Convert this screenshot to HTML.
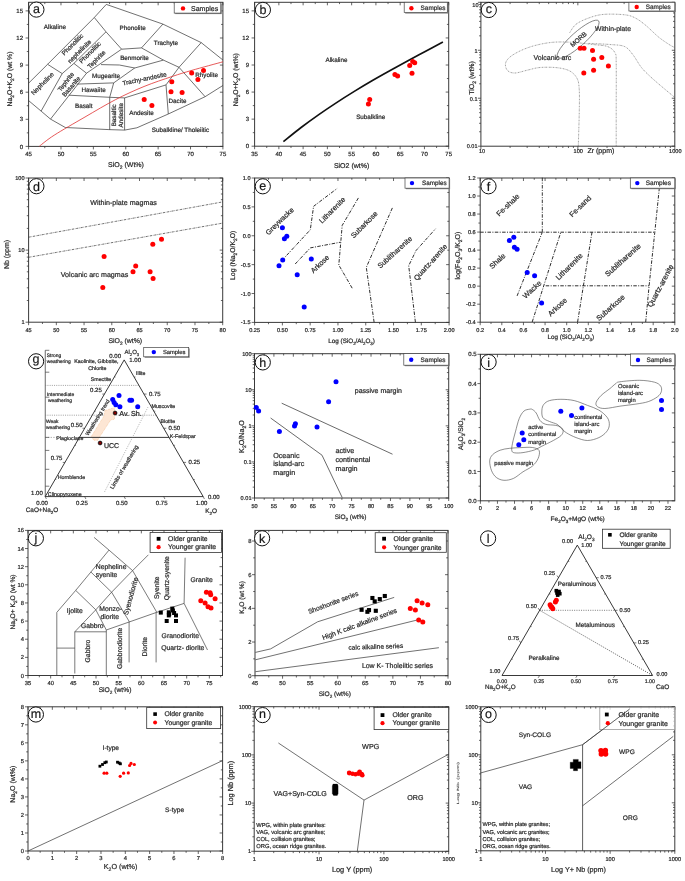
<!DOCTYPE html>
<html><head><meta charset="utf-8"><style>
html,body{margin:0;padding:0;background:#fff;}
svg{display:block;will-change:transform;}
text{font-family:"Liberation Sans", sans-serif;stroke:#333;stroke-width:0.22px;text-rendering:geometricPrecision;}
</style></head><body>
<svg width="685" height="881" viewBox="0 0 685 881">
<rect width="685" height="881" fill="#fff"/>
<rect x="28.6" y="2.3" width="194.3" height="144.1" fill="none" stroke="#3a3a3a" stroke-width="1.0"/>
<line x1="28.6" y1="146.4" x2="28.6" y2="149.4" stroke="#333" stroke-width="0.75" stroke-linecap="butt"/>
<line x1="28.6" y1="2.3" x2="28.6" y2="5.3" stroke="#333" stroke-width="0.75" stroke-linecap="butt"/>
<line x1="60.98" y1="146.4" x2="60.98" y2="149.4" stroke="#333" stroke-width="0.75" stroke-linecap="butt"/>
<line x1="60.98" y1="2.3" x2="60.98" y2="5.3" stroke="#333" stroke-width="0.75" stroke-linecap="butt"/>
<line x1="93.37" y1="146.4" x2="93.37" y2="149.4" stroke="#333" stroke-width="0.75" stroke-linecap="butt"/>
<line x1="93.37" y1="2.3" x2="93.37" y2="5.3" stroke="#333" stroke-width="0.75" stroke-linecap="butt"/>
<line x1="125.75" y1="146.4" x2="125.75" y2="149.4" stroke="#333" stroke-width="0.75" stroke-linecap="butt"/>
<line x1="125.75" y1="2.3" x2="125.75" y2="5.3" stroke="#333" stroke-width="0.75" stroke-linecap="butt"/>
<line x1="158.13" y1="146.4" x2="158.13" y2="149.4" stroke="#333" stroke-width="0.75" stroke-linecap="butt"/>
<line x1="158.13" y1="2.3" x2="158.13" y2="5.3" stroke="#333" stroke-width="0.75" stroke-linecap="butt"/>
<line x1="190.52" y1="146.4" x2="190.52" y2="149.4" stroke="#333" stroke-width="0.75" stroke-linecap="butt"/>
<line x1="190.52" y1="2.3" x2="190.52" y2="5.3" stroke="#333" stroke-width="0.75" stroke-linecap="butt"/>
<line x1="222.9" y1="146.4" x2="222.9" y2="149.4" stroke="#333" stroke-width="0.75" stroke-linecap="butt"/>
<line x1="222.9" y1="2.3" x2="222.9" y2="5.3" stroke="#333" stroke-width="0.75" stroke-linecap="butt"/>
<line x1="44.79" y1="146.4" x2="44.79" y2="148.2" stroke="#333" stroke-width="0.75" stroke-linecap="butt"/>
<line x1="44.79" y1="2.3" x2="44.79" y2="4.1" stroke="#333" stroke-width="0.75" stroke-linecap="butt"/>
<line x1="77.18" y1="146.4" x2="77.18" y2="148.2" stroke="#333" stroke-width="0.75" stroke-linecap="butt"/>
<line x1="77.18" y1="2.3" x2="77.18" y2="4.1" stroke="#333" stroke-width="0.75" stroke-linecap="butt"/>
<line x1="109.56" y1="146.4" x2="109.56" y2="148.2" stroke="#333" stroke-width="0.75" stroke-linecap="butt"/>
<line x1="109.56" y1="2.3" x2="109.56" y2="4.1" stroke="#333" stroke-width="0.75" stroke-linecap="butt"/>
<line x1="141.94" y1="146.4" x2="141.94" y2="148.2" stroke="#333" stroke-width="0.75" stroke-linecap="butt"/>
<line x1="141.94" y1="2.3" x2="141.94" y2="4.1" stroke="#333" stroke-width="0.75" stroke-linecap="butt"/>
<line x1="174.33" y1="146.4" x2="174.33" y2="148.2" stroke="#333" stroke-width="0.75" stroke-linecap="butt"/>
<line x1="174.33" y1="2.3" x2="174.33" y2="4.1" stroke="#333" stroke-width="0.75" stroke-linecap="butt"/>
<line x1="206.71" y1="146.4" x2="206.71" y2="148.2" stroke="#333" stroke-width="0.75" stroke-linecap="butt"/>
<line x1="206.71" y1="2.3" x2="206.71" y2="4.1" stroke="#333" stroke-width="0.75" stroke-linecap="butt"/>
<line x1="25.6" y1="146.4" x2="28.6" y2="146.4" stroke="#333" stroke-width="0.75" stroke-linecap="butt"/>
<line x1="219.9" y1="146.4" x2="222.9" y2="146.4" stroke="#333" stroke-width="0.75" stroke-linecap="butt"/>
<line x1="25.6" y1="119.3" x2="28.6" y2="119.3" stroke="#333" stroke-width="0.75" stroke-linecap="butt"/>
<line x1="219.9" y1="119.3" x2="222.9" y2="119.3" stroke="#333" stroke-width="0.75" stroke-linecap="butt"/>
<line x1="25.6" y1="92.19" x2="28.6" y2="92.19" stroke="#333" stroke-width="0.75" stroke-linecap="butt"/>
<line x1="219.9" y1="92.19" x2="222.9" y2="92.19" stroke="#333" stroke-width="0.75" stroke-linecap="butt"/>
<line x1="25.6" y1="65.09" x2="28.6" y2="65.09" stroke="#333" stroke-width="0.75" stroke-linecap="butt"/>
<line x1="219.9" y1="65.09" x2="222.9" y2="65.09" stroke="#333" stroke-width="0.75" stroke-linecap="butt"/>
<line x1="25.6" y1="37.99" x2="28.6" y2="37.99" stroke="#333" stroke-width="0.75" stroke-linecap="butt"/>
<line x1="219.9" y1="37.99" x2="222.9" y2="37.99" stroke="#333" stroke-width="0.75" stroke-linecap="butt"/>
<line x1="25.6" y1="10.88" x2="28.6" y2="10.88" stroke="#333" stroke-width="0.75" stroke-linecap="butt"/>
<line x1="219.9" y1="10.88" x2="222.9" y2="10.88" stroke="#333" stroke-width="0.75" stroke-linecap="butt"/>
<line x1="26.8" y1="132.85" x2="28.6" y2="132.85" stroke="#333" stroke-width="0.75" stroke-linecap="butt"/>
<line x1="221.1" y1="132.85" x2="222.9" y2="132.85" stroke="#333" stroke-width="0.75" stroke-linecap="butt"/>
<line x1="26.8" y1="105.74" x2="28.6" y2="105.74" stroke="#333" stroke-width="0.75" stroke-linecap="butt"/>
<line x1="221.1" y1="105.74" x2="222.9" y2="105.74" stroke="#333" stroke-width="0.75" stroke-linecap="butt"/>
<line x1="26.8" y1="78.64" x2="28.6" y2="78.64" stroke="#333" stroke-width="0.75" stroke-linecap="butt"/>
<line x1="221.1" y1="78.64" x2="222.9" y2="78.64" stroke="#333" stroke-width="0.75" stroke-linecap="butt"/>
<line x1="26.8" y1="51.54" x2="28.6" y2="51.54" stroke="#333" stroke-width="0.75" stroke-linecap="butt"/>
<line x1="221.1" y1="51.54" x2="222.9" y2="51.54" stroke="#333" stroke-width="0.75" stroke-linecap="butt"/>
<line x1="26.8" y1="24.43" x2="28.6" y2="24.43" stroke="#333" stroke-width="0.75" stroke-linecap="butt"/>
<line x1="221.1" y1="24.43" x2="222.9" y2="24.43" stroke="#333" stroke-width="0.75" stroke-linecap="butt"/>
<text x="28.6" y="156.35" font-size="6.0" text-anchor="middle" fill="#222">45</text>
<text x="60.98" y="156.35" font-size="6.0" text-anchor="middle" fill="#222">50</text>
<text x="93.37" y="156.35" font-size="6.0" text-anchor="middle" fill="#222">55</text>
<text x="125.75" y="156.35" font-size="6.0" text-anchor="middle" fill="#222">60</text>
<text x="158.13" y="156.35" font-size="6.0" text-anchor="middle" fill="#222">65</text>
<text x="190.52" y="156.35" font-size="6.0" text-anchor="middle" fill="#222">70</text>
<text x="222.9" y="156.35" font-size="6.0" text-anchor="middle" fill="#222">75</text>
<text x="23" y="148.55" font-size="6.0" text-anchor="end" fill="#222">0</text>
<text x="23" y="121.44" font-size="6.0" text-anchor="end" fill="#222">3</text>
<text x="23" y="94.34" font-size="6.0" text-anchor="end" fill="#222">6</text>
<text x="23" y="67.24" font-size="6.0" text-anchor="end" fill="#222">9</text>
<text x="23" y="40.13" font-size="6.0" text-anchor="end" fill="#222">12</text>
<text x="23" y="13.03" font-size="6.0" text-anchor="end" fill="#222">15</text>
<text x="126" y="166.81" font-size="7.0" text-anchor="middle" fill="#222">SiO<tspan font-size="70%" baseline-shift="-40%">2</tspan> (Wt%)</text>
<text x="9.7" y="81.28" font-size="6.9" text-anchor="middle" fill="#222" transform="rotate(-90 9.7 79)">Na<tspan font-size="70%" baseline-shift="-40%">2</tspan>O+K<tspan font-size="70%" baseline-shift="-40%">2</tspan>O (wt %)</text>
<polyline points="28.6,83.2 47.6,64.3 94.3,17.5 106.3,4.4 162.9,24.1 201.2,42.6 222.9,60" fill="none" stroke="#333" stroke-width="0.7" stroke-linejoin="miter"/>
<polyline points="28.6,100.6 41.1,111.1 50.5,119.1 65.3,127.5 108.9,129.6 124.6,130.1 136.9,127.8 168.3,114 205.1,96.7 222.9,85.5" fill="none" stroke="#333" stroke-width="0.7" stroke-linejoin="miter"/>
<polyline points="94.3,17.5 106,31.8 121.6,49.2" fill="none" stroke="#333" stroke-width="0.7" stroke-linejoin="miter"/>
<polyline points="47.6,64.3 62.2,73.6 73.9,63.4 106,31.8" fill="none" stroke="#333" stroke-width="0.7" stroke-linejoin="miter"/>
<polyline points="62.2,73.6 41.1,111.1" fill="none" stroke="#333" stroke-width="0.7" stroke-linejoin="miter"/>
<polyline points="73.9,63.4 86.5,73.2" fill="none" stroke="#333" stroke-width="0.7" stroke-linejoin="miter"/>
<polyline points="121.6,49.2 86.5,73.2 50.5,119.1" fill="none" stroke="#333" stroke-width="0.7" stroke-linejoin="miter"/>
<polyline points="121.6,49.2 141.5,47.9 162.9,24.1" fill="none" stroke="#333" stroke-width="0.7" stroke-linejoin="miter"/>
<polyline points="141.5,47.9 163.4,60.1 179,67.3 201.2,42.6" fill="none" stroke="#333" stroke-width="0.7" stroke-linejoin="miter"/>
<polyline points="101,64.6 119.4,65 134.7,68 163.4,60.1" fill="none" stroke="#333" stroke-width="0.7" stroke-linejoin="miter"/>
<polyline points="134.7,68 113.7,82.9 109.7,97.3 109.7,129.7" fill="none" stroke="#333" stroke-width="0.7" stroke-linejoin="miter"/>
<polyline points="76.8,84.1 113.7,82.9" fill="none" stroke="#333" stroke-width="0.7" stroke-linejoin="miter"/>
<polyline points="68.8,95.2 109.7,97.3 124.6,97.9 166,84.9 179,67.3 205.1,96.7" fill="none" stroke="#333" stroke-width="0.7" stroke-linejoin="miter"/>
<polyline points="124.6,97.9 124.6,130.1" fill="none" stroke="#333" stroke-width="0.7" stroke-linejoin="miter"/>
<polyline points="166,84.9 168.3,114" fill="none" stroke="#333" stroke-width="0.7" stroke-linejoin="miter"/>
<path d="M39.4,146.2 C41.87,144.37 46.6,140.07 54.2,135.2 C61.8,130.33 74.77,122.93 85,117 C95.23,111.07 105.77,104.68 115.6,99.6 C125.43,94.52 134.58,90.35 144,86.5 C153.42,82.65 164.1,79.2 172.1,76.5 C180.1,73.8 183.53,72.75 192,70.3 C200.47,67.85 217.75,63.22 222.9,61.8" fill="none" stroke="#e03030" stroke-width="0.8"/>
<circle cx="144.2" cy="99.5" r="2.5" fill="#f00" stroke="none" stroke-width="0"/>
<circle cx="151.9" cy="105.6" r="2.5" fill="#f00" stroke="none" stroke-width="0"/>
<circle cx="171.8" cy="81.8" r="2.5" fill="#f00" stroke="none" stroke-width="0"/>
<circle cx="171" cy="91.8" r="2.5" fill="#f00" stroke="none" stroke-width="0"/>
<circle cx="182.1" cy="92.6" r="2.5" fill="#f00" stroke="none" stroke-width="0"/>
<circle cx="191.7" cy="73.1" r="2.5" fill="#f00" stroke="none" stroke-width="0"/>
<circle cx="203.5" cy="70.6" r="2.5" fill="#f00" stroke="none" stroke-width="0"/>
<circle cx="197.9" cy="79.5" r="2.5" fill="#f00" stroke="none" stroke-width="0"/>
<text x="141.5" y="114.58" font-size="6.3" text-anchor="middle" fill="#222">Andesite</text>
<text x="177.5" y="102.58" font-size="6.3" text-anchor="middle" fill="#222">Dacite</text>
<text x="206.6" y="77.48" font-size="6.3" text-anchor="middle" fill="#222">Rhyolite</text>
<text x="180.5" y="131.88" font-size="6.3" text-anchor="middle" fill="#222">Subalkline/ Tholeiitic</text>
<text x="144.5" y="80.88" font-size="6.3" text-anchor="middle" fill="#222" transform="rotate(-12 144.5 78.8)">Trachy-andesite</text>
<text x="134.5" y="59.58" font-size="6.3" text-anchor="middle" fill="#222">Benmorite</text>
<text x="105.9" y="77.68" font-size="6.3" text-anchor="middle" fill="#222">Mugearite</text>
<text x="93.6" y="92.08" font-size="6.3" text-anchor="middle" fill="#222">Hawaiite</text>
<text x="83.7" y="108.28" font-size="6.3" text-anchor="middle" fill="#222">Basalt</text>
<text x="113.8" y="117.38" font-size="6.3" text-anchor="middle" fill="#222" transform="rotate(-90 113.8 115.3)">Basaltic</text>
<text x="120.8" y="117.38" font-size="6.3" text-anchor="middle" fill="#222" transform="rotate(-90 120.8 115.3)">Andesite</text>
<text x="132.6" y="29.98" font-size="6.3" text-anchor="middle" fill="#222">Phonolite</text>
<text x="166" y="44.98" font-size="6.3" text-anchor="middle" fill="#222">Trachyte</text>
<text x="54.9" y="28.68" font-size="6.3" text-anchor="middle" fill="#222">Alkaline</text>
<text x="72.5" y="46.58" font-size="6.3" text-anchor="middle" fill="#222" transform="rotate(-45 72.5 44.5)">Phonolitic</text>
<text x="79.5" y="53.58" font-size="6.3" text-anchor="middle" fill="#222" transform="rotate(-45 79.5 51.5)">nephelinite</text>
<text x="90" y="54.58" font-size="6.3" text-anchor="middle" fill="#222" transform="rotate(-45 90 52.5)">Phonolitic</text>
<text x="96.5" y="61.58" font-size="6.3" text-anchor="middle" fill="#222" transform="rotate(-45 96.5 59.5)">Tephrite</text>
<text x="42.5" y="85.74" font-size="6.5" text-anchor="middle" fill="#222" transform="rotate(-45 42.5 83.6)">Nepheline</text>
<text x="65.9" y="83.98" font-size="6.3" text-anchor="middle" fill="#222" transform="rotate(-52 65.9 81.9)">Tephrite</text>
<text x="71.2" y="88.58" font-size="6.3" text-anchor="middle" fill="#222" transform="rotate(-50 71.2 86.5)">Basanite</text>
<rect x="175.2" y="3.5" width="46.6" height="10.6" fill="#888" stroke="none" stroke-width="0"/>
<rect x="174.2" y="2.5" width="46.6" height="10.6" fill="#fff" stroke="#444" stroke-width="0.7"/>
<circle cx="183" cy="8.4" r="2.2" fill="#f00" stroke="none" stroke-width="0"/>
<text x="191" y="10.71" font-size="7.0" text-anchor="start" fill="#222">Samples</text>
<circle cx="36.4" cy="9.6" r="7.6" fill="#fff" stroke="#111" stroke-width="1.0"/>
<text x="36.4" y="12.85" font-size="12.5" text-anchor="middle" fill="#111">a</text>
<rect x="254.6" y="2.3" width="194.1" height="143.9" fill="none" stroke="#3a3a3a" stroke-width="1.0"/>
<line x1="254.6" y1="146.2" x2="254.6" y2="149.2" stroke="#333" stroke-width="0.75" stroke-linecap="butt"/>
<line x1="254.6" y1="2.3" x2="254.6" y2="5.3" stroke="#333" stroke-width="0.75" stroke-linecap="butt"/>
<line x1="278.86" y1="146.2" x2="278.86" y2="149.2" stroke="#333" stroke-width="0.75" stroke-linecap="butt"/>
<line x1="278.86" y1="2.3" x2="278.86" y2="5.3" stroke="#333" stroke-width="0.75" stroke-linecap="butt"/>
<line x1="303.12" y1="146.2" x2="303.12" y2="149.2" stroke="#333" stroke-width="0.75" stroke-linecap="butt"/>
<line x1="303.12" y1="2.3" x2="303.12" y2="5.3" stroke="#333" stroke-width="0.75" stroke-linecap="butt"/>
<line x1="327.39" y1="146.2" x2="327.39" y2="149.2" stroke="#333" stroke-width="0.75" stroke-linecap="butt"/>
<line x1="327.39" y1="2.3" x2="327.39" y2="5.3" stroke="#333" stroke-width="0.75" stroke-linecap="butt"/>
<line x1="351.65" y1="146.2" x2="351.65" y2="149.2" stroke="#333" stroke-width="0.75" stroke-linecap="butt"/>
<line x1="351.65" y1="2.3" x2="351.65" y2="5.3" stroke="#333" stroke-width="0.75" stroke-linecap="butt"/>
<line x1="375.91" y1="146.2" x2="375.91" y2="149.2" stroke="#333" stroke-width="0.75" stroke-linecap="butt"/>
<line x1="375.91" y1="2.3" x2="375.91" y2="5.3" stroke="#333" stroke-width="0.75" stroke-linecap="butt"/>
<line x1="400.17" y1="146.2" x2="400.17" y2="149.2" stroke="#333" stroke-width="0.75" stroke-linecap="butt"/>
<line x1="400.17" y1="2.3" x2="400.17" y2="5.3" stroke="#333" stroke-width="0.75" stroke-linecap="butt"/>
<line x1="424.44" y1="146.2" x2="424.44" y2="149.2" stroke="#333" stroke-width="0.75" stroke-linecap="butt"/>
<line x1="424.44" y1="2.3" x2="424.44" y2="5.3" stroke="#333" stroke-width="0.75" stroke-linecap="butt"/>
<line x1="448.7" y1="146.2" x2="448.7" y2="149.2" stroke="#333" stroke-width="0.75" stroke-linecap="butt"/>
<line x1="448.7" y1="2.3" x2="448.7" y2="5.3" stroke="#333" stroke-width="0.75" stroke-linecap="butt"/>
<line x1="266.73" y1="146.2" x2="266.73" y2="148" stroke="#333" stroke-width="0.75" stroke-linecap="butt"/>
<line x1="266.73" y1="2.3" x2="266.73" y2="4.1" stroke="#333" stroke-width="0.75" stroke-linecap="butt"/>
<line x1="290.99" y1="146.2" x2="290.99" y2="148" stroke="#333" stroke-width="0.75" stroke-linecap="butt"/>
<line x1="290.99" y1="2.3" x2="290.99" y2="4.1" stroke="#333" stroke-width="0.75" stroke-linecap="butt"/>
<line x1="315.26" y1="146.2" x2="315.26" y2="148" stroke="#333" stroke-width="0.75" stroke-linecap="butt"/>
<line x1="315.26" y1="2.3" x2="315.26" y2="4.1" stroke="#333" stroke-width="0.75" stroke-linecap="butt"/>
<line x1="339.52" y1="146.2" x2="339.52" y2="148" stroke="#333" stroke-width="0.75" stroke-linecap="butt"/>
<line x1="339.52" y1="2.3" x2="339.52" y2="4.1" stroke="#333" stroke-width="0.75" stroke-linecap="butt"/>
<line x1="363.78" y1="146.2" x2="363.78" y2="148" stroke="#333" stroke-width="0.75" stroke-linecap="butt"/>
<line x1="363.78" y1="2.3" x2="363.78" y2="4.1" stroke="#333" stroke-width="0.75" stroke-linecap="butt"/>
<line x1="388.04" y1="146.2" x2="388.04" y2="148" stroke="#333" stroke-width="0.75" stroke-linecap="butt"/>
<line x1="388.04" y1="2.3" x2="388.04" y2="4.1" stroke="#333" stroke-width="0.75" stroke-linecap="butt"/>
<line x1="412.31" y1="146.2" x2="412.31" y2="148" stroke="#333" stroke-width="0.75" stroke-linecap="butt"/>
<line x1="412.31" y1="2.3" x2="412.31" y2="4.1" stroke="#333" stroke-width="0.75" stroke-linecap="butt"/>
<line x1="436.57" y1="146.2" x2="436.57" y2="148" stroke="#333" stroke-width="0.75" stroke-linecap="butt"/>
<line x1="436.57" y1="2.3" x2="436.57" y2="4.1" stroke="#333" stroke-width="0.75" stroke-linecap="butt"/>
<line x1="251.6" y1="146.2" x2="254.6" y2="146.2" stroke="#333" stroke-width="0.75" stroke-linecap="butt"/>
<line x1="445.7" y1="146.2" x2="448.7" y2="146.2" stroke="#333" stroke-width="0.75" stroke-linecap="butt"/>
<line x1="251.6" y1="119.13" x2="254.6" y2="119.13" stroke="#333" stroke-width="0.75" stroke-linecap="butt"/>
<line x1="445.7" y1="119.13" x2="448.7" y2="119.13" stroke="#333" stroke-width="0.75" stroke-linecap="butt"/>
<line x1="251.6" y1="92.07" x2="254.6" y2="92.07" stroke="#333" stroke-width="0.75" stroke-linecap="butt"/>
<line x1="445.7" y1="92.07" x2="448.7" y2="92.07" stroke="#333" stroke-width="0.75" stroke-linecap="butt"/>
<line x1="251.6" y1="65" x2="254.6" y2="65" stroke="#333" stroke-width="0.75" stroke-linecap="butt"/>
<line x1="445.7" y1="65" x2="448.7" y2="65" stroke="#333" stroke-width="0.75" stroke-linecap="butt"/>
<line x1="251.6" y1="37.94" x2="254.6" y2="37.94" stroke="#333" stroke-width="0.75" stroke-linecap="butt"/>
<line x1="445.7" y1="37.94" x2="448.7" y2="37.94" stroke="#333" stroke-width="0.75" stroke-linecap="butt"/>
<line x1="251.6" y1="10.87" x2="254.6" y2="10.87" stroke="#333" stroke-width="0.75" stroke-linecap="butt"/>
<line x1="445.7" y1="10.87" x2="448.7" y2="10.87" stroke="#333" stroke-width="0.75" stroke-linecap="butt"/>
<line x1="252.8" y1="132.67" x2="254.6" y2="132.67" stroke="#333" stroke-width="0.75" stroke-linecap="butt"/>
<line x1="446.9" y1="132.67" x2="448.7" y2="132.67" stroke="#333" stroke-width="0.75" stroke-linecap="butt"/>
<line x1="252.8" y1="105.6" x2="254.6" y2="105.6" stroke="#333" stroke-width="0.75" stroke-linecap="butt"/>
<line x1="446.9" y1="105.6" x2="448.7" y2="105.6" stroke="#333" stroke-width="0.75" stroke-linecap="butt"/>
<line x1="252.8" y1="78.54" x2="254.6" y2="78.54" stroke="#333" stroke-width="0.75" stroke-linecap="butt"/>
<line x1="446.9" y1="78.54" x2="448.7" y2="78.54" stroke="#333" stroke-width="0.75" stroke-linecap="butt"/>
<line x1="252.8" y1="51.47" x2="254.6" y2="51.47" stroke="#333" stroke-width="0.75" stroke-linecap="butt"/>
<line x1="446.9" y1="51.47" x2="448.7" y2="51.47" stroke="#333" stroke-width="0.75" stroke-linecap="butt"/>
<line x1="252.8" y1="24.4" x2="254.6" y2="24.4" stroke="#333" stroke-width="0.75" stroke-linecap="butt"/>
<line x1="446.9" y1="24.4" x2="448.7" y2="24.4" stroke="#333" stroke-width="0.75" stroke-linecap="butt"/>
<text x="254.6" y="156.35" font-size="6.0" text-anchor="middle" fill="#222">35</text>
<text x="278.86" y="156.35" font-size="6.0" text-anchor="middle" fill="#222">40</text>
<text x="303.12" y="156.35" font-size="6.0" text-anchor="middle" fill="#222">45</text>
<text x="327.39" y="156.35" font-size="6.0" text-anchor="middle" fill="#222">50</text>
<text x="351.65" y="156.35" font-size="6.0" text-anchor="middle" fill="#222">55</text>
<text x="375.91" y="156.35" font-size="6.0" text-anchor="middle" fill="#222">60</text>
<text x="400.17" y="156.35" font-size="6.0" text-anchor="middle" fill="#222">65</text>
<text x="424.44" y="156.35" font-size="6.0" text-anchor="middle" fill="#222">70</text>
<text x="448.7" y="156.35" font-size="6.0" text-anchor="middle" fill="#222">75</text>
<text x="249" y="148.35" font-size="6.0" text-anchor="end" fill="#222">0</text>
<text x="249" y="121.28" font-size="6.0" text-anchor="end" fill="#222">3</text>
<text x="249" y="94.22" font-size="6.0" text-anchor="end" fill="#222">6</text>
<text x="249" y="67.15" font-size="6.0" text-anchor="end" fill="#222">9</text>
<text x="249" y="40.08" font-size="6.0" text-anchor="end" fill="#222">12</text>
<text x="249" y="13.02" font-size="6.0" text-anchor="end" fill="#222">15</text>
<text x="351.6" y="167.51" font-size="7.0" text-anchor="middle" fill="#222">SiO2 (wt%)</text>
<text x="235.7" y="81.88" font-size="6.9" text-anchor="middle" fill="#222" transform="rotate(-90 235.7 79.6)">Na<tspan font-size="70%" baseline-shift="-40%">2</tspan>O+K<tspan font-size="70%" baseline-shift="-40%">2</tspan>O (wt%)</text>
<path d="M283.4,141.6 C286.35,139.25 295.2,132 301.1,127.5 C307,123 312.88,118.75 318.8,114.6 C324.72,110.45 330.68,106.47 336.6,102.6 C342.52,98.73 348.4,95.03 354.3,91.4 C360.2,87.77 366.1,84.23 372,80.8 C377.9,77.37 383.78,74.1 389.7,70.8 C395.62,67.5 401.58,64.22 407.5,61 C413.42,57.78 419.3,54.68 425.2,51.5 C431.1,48.32 439.95,43.5 442.9,41.9" fill="none" stroke="#111" stroke-width="1.7"/>
<circle cx="368.4" cy="104.1" r="2.5" fill="#f00" stroke="none" stroke-width="0"/>
<circle cx="369.7" cy="99.4" r="2.5" fill="#f00" stroke="none" stroke-width="0"/>
<circle cx="394.9" cy="74.5" r="2.5" fill="#f00" stroke="none" stroke-width="0"/>
<circle cx="397.6" cy="75.9" r="2.5" fill="#f00" stroke="none" stroke-width="0"/>
<circle cx="409.7" cy="65.5" r="2.5" fill="#f00" stroke="none" stroke-width="0"/>
<circle cx="412.7" cy="61.5" r="2.5" fill="#f00" stroke="none" stroke-width="0"/>
<circle cx="414.7" cy="62.8" r="2.5" fill="#f00" stroke="none" stroke-width="0"/>
<circle cx="412" cy="73.2" r="2.5" fill="#f00" stroke="none" stroke-width="0"/>
<text x="336.5" y="62.48" font-size="6.3" text-anchor="middle" fill="#222">Alkaline</text>
<text x="370.7" y="118.98" font-size="6.3" text-anchor="middle" fill="#222">Subalkline</text>
<rect x="405.2" y="3.3" width="43.1" height="10.3" fill="#888" stroke="none" stroke-width="0"/>
<rect x="404.2" y="2.3" width="43.1" height="10.3" fill="#fff" stroke="#444" stroke-width="0.7"/>
<circle cx="411.4" cy="8.3" r="2.2" fill="#f00" stroke="none" stroke-width="0"/>
<text x="420.6" y="10.41" font-size="6.4" text-anchor="start" fill="#222">Samples</text>
<circle cx="262.9" cy="9.9" r="7.6" fill="#fff" stroke="#111" stroke-width="1.0"/>
<text x="262.9" y="14.4" font-size="12.5" text-anchor="middle" fill="#111">b</text>
<rect x="480.9" y="2.3" width="193.9" height="143.9" fill="none" stroke="#3a3a3a" stroke-width="1.0"/>
<line x1="480.9" y1="146.2" x2="480.9" y2="149.2" stroke="#333" stroke-width="0.75" stroke-linecap="butt"/>
<line x1="480.9" y1="2.3" x2="480.9" y2="5.3" stroke="#333" stroke-width="0.75" stroke-linecap="butt"/>
<line x1="577.85" y1="146.2" x2="577.85" y2="149.2" stroke="#333" stroke-width="0.75" stroke-linecap="butt"/>
<line x1="577.85" y1="2.3" x2="577.85" y2="5.3" stroke="#333" stroke-width="0.75" stroke-linecap="butt"/>
<line x1="674.8" y1="146.2" x2="674.8" y2="149.2" stroke="#333" stroke-width="0.75" stroke-linecap="butt"/>
<line x1="674.8" y1="2.3" x2="674.8" y2="5.3" stroke="#333" stroke-width="0.75" stroke-linecap="butt"/>
<line x1="510.08" y1="146.2" x2="510.08" y2="148" stroke="#333" stroke-width="0.75" stroke-linecap="butt"/>
<line x1="510.08" y1="2.3" x2="510.08" y2="4.1" stroke="#333" stroke-width="0.75" stroke-linecap="butt"/>
<line x1="527.16" y1="146.2" x2="527.16" y2="148" stroke="#333" stroke-width="0.75" stroke-linecap="butt"/>
<line x1="527.16" y1="2.3" x2="527.16" y2="4.1" stroke="#333" stroke-width="0.75" stroke-linecap="butt"/>
<line x1="539.27" y1="146.2" x2="539.27" y2="148" stroke="#333" stroke-width="0.75" stroke-linecap="butt"/>
<line x1="539.27" y1="2.3" x2="539.27" y2="4.1" stroke="#333" stroke-width="0.75" stroke-linecap="butt"/>
<line x1="548.67" y1="146.2" x2="548.67" y2="148" stroke="#333" stroke-width="0.75" stroke-linecap="butt"/>
<line x1="548.67" y1="2.3" x2="548.67" y2="4.1" stroke="#333" stroke-width="0.75" stroke-linecap="butt"/>
<line x1="556.34" y1="146.2" x2="556.34" y2="148" stroke="#333" stroke-width="0.75" stroke-linecap="butt"/>
<line x1="556.34" y1="2.3" x2="556.34" y2="4.1" stroke="#333" stroke-width="0.75" stroke-linecap="butt"/>
<line x1="562.83" y1="146.2" x2="562.83" y2="148" stroke="#333" stroke-width="0.75" stroke-linecap="butt"/>
<line x1="562.83" y1="2.3" x2="562.83" y2="4.1" stroke="#333" stroke-width="0.75" stroke-linecap="butt"/>
<line x1="568.45" y1="146.2" x2="568.45" y2="148" stroke="#333" stroke-width="0.75" stroke-linecap="butt"/>
<line x1="568.45" y1="2.3" x2="568.45" y2="4.1" stroke="#333" stroke-width="0.75" stroke-linecap="butt"/>
<line x1="573.41" y1="146.2" x2="573.41" y2="148" stroke="#333" stroke-width="0.75" stroke-linecap="butt"/>
<line x1="573.41" y1="2.3" x2="573.41" y2="4.1" stroke="#333" stroke-width="0.75" stroke-linecap="butt"/>
<line x1="607.03" y1="146.2" x2="607.03" y2="148" stroke="#333" stroke-width="0.75" stroke-linecap="butt"/>
<line x1="607.03" y1="2.3" x2="607.03" y2="4.1" stroke="#333" stroke-width="0.75" stroke-linecap="butt"/>
<line x1="624.11" y1="146.2" x2="624.11" y2="148" stroke="#333" stroke-width="0.75" stroke-linecap="butt"/>
<line x1="624.11" y1="2.3" x2="624.11" y2="4.1" stroke="#333" stroke-width="0.75" stroke-linecap="butt"/>
<line x1="636.22" y1="146.2" x2="636.22" y2="148" stroke="#333" stroke-width="0.75" stroke-linecap="butt"/>
<line x1="636.22" y1="2.3" x2="636.22" y2="4.1" stroke="#333" stroke-width="0.75" stroke-linecap="butt"/>
<line x1="645.62" y1="146.2" x2="645.62" y2="148" stroke="#333" stroke-width="0.75" stroke-linecap="butt"/>
<line x1="645.62" y1="2.3" x2="645.62" y2="4.1" stroke="#333" stroke-width="0.75" stroke-linecap="butt"/>
<line x1="653.29" y1="146.2" x2="653.29" y2="148" stroke="#333" stroke-width="0.75" stroke-linecap="butt"/>
<line x1="653.29" y1="2.3" x2="653.29" y2="4.1" stroke="#333" stroke-width="0.75" stroke-linecap="butt"/>
<line x1="659.78" y1="146.2" x2="659.78" y2="148" stroke="#333" stroke-width="0.75" stroke-linecap="butt"/>
<line x1="659.78" y1="2.3" x2="659.78" y2="4.1" stroke="#333" stroke-width="0.75" stroke-linecap="butt"/>
<line x1="665.4" y1="146.2" x2="665.4" y2="148" stroke="#333" stroke-width="0.75" stroke-linecap="butt"/>
<line x1="665.4" y1="2.3" x2="665.4" y2="4.1" stroke="#333" stroke-width="0.75" stroke-linecap="butt"/>
<line x1="670.36" y1="146.2" x2="670.36" y2="148" stroke="#333" stroke-width="0.75" stroke-linecap="butt"/>
<line x1="670.36" y1="2.3" x2="670.36" y2="4.1" stroke="#333" stroke-width="0.75" stroke-linecap="butt"/>
<line x1="477.9" y1="146.2" x2="480.9" y2="146.2" stroke="#333" stroke-width="0.75" stroke-linecap="butt"/>
<line x1="671.8" y1="146.2" x2="674.8" y2="146.2" stroke="#333" stroke-width="0.75" stroke-linecap="butt"/>
<line x1="477.9" y1="98.23" x2="480.9" y2="98.23" stroke="#333" stroke-width="0.75" stroke-linecap="butt"/>
<line x1="671.8" y1="98.23" x2="674.8" y2="98.23" stroke="#333" stroke-width="0.75" stroke-linecap="butt"/>
<line x1="477.9" y1="50.27" x2="480.9" y2="50.27" stroke="#333" stroke-width="0.75" stroke-linecap="butt"/>
<line x1="671.8" y1="50.27" x2="674.8" y2="50.27" stroke="#333" stroke-width="0.75" stroke-linecap="butt"/>
<line x1="477.9" y1="2.3" x2="480.9" y2="2.3" stroke="#333" stroke-width="0.75" stroke-linecap="butt"/>
<line x1="671.8" y1="2.3" x2="674.8" y2="2.3" stroke="#333" stroke-width="0.75" stroke-linecap="butt"/>
<line x1="479.1" y1="131.76" x2="480.9" y2="131.76" stroke="#333" stroke-width="0.75" stroke-linecap="butt"/>
<line x1="673" y1="131.76" x2="674.8" y2="131.76" stroke="#333" stroke-width="0.75" stroke-linecap="butt"/>
<line x1="479.1" y1="123.31" x2="480.9" y2="123.31" stroke="#333" stroke-width="0.75" stroke-linecap="butt"/>
<line x1="673" y1="123.31" x2="674.8" y2="123.31" stroke="#333" stroke-width="0.75" stroke-linecap="butt"/>
<line x1="479.1" y1="117.32" x2="480.9" y2="117.32" stroke="#333" stroke-width="0.75" stroke-linecap="butt"/>
<line x1="673" y1="117.32" x2="674.8" y2="117.32" stroke="#333" stroke-width="0.75" stroke-linecap="butt"/>
<line x1="479.1" y1="112.67" x2="480.9" y2="112.67" stroke="#333" stroke-width="0.75" stroke-linecap="butt"/>
<line x1="673" y1="112.67" x2="674.8" y2="112.67" stroke="#333" stroke-width="0.75" stroke-linecap="butt"/>
<line x1="479.1" y1="108.87" x2="480.9" y2="108.87" stroke="#333" stroke-width="0.75" stroke-linecap="butt"/>
<line x1="673" y1="108.87" x2="674.8" y2="108.87" stroke="#333" stroke-width="0.75" stroke-linecap="butt"/>
<line x1="479.1" y1="105.66" x2="480.9" y2="105.66" stroke="#333" stroke-width="0.75" stroke-linecap="butt"/>
<line x1="673" y1="105.66" x2="674.8" y2="105.66" stroke="#333" stroke-width="0.75" stroke-linecap="butt"/>
<line x1="479.1" y1="102.88" x2="480.9" y2="102.88" stroke="#333" stroke-width="0.75" stroke-linecap="butt"/>
<line x1="673" y1="102.88" x2="674.8" y2="102.88" stroke="#333" stroke-width="0.75" stroke-linecap="butt"/>
<line x1="479.1" y1="100.43" x2="480.9" y2="100.43" stroke="#333" stroke-width="0.75" stroke-linecap="butt"/>
<line x1="673" y1="100.43" x2="674.8" y2="100.43" stroke="#333" stroke-width="0.75" stroke-linecap="butt"/>
<line x1="479.1" y1="83.79" x2="480.9" y2="83.79" stroke="#333" stroke-width="0.75" stroke-linecap="butt"/>
<line x1="673" y1="83.79" x2="674.8" y2="83.79" stroke="#333" stroke-width="0.75" stroke-linecap="butt"/>
<line x1="479.1" y1="75.35" x2="480.9" y2="75.35" stroke="#333" stroke-width="0.75" stroke-linecap="butt"/>
<line x1="673" y1="75.35" x2="674.8" y2="75.35" stroke="#333" stroke-width="0.75" stroke-linecap="butt"/>
<line x1="479.1" y1="69.35" x2="480.9" y2="69.35" stroke="#333" stroke-width="0.75" stroke-linecap="butt"/>
<line x1="673" y1="69.35" x2="674.8" y2="69.35" stroke="#333" stroke-width="0.75" stroke-linecap="butt"/>
<line x1="479.1" y1="64.71" x2="480.9" y2="64.71" stroke="#333" stroke-width="0.75" stroke-linecap="butt"/>
<line x1="673" y1="64.71" x2="674.8" y2="64.71" stroke="#333" stroke-width="0.75" stroke-linecap="butt"/>
<line x1="479.1" y1="60.91" x2="480.9" y2="60.91" stroke="#333" stroke-width="0.75" stroke-linecap="butt"/>
<line x1="673" y1="60.91" x2="674.8" y2="60.91" stroke="#333" stroke-width="0.75" stroke-linecap="butt"/>
<line x1="479.1" y1="57.7" x2="480.9" y2="57.7" stroke="#333" stroke-width="0.75" stroke-linecap="butt"/>
<line x1="673" y1="57.7" x2="674.8" y2="57.7" stroke="#333" stroke-width="0.75" stroke-linecap="butt"/>
<line x1="479.1" y1="54.92" x2="480.9" y2="54.92" stroke="#333" stroke-width="0.75" stroke-linecap="butt"/>
<line x1="673" y1="54.92" x2="674.8" y2="54.92" stroke="#333" stroke-width="0.75" stroke-linecap="butt"/>
<line x1="479.1" y1="52.46" x2="480.9" y2="52.46" stroke="#333" stroke-width="0.75" stroke-linecap="butt"/>
<line x1="673" y1="52.46" x2="674.8" y2="52.46" stroke="#333" stroke-width="0.75" stroke-linecap="butt"/>
<line x1="479.1" y1="35.83" x2="480.9" y2="35.83" stroke="#333" stroke-width="0.75" stroke-linecap="butt"/>
<line x1="673" y1="35.83" x2="674.8" y2="35.83" stroke="#333" stroke-width="0.75" stroke-linecap="butt"/>
<line x1="479.1" y1="27.38" x2="480.9" y2="27.38" stroke="#333" stroke-width="0.75" stroke-linecap="butt"/>
<line x1="673" y1="27.38" x2="674.8" y2="27.38" stroke="#333" stroke-width="0.75" stroke-linecap="butt"/>
<line x1="479.1" y1="21.39" x2="480.9" y2="21.39" stroke="#333" stroke-width="0.75" stroke-linecap="butt"/>
<line x1="673" y1="21.39" x2="674.8" y2="21.39" stroke="#333" stroke-width="0.75" stroke-linecap="butt"/>
<line x1="479.1" y1="16.74" x2="480.9" y2="16.74" stroke="#333" stroke-width="0.75" stroke-linecap="butt"/>
<line x1="673" y1="16.74" x2="674.8" y2="16.74" stroke="#333" stroke-width="0.75" stroke-linecap="butt"/>
<line x1="479.1" y1="12.94" x2="480.9" y2="12.94" stroke="#333" stroke-width="0.75" stroke-linecap="butt"/>
<line x1="673" y1="12.94" x2="674.8" y2="12.94" stroke="#333" stroke-width="0.75" stroke-linecap="butt"/>
<line x1="479.1" y1="9.73" x2="480.9" y2="9.73" stroke="#333" stroke-width="0.75" stroke-linecap="butt"/>
<line x1="673" y1="9.73" x2="674.8" y2="9.73" stroke="#333" stroke-width="0.75" stroke-linecap="butt"/>
<line x1="479.1" y1="6.95" x2="480.9" y2="6.95" stroke="#333" stroke-width="0.75" stroke-linecap="butt"/>
<line x1="673" y1="6.95" x2="674.8" y2="6.95" stroke="#333" stroke-width="0.75" stroke-linecap="butt"/>
<line x1="479.1" y1="4.49" x2="480.9" y2="4.49" stroke="#333" stroke-width="0.75" stroke-linecap="butt"/>
<line x1="673" y1="4.49" x2="674.8" y2="4.49" stroke="#333" stroke-width="0.75" stroke-linecap="butt"/>
<text x="482" y="152.57" font-size="5.5" text-anchor="middle" fill="#222">10</text>
<text x="578.2" y="152.6" font-size="5.6" text-anchor="middle" fill="#222">100</text>
<text x="675.3" y="152.6" font-size="5.6" text-anchor="middle" fill="#222">1000</text>
<text x="600.9" y="153.03" font-size="7.05" text-anchor="middle" fill="#222">Zr (ppm)</text>
<text x="478.5" y="6.7" font-size="5.6" text-anchor="end" fill="#222">10</text>
<text x="477.5" y="52.97" font-size="5.5" text-anchor="end" fill="#222">1</text>
<text x="477.5" y="100.97" font-size="5.5" text-anchor="end" fill="#222">0.1</text>
<text x="477.5" y="148.47" font-size="5.5" text-anchor="end" fill="#222">0.01</text>
<text x="471.9" y="80.21" font-size="7.0" text-anchor="middle" fill="#222" transform="rotate(-90 471.9 77.9)">TiO<tspan font-size="70%" baseline-shift="-40%">2</tspan> (wt%)</text>
<path d="M616.2,146.2 C616.2,140.17 616.2,123.78 616.2,110 C616.2,96.22 616.38,73 616.2,63.5 C616.02,54 616.52,55.82 615.1,53 C613.68,50.18 611.4,48.02 607.7,46.6 C604,45.18 598.88,45.22 592.9,44.5 C586.92,43.78 578.5,42.67 571.8,42.3 C565.1,41.93 558.83,41.77 552.7,42.3 C546.57,42.83 540.28,44.13 535,45.5 C529.72,46.87 525.17,48.58 521,50.5 C516.83,52.42 512.58,54.83 510,57 C507.42,59.17 505.92,61.25 505.5,63.5 C505.08,65.75 505.92,68.92 507.5,70.5 C509.08,72.08 511.58,73.08 515,73 C518.42,72.92 523.83,70.92 528,70 C532.17,69.08 535.17,67.88 540,67.5 C544.83,67.12 552.07,67.13 557,67.7 C561.93,68.27 566.27,69.13 569.6,70.9 C572.93,72.67 575.4,75.3 577,78.3 C578.6,81.3 578.82,83.62 579.2,88.9 C579.58,94.18 579.45,100.45 579.3,110 C579.15,119.55 578.47,140.17 578.3,146.2" fill="none" stroke="#666" stroke-width="0.6" stroke-dasharray="1.6,0.7,0.5,0.7"/>
<path d="M569.6,32.8 C570.67,31.38 572.82,26.77 576,24.3 C579.18,21.83 584.12,19.65 588.7,18 C593.28,16.35 597.5,14.93 603.5,14.4 C609.5,13.87 619.4,14.2 624.7,14.8 C630,15.4 631.78,16.23 635.3,18 C638.82,19.77 641.93,22.23 645.8,25.4 C649.67,28.57 654.62,33.82 658.5,37 C662.38,40.18 666.38,42.73 669.1,44.5 C671.82,46.27 673.85,47.08 674.8,47.6" fill="none" stroke="#666" stroke-width="0.6" stroke-dasharray="1.6,0.7,0.5,0.7"/>
<path d="M588.7,43.4 C592.23,43.58 603.9,43.97 609.9,44.5 C615.9,45.03 620.83,44.85 624.7,46.6 C628.57,48.35 630.28,51.48 633.1,55 C635.92,58.52 638.42,63.82 641.6,67.7 C644.78,71.58 647.97,74.42 652.2,78.3 C656.43,82.18 663.23,87.82 667,91 C670.77,94.18 673.5,96.33 674.8,97.4" fill="none" stroke="#666" stroke-width="0.6" stroke-dasharray="1.6,0.7,0.5,0.7"/>
<ellipse cx="578.1" cy="39.2" rx="27.5" ry="7" transform="rotate(-41.8 578.1 39.2)" fill="none" stroke="#444" stroke-width="0.6"/>
<circle cx="580.2" cy="48.3" r="2.5" fill="#f00" stroke="none" stroke-width="0"/>
<circle cx="584" cy="48.3" r="2.5" fill="#f00" stroke="none" stroke-width="0"/>
<circle cx="592.5" cy="50.4" r="2.5" fill="#f00" stroke="none" stroke-width="0"/>
<circle cx="601.8" cy="57.6" r="2.5" fill="#f00" stroke="none" stroke-width="0"/>
<circle cx="593.6" cy="59.3" r="2.5" fill="#f00" stroke="none" stroke-width="0"/>
<circle cx="608.4" cy="66" r="2.5" fill="#f00" stroke="none" stroke-width="0"/>
<circle cx="593.6" cy="70.3" r="2.5" fill="#f00" stroke="none" stroke-width="0"/>
<circle cx="583.8" cy="73" r="2.5" fill="#f00" stroke="none" stroke-width="0"/>
<text x="613" y="30.84" font-size="6.8" text-anchor="middle" fill="#222">Within-plate</text>
<text x="552.4" y="59.91" font-size="7.0" text-anchor="middle" fill="#222">Volcanic arc</text>
<text x="578.5" y="41.65" font-size="6.5" text-anchor="middle" fill="#222" transform="rotate(-42 578.5 39.5)">MORB</text>
<rect x="629.9" y="3.3" width="45.9" height="8.7" fill="#888" stroke="none" stroke-width="0"/>
<rect x="628.9" y="2.3" width="45.9" height="8.7" fill="#fff" stroke="#444" stroke-width="0.7"/>
<circle cx="636.7" cy="7" r="2.2" fill="#f00" stroke="none" stroke-width="0"/>
<text x="645.8" y="9.11" font-size="6.4" text-anchor="start" fill="#222">Samples</text>
<circle cx="488.8" cy="10" r="7.6" fill="#fff" stroke="#111" stroke-width="1.0"/>
<text x="488.8" y="13.25" font-size="12.5" text-anchor="middle" fill="#111">c</text>
<rect x="28.6" y="178" width="194.1" height="144.2" fill="none" stroke="#3a3a3a" stroke-width="1.0"/>
<line x1="28.6" y1="322.2" x2="28.6" y2="325.2" stroke="#333" stroke-width="0.75" stroke-linecap="butt"/>
<line x1="28.6" y1="178" x2="28.6" y2="181" stroke="#333" stroke-width="0.75" stroke-linecap="butt"/>
<line x1="56.33" y1="322.2" x2="56.33" y2="325.2" stroke="#333" stroke-width="0.75" stroke-linecap="butt"/>
<line x1="56.33" y1="178" x2="56.33" y2="181" stroke="#333" stroke-width="0.75" stroke-linecap="butt"/>
<line x1="84.06" y1="322.2" x2="84.06" y2="325.2" stroke="#333" stroke-width="0.75" stroke-linecap="butt"/>
<line x1="84.06" y1="178" x2="84.06" y2="181" stroke="#333" stroke-width="0.75" stroke-linecap="butt"/>
<line x1="111.79" y1="322.2" x2="111.79" y2="325.2" stroke="#333" stroke-width="0.75" stroke-linecap="butt"/>
<line x1="111.79" y1="178" x2="111.79" y2="181" stroke="#333" stroke-width="0.75" stroke-linecap="butt"/>
<line x1="139.51" y1="322.2" x2="139.51" y2="325.2" stroke="#333" stroke-width="0.75" stroke-linecap="butt"/>
<line x1="139.51" y1="178" x2="139.51" y2="181" stroke="#333" stroke-width="0.75" stroke-linecap="butt"/>
<line x1="167.24" y1="322.2" x2="167.24" y2="325.2" stroke="#333" stroke-width="0.75" stroke-linecap="butt"/>
<line x1="167.24" y1="178" x2="167.24" y2="181" stroke="#333" stroke-width="0.75" stroke-linecap="butt"/>
<line x1="194.97" y1="322.2" x2="194.97" y2="325.2" stroke="#333" stroke-width="0.75" stroke-linecap="butt"/>
<line x1="194.97" y1="178" x2="194.97" y2="181" stroke="#333" stroke-width="0.75" stroke-linecap="butt"/>
<line x1="222.7" y1="322.2" x2="222.7" y2="325.2" stroke="#333" stroke-width="0.75" stroke-linecap="butt"/>
<line x1="222.7" y1="178" x2="222.7" y2="181" stroke="#333" stroke-width="0.75" stroke-linecap="butt"/>
<line x1="42.46" y1="322.2" x2="42.46" y2="324" stroke="#333" stroke-width="0.75" stroke-linecap="butt"/>
<line x1="42.46" y1="178" x2="42.46" y2="179.8" stroke="#333" stroke-width="0.75" stroke-linecap="butt"/>
<line x1="70.19" y1="322.2" x2="70.19" y2="324" stroke="#333" stroke-width="0.75" stroke-linecap="butt"/>
<line x1="70.19" y1="178" x2="70.19" y2="179.8" stroke="#333" stroke-width="0.75" stroke-linecap="butt"/>
<line x1="97.92" y1="322.2" x2="97.92" y2="324" stroke="#333" stroke-width="0.75" stroke-linecap="butt"/>
<line x1="97.92" y1="178" x2="97.92" y2="179.8" stroke="#333" stroke-width="0.75" stroke-linecap="butt"/>
<line x1="125.65" y1="322.2" x2="125.65" y2="324" stroke="#333" stroke-width="0.75" stroke-linecap="butt"/>
<line x1="125.65" y1="178" x2="125.65" y2="179.8" stroke="#333" stroke-width="0.75" stroke-linecap="butt"/>
<line x1="153.38" y1="322.2" x2="153.38" y2="324" stroke="#333" stroke-width="0.75" stroke-linecap="butt"/>
<line x1="153.38" y1="178" x2="153.38" y2="179.8" stroke="#333" stroke-width="0.75" stroke-linecap="butt"/>
<line x1="181.11" y1="322.2" x2="181.11" y2="324" stroke="#333" stroke-width="0.75" stroke-linecap="butt"/>
<line x1="181.11" y1="178" x2="181.11" y2="179.8" stroke="#333" stroke-width="0.75" stroke-linecap="butt"/>
<line x1="208.84" y1="322.2" x2="208.84" y2="324" stroke="#333" stroke-width="0.75" stroke-linecap="butt"/>
<line x1="208.84" y1="178" x2="208.84" y2="179.8" stroke="#333" stroke-width="0.75" stroke-linecap="butt"/>
<line x1="25.6" y1="322.2" x2="28.6" y2="322.2" stroke="#333" stroke-width="0.75" stroke-linecap="butt"/>
<line x1="219.7" y1="322.2" x2="222.7" y2="322.2" stroke="#333" stroke-width="0.75" stroke-linecap="butt"/>
<line x1="25.6" y1="250.1" x2="28.6" y2="250.1" stroke="#333" stroke-width="0.75" stroke-linecap="butt"/>
<line x1="219.7" y1="250.1" x2="222.7" y2="250.1" stroke="#333" stroke-width="0.75" stroke-linecap="butt"/>
<line x1="25.6" y1="178" x2="28.6" y2="178" stroke="#333" stroke-width="0.75" stroke-linecap="butt"/>
<line x1="219.7" y1="178" x2="222.7" y2="178" stroke="#333" stroke-width="0.75" stroke-linecap="butt"/>
<line x1="26.8" y1="300.5" x2="28.6" y2="300.5" stroke="#333" stroke-width="0.75" stroke-linecap="butt"/>
<line x1="220.9" y1="300.5" x2="222.7" y2="300.5" stroke="#333" stroke-width="0.75" stroke-linecap="butt"/>
<line x1="26.8" y1="287.8" x2="28.6" y2="287.8" stroke="#333" stroke-width="0.75" stroke-linecap="butt"/>
<line x1="220.9" y1="287.8" x2="222.7" y2="287.8" stroke="#333" stroke-width="0.75" stroke-linecap="butt"/>
<line x1="26.8" y1="278.79" x2="28.6" y2="278.79" stroke="#333" stroke-width="0.75" stroke-linecap="butt"/>
<line x1="220.9" y1="278.79" x2="222.7" y2="278.79" stroke="#333" stroke-width="0.75" stroke-linecap="butt"/>
<line x1="26.8" y1="271.8" x2="28.6" y2="271.8" stroke="#333" stroke-width="0.75" stroke-linecap="butt"/>
<line x1="220.9" y1="271.8" x2="222.7" y2="271.8" stroke="#333" stroke-width="0.75" stroke-linecap="butt"/>
<line x1="26.8" y1="266.1" x2="28.6" y2="266.1" stroke="#333" stroke-width="0.75" stroke-linecap="butt"/>
<line x1="220.9" y1="266.1" x2="222.7" y2="266.1" stroke="#333" stroke-width="0.75" stroke-linecap="butt"/>
<line x1="26.8" y1="261.27" x2="28.6" y2="261.27" stroke="#333" stroke-width="0.75" stroke-linecap="butt"/>
<line x1="220.9" y1="261.27" x2="222.7" y2="261.27" stroke="#333" stroke-width="0.75" stroke-linecap="butt"/>
<line x1="26.8" y1="257.09" x2="28.6" y2="257.09" stroke="#333" stroke-width="0.75" stroke-linecap="butt"/>
<line x1="220.9" y1="257.09" x2="222.7" y2="257.09" stroke="#333" stroke-width="0.75" stroke-linecap="butt"/>
<line x1="26.8" y1="253.4" x2="28.6" y2="253.4" stroke="#333" stroke-width="0.75" stroke-linecap="butt"/>
<line x1="220.9" y1="253.4" x2="222.7" y2="253.4" stroke="#333" stroke-width="0.75" stroke-linecap="butt"/>
<line x1="26.8" y1="228.4" x2="28.6" y2="228.4" stroke="#333" stroke-width="0.75" stroke-linecap="butt"/>
<line x1="220.9" y1="228.4" x2="222.7" y2="228.4" stroke="#333" stroke-width="0.75" stroke-linecap="butt"/>
<line x1="26.8" y1="215.7" x2="28.6" y2="215.7" stroke="#333" stroke-width="0.75" stroke-linecap="butt"/>
<line x1="220.9" y1="215.7" x2="222.7" y2="215.7" stroke="#333" stroke-width="0.75" stroke-linecap="butt"/>
<line x1="26.8" y1="206.69" x2="28.6" y2="206.69" stroke="#333" stroke-width="0.75" stroke-linecap="butt"/>
<line x1="220.9" y1="206.69" x2="222.7" y2="206.69" stroke="#333" stroke-width="0.75" stroke-linecap="butt"/>
<line x1="26.8" y1="199.7" x2="28.6" y2="199.7" stroke="#333" stroke-width="0.75" stroke-linecap="butt"/>
<line x1="220.9" y1="199.7" x2="222.7" y2="199.7" stroke="#333" stroke-width="0.75" stroke-linecap="butt"/>
<line x1="26.8" y1="194" x2="28.6" y2="194" stroke="#333" stroke-width="0.75" stroke-linecap="butt"/>
<line x1="220.9" y1="194" x2="222.7" y2="194" stroke="#333" stroke-width="0.75" stroke-linecap="butt"/>
<line x1="26.8" y1="189.17" x2="28.6" y2="189.17" stroke="#333" stroke-width="0.75" stroke-linecap="butt"/>
<line x1="220.9" y1="189.17" x2="222.7" y2="189.17" stroke="#333" stroke-width="0.75" stroke-linecap="butt"/>
<line x1="26.8" y1="184.99" x2="28.6" y2="184.99" stroke="#333" stroke-width="0.75" stroke-linecap="butt"/>
<line x1="220.9" y1="184.99" x2="222.7" y2="184.99" stroke="#333" stroke-width="0.75" stroke-linecap="butt"/>
<line x1="26.8" y1="181.3" x2="28.6" y2="181.3" stroke="#333" stroke-width="0.75" stroke-linecap="butt"/>
<line x1="220.9" y1="181.3" x2="222.7" y2="181.3" stroke="#333" stroke-width="0.75" stroke-linecap="butt"/>
<text x="28.6" y="331.5" font-size="5.6" text-anchor="middle" fill="#222">45</text>
<text x="56.33" y="331.5" font-size="5.6" text-anchor="middle" fill="#222">50</text>
<text x="84.06" y="331.5" font-size="5.6" text-anchor="middle" fill="#222">55</text>
<text x="111.79" y="331.5" font-size="5.6" text-anchor="middle" fill="#222">60</text>
<text x="139.51" y="331.5" font-size="5.6" text-anchor="middle" fill="#222">65</text>
<text x="167.24" y="331.5" font-size="5.6" text-anchor="middle" fill="#222">70</text>
<text x="194.97" y="331.5" font-size="5.6" text-anchor="middle" fill="#222">75</text>
<text x="222.7" y="331.5" font-size="5.6" text-anchor="middle" fill="#222">80</text>
<text x="24.5" y="179.7" font-size="5.6" text-anchor="end" fill="#222">100</text>
<text x="24.5" y="252" font-size="5.6" text-anchor="end" fill="#222">10</text>
<text x="24.5" y="324.2" font-size="5.6" text-anchor="end" fill="#222">1</text>
<text x="6.5" y="256.81" font-size="7.0" text-anchor="middle" fill="#222" transform="rotate(-90 6.5 254.5)">Nb (ppm)</text>
<line x1="28.6" y1="237.2" x2="222.7" y2="201.9" stroke="#333" stroke-width="0.7" stroke-dasharray="2.2,0.8,0.6,0.8" stroke-linecap="butt"/>
<line x1="28.6" y1="257.3" x2="222.7" y2="223.1" stroke="#333" stroke-width="0.7" stroke-dasharray="2.2,0.8,0.6,0.8" stroke-linecap="butt"/>
<circle cx="104.1" cy="256.6" r="2.5" fill="#f00" stroke="none" stroke-width="0"/>
<circle cx="102.8" cy="287.5" r="2.5" fill="#f00" stroke="none" stroke-width="0"/>
<circle cx="133" cy="271.7" r="2.5" fill="#f00" stroke="none" stroke-width="0"/>
<circle cx="135.7" cy="266" r="2.5" fill="#f00" stroke="none" stroke-width="0"/>
<circle cx="150.1" cy="271.7" r="2.5" fill="#f00" stroke="none" stroke-width="0"/>
<circle cx="153.1" cy="278.5" r="2.5" fill="#f00" stroke="none" stroke-width="0"/>
<circle cx="152.8" cy="244.2" r="2.5" fill="#f00" stroke="none" stroke-width="0"/>
<circle cx="161.5" cy="239.2" r="2.5" fill="#f00" stroke="none" stroke-width="0"/>
<text x="123.6" y="204.94" font-size="7.1" text-anchor="middle" fill="#222">Within-plate magmas</text>
<text x="94.5" y="277.14" font-size="7.1" text-anchor="middle" fill="#222">Volcanic arc magmas</text>
<circle cx="36.4" cy="186.2" r="7.6" fill="#fff" stroke="#111" stroke-width="1.0"/>
<text x="36.4" y="190.7" font-size="12.5" text-anchor="middle" fill="#111">d</text>
<rect x="254.6" y="178" width="194.5" height="144.4" fill="none" stroke="#3a3a3a" stroke-width="1.0"/>
<line x1="254.6" y1="322.4" x2="254.6" y2="325.4" stroke="#333" stroke-width="0.75" stroke-linecap="butt"/>
<line x1="254.6" y1="178" x2="254.6" y2="181" stroke="#333" stroke-width="0.75" stroke-linecap="butt"/>
<line x1="282.39" y1="322.4" x2="282.39" y2="325.4" stroke="#333" stroke-width="0.75" stroke-linecap="butt"/>
<line x1="282.39" y1="178" x2="282.39" y2="181" stroke="#333" stroke-width="0.75" stroke-linecap="butt"/>
<line x1="310.17" y1="322.4" x2="310.17" y2="325.4" stroke="#333" stroke-width="0.75" stroke-linecap="butt"/>
<line x1="310.17" y1="178" x2="310.17" y2="181" stroke="#333" stroke-width="0.75" stroke-linecap="butt"/>
<line x1="337.96" y1="322.4" x2="337.96" y2="325.4" stroke="#333" stroke-width="0.75" stroke-linecap="butt"/>
<line x1="337.96" y1="178" x2="337.96" y2="181" stroke="#333" stroke-width="0.75" stroke-linecap="butt"/>
<line x1="365.74" y1="322.4" x2="365.74" y2="325.4" stroke="#333" stroke-width="0.75" stroke-linecap="butt"/>
<line x1="365.74" y1="178" x2="365.74" y2="181" stroke="#333" stroke-width="0.75" stroke-linecap="butt"/>
<line x1="393.53" y1="322.4" x2="393.53" y2="325.4" stroke="#333" stroke-width="0.75" stroke-linecap="butt"/>
<line x1="393.53" y1="178" x2="393.53" y2="181" stroke="#333" stroke-width="0.75" stroke-linecap="butt"/>
<line x1="421.31" y1="322.4" x2="421.31" y2="325.4" stroke="#333" stroke-width="0.75" stroke-linecap="butt"/>
<line x1="421.31" y1="178" x2="421.31" y2="181" stroke="#333" stroke-width="0.75" stroke-linecap="butt"/>
<line x1="449.1" y1="322.4" x2="449.1" y2="325.4" stroke="#333" stroke-width="0.75" stroke-linecap="butt"/>
<line x1="449.1" y1="178" x2="449.1" y2="181" stroke="#333" stroke-width="0.75" stroke-linecap="butt"/>
<line x1="268.49" y1="322.4" x2="268.49" y2="324.2" stroke="#333" stroke-width="0.75" stroke-linecap="butt"/>
<line x1="268.49" y1="178" x2="268.49" y2="179.8" stroke="#333" stroke-width="0.75" stroke-linecap="butt"/>
<line x1="296.28" y1="322.4" x2="296.28" y2="324.2" stroke="#333" stroke-width="0.75" stroke-linecap="butt"/>
<line x1="296.28" y1="178" x2="296.28" y2="179.8" stroke="#333" stroke-width="0.75" stroke-linecap="butt"/>
<line x1="324.06" y1="322.4" x2="324.06" y2="324.2" stroke="#333" stroke-width="0.75" stroke-linecap="butt"/>
<line x1="324.06" y1="178" x2="324.06" y2="179.8" stroke="#333" stroke-width="0.75" stroke-linecap="butt"/>
<line x1="351.85" y1="322.4" x2="351.85" y2="324.2" stroke="#333" stroke-width="0.75" stroke-linecap="butt"/>
<line x1="351.85" y1="178" x2="351.85" y2="179.8" stroke="#333" stroke-width="0.75" stroke-linecap="butt"/>
<line x1="379.64" y1="322.4" x2="379.64" y2="324.2" stroke="#333" stroke-width="0.75" stroke-linecap="butt"/>
<line x1="379.64" y1="178" x2="379.64" y2="179.8" stroke="#333" stroke-width="0.75" stroke-linecap="butt"/>
<line x1="407.42" y1="322.4" x2="407.42" y2="324.2" stroke="#333" stroke-width="0.75" stroke-linecap="butt"/>
<line x1="407.42" y1="178" x2="407.42" y2="179.8" stroke="#333" stroke-width="0.75" stroke-linecap="butt"/>
<line x1="435.21" y1="322.4" x2="435.21" y2="324.2" stroke="#333" stroke-width="0.75" stroke-linecap="butt"/>
<line x1="435.21" y1="178" x2="435.21" y2="179.8" stroke="#333" stroke-width="0.75" stroke-linecap="butt"/>
<line x1="251.6" y1="322.4" x2="254.6" y2="322.4" stroke="#333" stroke-width="0.75" stroke-linecap="butt"/>
<line x1="446.1" y1="322.4" x2="449.1" y2="322.4" stroke="#333" stroke-width="0.75" stroke-linecap="butt"/>
<line x1="251.6" y1="293.52" x2="254.6" y2="293.52" stroke="#333" stroke-width="0.75" stroke-linecap="butt"/>
<line x1="446.1" y1="293.52" x2="449.1" y2="293.52" stroke="#333" stroke-width="0.75" stroke-linecap="butt"/>
<line x1="251.6" y1="264.64" x2="254.6" y2="264.64" stroke="#333" stroke-width="0.75" stroke-linecap="butt"/>
<line x1="446.1" y1="264.64" x2="449.1" y2="264.64" stroke="#333" stroke-width="0.75" stroke-linecap="butt"/>
<line x1="251.6" y1="235.76" x2="254.6" y2="235.76" stroke="#333" stroke-width="0.75" stroke-linecap="butt"/>
<line x1="446.1" y1="235.76" x2="449.1" y2="235.76" stroke="#333" stroke-width="0.75" stroke-linecap="butt"/>
<line x1="251.6" y1="206.88" x2="254.6" y2="206.88" stroke="#333" stroke-width="0.75" stroke-linecap="butt"/>
<line x1="446.1" y1="206.88" x2="449.1" y2="206.88" stroke="#333" stroke-width="0.75" stroke-linecap="butt"/>
<line x1="251.6" y1="178" x2="254.6" y2="178" stroke="#333" stroke-width="0.75" stroke-linecap="butt"/>
<line x1="446.1" y1="178" x2="449.1" y2="178" stroke="#333" stroke-width="0.75" stroke-linecap="butt"/>
<line x1="252.8" y1="307.96" x2="254.6" y2="307.96" stroke="#333" stroke-width="0.75" stroke-linecap="butt"/>
<line x1="447.3" y1="307.96" x2="449.1" y2="307.96" stroke="#333" stroke-width="0.75" stroke-linecap="butt"/>
<line x1="252.8" y1="279.08" x2="254.6" y2="279.08" stroke="#333" stroke-width="0.75" stroke-linecap="butt"/>
<line x1="447.3" y1="279.08" x2="449.1" y2="279.08" stroke="#333" stroke-width="0.75" stroke-linecap="butt"/>
<line x1="252.8" y1="250.2" x2="254.6" y2="250.2" stroke="#333" stroke-width="0.75" stroke-linecap="butt"/>
<line x1="447.3" y1="250.2" x2="449.1" y2="250.2" stroke="#333" stroke-width="0.75" stroke-linecap="butt"/>
<line x1="252.8" y1="221.32" x2="254.6" y2="221.32" stroke="#333" stroke-width="0.75" stroke-linecap="butt"/>
<line x1="447.3" y1="221.32" x2="449.1" y2="221.32" stroke="#333" stroke-width="0.75" stroke-linecap="butt"/>
<line x1="252.8" y1="192.44" x2="254.6" y2="192.44" stroke="#333" stroke-width="0.75" stroke-linecap="butt"/>
<line x1="447.3" y1="192.44" x2="449.1" y2="192.44" stroke="#333" stroke-width="0.75" stroke-linecap="butt"/>
<text x="254.6" y="331.5" font-size="5.6" text-anchor="middle" fill="#222">0.25</text>
<text x="282.39" y="331.5" font-size="5.6" text-anchor="middle" fill="#222">0.50</text>
<text x="310.17" y="331.5" font-size="5.6" text-anchor="middle" fill="#222">0.75</text>
<text x="337.96" y="331.5" font-size="5.6" text-anchor="middle" fill="#222">1.00</text>
<text x="365.74" y="331.5" font-size="5.6" text-anchor="middle" fill="#222">1.25</text>
<text x="393.53" y="331.5" font-size="5.6" text-anchor="middle" fill="#222">1.50</text>
<text x="421.31" y="331.5" font-size="5.6" text-anchor="middle" fill="#222">1.75</text>
<text x="449.1" y="331.5" font-size="5.6" text-anchor="middle" fill="#222">2.00</text>
<text x="250.5" y="324.4" font-size="5.6" text-anchor="end" fill="#222">-1.5</text>
<text x="250.5" y="295.52" font-size="5.6" text-anchor="end" fill="#222">-1.0</text>
<text x="250.5" y="266.64" font-size="5.6" text-anchor="end" fill="#222">-0.5</text>
<text x="250.5" y="237.76" font-size="5.6" text-anchor="end" fill="#222">0.0</text>
<text x="250.5" y="208.88" font-size="5.6" text-anchor="end" fill="#222">0.5</text>
<text x="250.5" y="180" font-size="5.6" text-anchor="end" fill="#222">1.0</text>
<text x="232.3" y="257.58" font-size="6.9" text-anchor="middle" fill="#222" transform="rotate(-90 232.3 255.3)">Log (Na<tspan font-size="70%" baseline-shift="-40%">2</tspan>O/K<tspan font-size="70%" baseline-shift="-40%">2</tspan>O)</text>
<text x="351.6" y="343.38" font-size="6.3" text-anchor="middle" fill="#222">Log (SiO<tspan font-size="70%" baseline-shift="-40%">2</tspan>/Al<tspan font-size="70%" baseline-shift="-40%">2</tspan>O<tspan font-size="70%" baseline-shift="-40%">3</tspan>)</text>
<polyline points="281.7,260.7 310.3,229.8 313.6,206.3 337.1,188.5" fill="none" stroke="#222" stroke-width="0.95" stroke-dasharray="3.5,1.4,1,1.4" stroke-linejoin="miter"/>
<polyline points="295.2,264 310.3,247.9 340.5,242.2" fill="none" stroke="#222" stroke-width="0.95" stroke-dasharray="3.5,1.4,1,1.4" stroke-linejoin="miter"/>
<polyline points="352.2,288.2 338.8,265 342.2,225.4 359,196.9" fill="none" stroke="#222" stroke-width="0.95" stroke-dasharray="3.5,1.4,1,1.4" stroke-linejoin="miter"/>
<polyline points="374.1,322.2 366.3,267.4 392.5,207.6" fill="none" stroke="#222" stroke-width="0.95" stroke-dasharray="3.5,1.4,1,1.4" stroke-linejoin="miter"/>
<polyline points="415.4,322.2 408.7,265.7 416,250.6 435.5,228.8" fill="none" stroke="#222" stroke-width="0.95" stroke-dasharray="3.5,1.4,1,1.4" stroke-linejoin="miter"/>
<circle cx="282.4" cy="227.8" r="2.5" fill="#00f" stroke="none" stroke-width="0"/>
<circle cx="286.8" cy="236.2" r="2.5" fill="#00f" stroke="none" stroke-width="0"/>
<circle cx="284.4" cy="238.8" r="2.5" fill="#00f" stroke="none" stroke-width="0"/>
<circle cx="282.7" cy="260" r="2.5" fill="#00f" stroke="none" stroke-width="0"/>
<circle cx="279" cy="265.7" r="2.5" fill="#00f" stroke="none" stroke-width="0"/>
<circle cx="311.3" cy="259" r="2.5" fill="#00f" stroke="none" stroke-width="0"/>
<circle cx="297.2" cy="274.8" r="2.5" fill="#00f" stroke="none" stroke-width="0"/>
<circle cx="304.2" cy="307" r="2.5" fill="#00f" stroke="none" stroke-width="0"/>
<text x="279.7" y="223.58" font-size="7.2" text-anchor="middle" fill="#222" transform="rotate(-44 279.7 221.2)">Greywacke</text>
<text x="332.3" y="212.58" font-size="7.2" text-anchor="middle" fill="#222" transform="rotate(-45 332.3 210.2)">Litharenite</text>
<text x="364.2" y="227.08" font-size="7.2" text-anchor="middle" fill="#222" transform="rotate(-45 364.2 224.7)">Subarkose</text>
<text x="394.9" y="254.68" font-size="7.2" text-anchor="middle" fill="#222" transform="rotate(-42 394.9 252.3)">Sublitharenite</text>
<text x="430.5" y="264.68" font-size="7.2" text-anchor="middle" fill="#222" transform="rotate(-48 430.5 262.3)">Quartz-arenite</text>
<text x="320" y="266.48" font-size="7.2" text-anchor="middle" fill="#222" transform="rotate(-43.5 320 264.1)">Arkose</text>
<rect x="406" y="179" width="44.1" height="10.2" fill="#888" stroke="none" stroke-width="0"/>
<rect x="405" y="178" width="44.1" height="10.2" fill="#fff" stroke="#444" stroke-width="0.7"/>
<circle cx="412" cy="183.1" r="2.2" fill="#00f" stroke="none" stroke-width="0"/>
<text x="422.1" y="185.18" font-size="6.3" text-anchor="start" fill="#222">Samples</text>
<circle cx="262.8" cy="186.3" r="7.6" fill="#fff" stroke="#111" stroke-width="1.0"/>
<text x="262.8" y="189.55" font-size="12.5" text-anchor="middle" fill="#111">e</text>
<rect x="480.2" y="178" width="194.6" height="144.2" fill="none" stroke="#3a3a3a" stroke-width="1.0"/>
<line x1="480.2" y1="322.2" x2="480.2" y2="325.2" stroke="#333" stroke-width="0.75" stroke-linecap="butt"/>
<line x1="480.2" y1="178" x2="480.2" y2="181" stroke="#333" stroke-width="0.75" stroke-linecap="butt"/>
<line x1="501.82" y1="322.2" x2="501.82" y2="325.2" stroke="#333" stroke-width="0.75" stroke-linecap="butt"/>
<line x1="501.82" y1="178" x2="501.82" y2="181" stroke="#333" stroke-width="0.75" stroke-linecap="butt"/>
<line x1="523.44" y1="322.2" x2="523.44" y2="325.2" stroke="#333" stroke-width="0.75" stroke-linecap="butt"/>
<line x1="523.44" y1="178" x2="523.44" y2="181" stroke="#333" stroke-width="0.75" stroke-linecap="butt"/>
<line x1="545.07" y1="322.2" x2="545.07" y2="325.2" stroke="#333" stroke-width="0.75" stroke-linecap="butt"/>
<line x1="545.07" y1="178" x2="545.07" y2="181" stroke="#333" stroke-width="0.75" stroke-linecap="butt"/>
<line x1="566.69" y1="322.2" x2="566.69" y2="325.2" stroke="#333" stroke-width="0.75" stroke-linecap="butt"/>
<line x1="566.69" y1="178" x2="566.69" y2="181" stroke="#333" stroke-width="0.75" stroke-linecap="butt"/>
<line x1="588.31" y1="322.2" x2="588.31" y2="325.2" stroke="#333" stroke-width="0.75" stroke-linecap="butt"/>
<line x1="588.31" y1="178" x2="588.31" y2="181" stroke="#333" stroke-width="0.75" stroke-linecap="butt"/>
<line x1="609.93" y1="322.2" x2="609.93" y2="325.2" stroke="#333" stroke-width="0.75" stroke-linecap="butt"/>
<line x1="609.93" y1="178" x2="609.93" y2="181" stroke="#333" stroke-width="0.75" stroke-linecap="butt"/>
<line x1="631.56" y1="322.2" x2="631.56" y2="325.2" stroke="#333" stroke-width="0.75" stroke-linecap="butt"/>
<line x1="631.56" y1="178" x2="631.56" y2="181" stroke="#333" stroke-width="0.75" stroke-linecap="butt"/>
<line x1="653.18" y1="322.2" x2="653.18" y2="325.2" stroke="#333" stroke-width="0.75" stroke-linecap="butt"/>
<line x1="653.18" y1="178" x2="653.18" y2="181" stroke="#333" stroke-width="0.75" stroke-linecap="butt"/>
<line x1="674.8" y1="322.2" x2="674.8" y2="325.2" stroke="#333" stroke-width="0.75" stroke-linecap="butt"/>
<line x1="674.8" y1="178" x2="674.8" y2="181" stroke="#333" stroke-width="0.75" stroke-linecap="butt"/>
<line x1="491.01" y1="322.2" x2="491.01" y2="324" stroke="#333" stroke-width="0.75" stroke-linecap="butt"/>
<line x1="491.01" y1="178" x2="491.01" y2="179.8" stroke="#333" stroke-width="0.75" stroke-linecap="butt"/>
<line x1="512.63" y1="322.2" x2="512.63" y2="324" stroke="#333" stroke-width="0.75" stroke-linecap="butt"/>
<line x1="512.63" y1="178" x2="512.63" y2="179.8" stroke="#333" stroke-width="0.75" stroke-linecap="butt"/>
<line x1="534.26" y1="322.2" x2="534.26" y2="324" stroke="#333" stroke-width="0.75" stroke-linecap="butt"/>
<line x1="534.26" y1="178" x2="534.26" y2="179.8" stroke="#333" stroke-width="0.75" stroke-linecap="butt"/>
<line x1="555.88" y1="322.2" x2="555.88" y2="324" stroke="#333" stroke-width="0.75" stroke-linecap="butt"/>
<line x1="555.88" y1="178" x2="555.88" y2="179.8" stroke="#333" stroke-width="0.75" stroke-linecap="butt"/>
<line x1="577.5" y1="322.2" x2="577.5" y2="324" stroke="#333" stroke-width="0.75" stroke-linecap="butt"/>
<line x1="577.5" y1="178" x2="577.5" y2="179.8" stroke="#333" stroke-width="0.75" stroke-linecap="butt"/>
<line x1="599.12" y1="322.2" x2="599.12" y2="324" stroke="#333" stroke-width="0.75" stroke-linecap="butt"/>
<line x1="599.12" y1="178" x2="599.12" y2="179.8" stroke="#333" stroke-width="0.75" stroke-linecap="butt"/>
<line x1="620.74" y1="322.2" x2="620.74" y2="324" stroke="#333" stroke-width="0.75" stroke-linecap="butt"/>
<line x1="620.74" y1="178" x2="620.74" y2="179.8" stroke="#333" stroke-width="0.75" stroke-linecap="butt"/>
<line x1="642.37" y1="322.2" x2="642.37" y2="324" stroke="#333" stroke-width="0.75" stroke-linecap="butt"/>
<line x1="642.37" y1="178" x2="642.37" y2="179.8" stroke="#333" stroke-width="0.75" stroke-linecap="butt"/>
<line x1="663.99" y1="322.2" x2="663.99" y2="324" stroke="#333" stroke-width="0.75" stroke-linecap="butt"/>
<line x1="663.99" y1="178" x2="663.99" y2="179.8" stroke="#333" stroke-width="0.75" stroke-linecap="butt"/>
<line x1="477.2" y1="322.2" x2="480.2" y2="322.2" stroke="#333" stroke-width="0.75" stroke-linecap="butt"/>
<line x1="671.8" y1="322.2" x2="674.8" y2="322.2" stroke="#333" stroke-width="0.75" stroke-linecap="butt"/>
<line x1="477.2" y1="304.18" x2="480.2" y2="304.18" stroke="#333" stroke-width="0.75" stroke-linecap="butt"/>
<line x1="671.8" y1="304.18" x2="674.8" y2="304.18" stroke="#333" stroke-width="0.75" stroke-linecap="butt"/>
<line x1="477.2" y1="286.15" x2="480.2" y2="286.15" stroke="#333" stroke-width="0.75" stroke-linecap="butt"/>
<line x1="671.8" y1="286.15" x2="674.8" y2="286.15" stroke="#333" stroke-width="0.75" stroke-linecap="butt"/>
<line x1="477.2" y1="268.12" x2="480.2" y2="268.12" stroke="#333" stroke-width="0.75" stroke-linecap="butt"/>
<line x1="671.8" y1="268.12" x2="674.8" y2="268.12" stroke="#333" stroke-width="0.75" stroke-linecap="butt"/>
<line x1="477.2" y1="250.1" x2="480.2" y2="250.1" stroke="#333" stroke-width="0.75" stroke-linecap="butt"/>
<line x1="671.8" y1="250.1" x2="674.8" y2="250.1" stroke="#333" stroke-width="0.75" stroke-linecap="butt"/>
<line x1="477.2" y1="232.07" x2="480.2" y2="232.07" stroke="#333" stroke-width="0.75" stroke-linecap="butt"/>
<line x1="671.8" y1="232.07" x2="674.8" y2="232.07" stroke="#333" stroke-width="0.75" stroke-linecap="butt"/>
<line x1="477.2" y1="214.05" x2="480.2" y2="214.05" stroke="#333" stroke-width="0.75" stroke-linecap="butt"/>
<line x1="671.8" y1="214.05" x2="674.8" y2="214.05" stroke="#333" stroke-width="0.75" stroke-linecap="butt"/>
<line x1="477.2" y1="196.03" x2="480.2" y2="196.03" stroke="#333" stroke-width="0.75" stroke-linecap="butt"/>
<line x1="671.8" y1="196.03" x2="674.8" y2="196.03" stroke="#333" stroke-width="0.75" stroke-linecap="butt"/>
<line x1="477.2" y1="178" x2="480.2" y2="178" stroke="#333" stroke-width="0.75" stroke-linecap="butt"/>
<line x1="671.8" y1="178" x2="674.8" y2="178" stroke="#333" stroke-width="0.75" stroke-linecap="butt"/>
<line x1="478.4" y1="313.19" x2="480.2" y2="313.19" stroke="#333" stroke-width="0.75" stroke-linecap="butt"/>
<line x1="673" y1="313.19" x2="674.8" y2="313.19" stroke="#333" stroke-width="0.75" stroke-linecap="butt"/>
<line x1="478.4" y1="295.16" x2="480.2" y2="295.16" stroke="#333" stroke-width="0.75" stroke-linecap="butt"/>
<line x1="673" y1="295.16" x2="674.8" y2="295.16" stroke="#333" stroke-width="0.75" stroke-linecap="butt"/>
<line x1="478.4" y1="277.14" x2="480.2" y2="277.14" stroke="#333" stroke-width="0.75" stroke-linecap="butt"/>
<line x1="673" y1="277.14" x2="674.8" y2="277.14" stroke="#333" stroke-width="0.75" stroke-linecap="butt"/>
<line x1="478.4" y1="259.11" x2="480.2" y2="259.11" stroke="#333" stroke-width="0.75" stroke-linecap="butt"/>
<line x1="673" y1="259.11" x2="674.8" y2="259.11" stroke="#333" stroke-width="0.75" stroke-linecap="butt"/>
<line x1="478.4" y1="241.09" x2="480.2" y2="241.09" stroke="#333" stroke-width="0.75" stroke-linecap="butt"/>
<line x1="673" y1="241.09" x2="674.8" y2="241.09" stroke="#333" stroke-width="0.75" stroke-linecap="butt"/>
<line x1="478.4" y1="223.06" x2="480.2" y2="223.06" stroke="#333" stroke-width="0.75" stroke-linecap="butt"/>
<line x1="673" y1="223.06" x2="674.8" y2="223.06" stroke="#333" stroke-width="0.75" stroke-linecap="butt"/>
<line x1="478.4" y1="205.04" x2="480.2" y2="205.04" stroke="#333" stroke-width="0.75" stroke-linecap="butt"/>
<line x1="673" y1="205.04" x2="674.8" y2="205.04" stroke="#333" stroke-width="0.75" stroke-linecap="butt"/>
<line x1="478.4" y1="187.01" x2="480.2" y2="187.01" stroke="#333" stroke-width="0.75" stroke-linecap="butt"/>
<line x1="673" y1="187.01" x2="674.8" y2="187.01" stroke="#333" stroke-width="0.75" stroke-linecap="butt"/>
<text x="480.2" y="331.5" font-size="5.6" text-anchor="middle" fill="#222">0.2</text>
<text x="501.82" y="331.5" font-size="5.6" text-anchor="middle" fill="#222">0.4</text>
<text x="523.44" y="331.5" font-size="5.6" text-anchor="middle" fill="#222">0.6</text>
<text x="545.07" y="331.5" font-size="5.6" text-anchor="middle" fill="#222">0.8</text>
<text x="566.69" y="331.5" font-size="5.6" text-anchor="middle" fill="#222">1.0</text>
<text x="588.31" y="331.5" font-size="5.6" text-anchor="middle" fill="#222">1.2</text>
<text x="609.93" y="331.5" font-size="5.6" text-anchor="middle" fill="#222">1.4</text>
<text x="631.56" y="331.5" font-size="5.6" text-anchor="middle" fill="#222">1.6</text>
<text x="653.18" y="331.5" font-size="5.6" text-anchor="middle" fill="#222">1.8</text>
<text x="674.8" y="331.5" font-size="5.6" text-anchor="middle" fill="#222">2.0</text>
<text x="475.7" y="324.2" font-size="5.6" text-anchor="end" fill="#222">-0.4</text>
<text x="475.7" y="306.18" font-size="5.6" text-anchor="end" fill="#222">-0.2</text>
<text x="475.7" y="288.15" font-size="5.6" text-anchor="end" fill="#222">0.0</text>
<text x="475.7" y="270.13" font-size="5.6" text-anchor="end" fill="#222">0.2</text>
<text x="475.7" y="252.1" font-size="5.6" text-anchor="end" fill="#222">0.4</text>
<text x="475.7" y="234.08" font-size="5.6" text-anchor="end" fill="#222">0.6</text>
<text x="475.7" y="216.05" font-size="5.6" text-anchor="end" fill="#222">0.8</text>
<text x="475.7" y="198.03" font-size="5.6" text-anchor="end" fill="#222">1.0</text>
<text x="475.7" y="180" font-size="5.6" text-anchor="end" fill="#222">1.2</text>
<text x="457.7" y="257.91" font-size="7.0" text-anchor="middle" fill="#222" transform="rotate(-90 457.7 255.6)">log(Fe<tspan font-size="70%" baseline-shift="-40%">2</tspan>O<tspan font-size="70%" baseline-shift="-40%">3</tspan>/K<tspan font-size="70%" baseline-shift="-40%">2</tspan>O)</text>
<text x="570.8" y="339.48" font-size="6.3" text-anchor="middle" fill="#222">Log (SiO<tspan font-size="70%" baseline-shift="-40%">2</tspan>/Al<tspan font-size="70%" baseline-shift="-40%">2</tspan>O<tspan font-size="70%" baseline-shift="-40%">3</tspan>)</text>
<polyline points="480.2,232.2 654.8,232.2" fill="none" stroke="#222" stroke-width="0.95" stroke-dasharray="3.5,1.4,1,1.4" stroke-linejoin="miter"/>
<polyline points="542.3,177.7 542.3,232.2" fill="none" stroke="#222" stroke-width="0.9" stroke-dasharray="3.5,1.4,1,1.4" stroke-linejoin="miter"/>
<polyline points="517.1,295.9 542.3,232.2" fill="none" stroke="#222" stroke-width="0.95" stroke-dasharray="3.5,1.4,1,1.4" stroke-linejoin="miter"/>
<polyline points="532.2,322 560.8,232.2" fill="none" stroke="#222" stroke-width="0.95" stroke-dasharray="3.5,1.4,1,1.4" stroke-linejoin="miter"/>
<polyline points="577.6,322 592,232.2" fill="none" stroke="#222" stroke-width="0.95" stroke-dasharray="3.5,1.4,1,1.4" stroke-linejoin="miter"/>
<polyline points="645.7,322 649.1,285.8 654.8,232.2 659.8,183.4" fill="none" stroke="#222" stroke-width="0.95" stroke-dasharray="3.5,1.4,1,1.4" stroke-linejoin="miter"/>
<polyline points="545.7,285.8 649.1,285.8" fill="none" stroke="#222" stroke-width="0.95" stroke-dasharray="3.5,1.4,1,1.4" stroke-linejoin="miter"/>
<circle cx="509.4" cy="240.5" r="2.5" fill="#00f" stroke="none" stroke-width="0"/>
<circle cx="513.8" cy="237.2" r="2.5" fill="#00f" stroke="none" stroke-width="0"/>
<circle cx="514.4" cy="247.2" r="2.5" fill="#00f" stroke="none" stroke-width="0"/>
<circle cx="517.1" cy="249.2" r="2.5" fill="#00f" stroke="none" stroke-width="0"/>
<circle cx="527.2" cy="272.4" r="2.5" fill="#00f" stroke="none" stroke-width="0"/>
<circle cx="534.6" cy="275.8" r="2.5" fill="#00f" stroke="none" stroke-width="0"/>
<circle cx="541.6" cy="303" r="2.5" fill="#00f" stroke="none" stroke-width="0"/>
<text x="508" y="207.44" font-size="7.4" text-anchor="middle" fill="#222" transform="rotate(-44 508 205)">Fe-shale</text>
<text x="580.3" y="208.74" font-size="7.4" text-anchor="middle" fill="#222" transform="rotate(-44 580.3 206.3)">Fe-sand</text>
<text x="497.5" y="263.44" font-size="7.4" text-anchor="middle" fill="#222" transform="rotate(-43 497.5 261)">Shale</text>
<text x="569.2" y="269.14" font-size="7.4" text-anchor="middle" fill="#222" transform="rotate(-45 569.2 266.7)">Litharenite</text>
<text x="622.9" y="262.44" font-size="7.4" text-anchor="middle" fill="#222" transform="rotate(-42 622.9 260)">Sublitharenite</text>
<text x="660.5" y="288.24" font-size="7.4" text-anchor="middle" fill="#222" transform="rotate(-62 660.5 285.8)">Quartz-arenite</text>
<text x="532.1" y="291.94" font-size="7.4" text-anchor="middle" fill="#222" transform="rotate(-43 532.1 289.5)">Wacke</text>
<text x="557.5" y="309.44" font-size="7.4" text-anchor="middle" fill="#222" transform="rotate(-43 557.5 307)">Arkose</text>
<text x="610.5" y="310.14" font-size="7.4" text-anchor="middle" fill="#222" transform="rotate(-42 610.5 307.7)">Subarkose</text>
<rect x="631.3" y="179" width="44.5" height="10.2" fill="#888" stroke="none" stroke-width="0"/>
<rect x="630.3" y="178" width="44.5" height="10.2" fill="#fff" stroke="#444" stroke-width="0.7"/>
<circle cx="637.3" cy="183.1" r="2.2" fill="#00f" stroke="none" stroke-width="0"/>
<text x="645.7" y="185.25" font-size="6.5" text-anchor="start" fill="#222">Samples</text>
<circle cx="488.5" cy="186.3" r="7.6" fill="#fff" stroke="#111" stroke-width="1.0"/>
<text x="488.5" y="190.8" font-size="12.5" text-anchor="middle" fill="#111">f</text>
<line x1="45.25" y1="350.3" x2="45.25" y2="496.6" stroke="#444" stroke-width="0.8" stroke-linecap="butt"/>
<line x1="45.25" y1="350.3" x2="49.3" y2="350.3" stroke="#444" stroke-width="0.7" stroke-linecap="butt"/>
<line x1="45.25" y1="372.2" x2="49.3" y2="372.2" stroke="#444" stroke-width="0.7" stroke-linecap="butt"/>
<line x1="45.25" y1="397.2" x2="49.3" y2="397.2" stroke="#444" stroke-width="0.7" stroke-linecap="butt"/>
<line x1="45.25" y1="437.4" x2="49.3" y2="437.4" stroke="#444" stroke-width="0.7" stroke-linecap="butt"/>
<line x1="45.25" y1="450.4" x2="49.3" y2="450.4" stroke="#444" stroke-width="0.7" stroke-linecap="butt"/>
<line x1="45.25" y1="469.3" x2="49.3" y2="469.3" stroke="#444" stroke-width="0.7" stroke-linecap="butt"/>
<line x1="45.25" y1="486.2" x2="49.3" y2="486.2" stroke="#444" stroke-width="0.7" stroke-linecap="butt"/>
<line x1="45.25" y1="385.4" x2="139.5" y2="385.4" stroke="#777" stroke-width="0.7" stroke-dasharray="1,1.2" stroke-linecap="butt"/>
<line x1="45.25" y1="415.2" x2="156.5" y2="415.2" stroke="#777" stroke-width="0.7" stroke-dasharray="1,1.2" stroke-linecap="butt"/>
<line x1="45.25" y1="437.4" x2="60" y2="437.4" stroke="#666" stroke-width="0.6" stroke-dasharray="1.2,1.5" stroke-linecap="butt"/>
<polygon points="91.3,436.5 93.8,440.3 97.8,440.3 99.3,437.4 110.7,419.9 114.5,419.3 114.5,407.6 104.9,410.5 104.3,415.5" fill="#fde6d4" stroke="#f2b27a" stroke-width="0.6" stroke-dasharray="0.7,0.9" stroke-linejoin="round"/>
<polygon points="124.2,359.9 45.2,496.6 203.2,496.6" fill="none" stroke="#222" stroke-width="0.9" stroke-linejoin="miter"/>
<line x1="78.5" y1="437.4" x2="169.4" y2="437.4" stroke="#222" stroke-width="0.9" stroke-linecap="butt"/>
<line x1="104.5" y1="492" x2="148" y2="407" stroke="#666" stroke-width="0.6" stroke-dasharray="0.8,1.3" stroke-linecap="butt"/>
<line x1="104.45" y1="394.07" x2="102.25" y2="394.07" stroke="#222" stroke-width="0.6" stroke-linecap="butt"/>
<line x1="143.95" y1="394.07" x2="146.55" y2="394.07" stroke="#222" stroke-width="0.6" stroke-linecap="butt"/>
<line x1="84.7" y1="428.25" x2="82.5" y2="428.25" stroke="#222" stroke-width="0.6" stroke-linecap="butt"/>
<line x1="163.7" y1="428.25" x2="166.3" y2="428.25" stroke="#222" stroke-width="0.6" stroke-linecap="butt"/>
<line x1="64.95" y1="462.42" x2="62.75" y2="462.42" stroke="#222" stroke-width="0.6" stroke-linecap="butt"/>
<line x1="183.45" y1="462.42" x2="186.05" y2="462.42" stroke="#222" stroke-width="0.6" stroke-linecap="butt"/>
<line x1="114.33" y1="376.99" x2="115.53" y2="376.99" stroke="#222" stroke-width="0.5" stroke-linecap="butt"/>
<line x1="134.07" y1="376.99" x2="135.57" y2="376.99" stroke="#222" stroke-width="0.5" stroke-linecap="butt"/>
<line x1="94.58" y1="411.16" x2="95.78" y2="411.16" stroke="#222" stroke-width="0.5" stroke-linecap="butt"/>
<line x1="153.82" y1="411.16" x2="155.32" y2="411.16" stroke="#222" stroke-width="0.5" stroke-linecap="butt"/>
<line x1="74.83" y1="445.34" x2="76.03" y2="445.34" stroke="#222" stroke-width="0.5" stroke-linecap="butt"/>
<line x1="173.57" y1="445.34" x2="175.07" y2="445.34" stroke="#222" stroke-width="0.5" stroke-linecap="butt"/>
<line x1="55.08" y1="479.51" x2="56.28" y2="479.51" stroke="#222" stroke-width="0.5" stroke-linecap="butt"/>
<line x1="193.32" y1="479.51" x2="194.82" y2="479.51" stroke="#222" stroke-width="0.5" stroke-linecap="butt"/>
<line x1="45.2" y1="496.6" x2="46.4" y2="499" stroke="#222" stroke-width="0.6" stroke-linecap="butt"/>
<line x1="84.7" y1="496.6" x2="85.9" y2="499" stroke="#222" stroke-width="0.6" stroke-linecap="butt"/>
<line x1="124.2" y1="496.6" x2="125.4" y2="499" stroke="#222" stroke-width="0.6" stroke-linecap="butt"/>
<line x1="163.7" y1="496.6" x2="164.9" y2="499" stroke="#222" stroke-width="0.6" stroke-linecap="butt"/>
<line x1="203.2" y1="496.6" x2="204.4" y2="499" stroke="#222" stroke-width="0.6" stroke-linecap="butt"/>
<circle cx="119" cy="395.4" r="2.5" fill="#00f" stroke="none" stroke-width="0"/>
<circle cx="112.7" cy="399.5" r="2.5" fill="#00f" stroke="none" stroke-width="0"/>
<circle cx="114.1" cy="402.4" r="2.5" fill="#00f" stroke="none" stroke-width="0"/>
<circle cx="115.8" cy="404.7" r="2.5" fill="#00f" stroke="none" stroke-width="0"/>
<circle cx="119.9" cy="406.8" r="2.5" fill="#00f" stroke="none" stroke-width="0"/>
<circle cx="129.9" cy="400.2" r="2.5" fill="#00f" stroke="none" stroke-width="0"/>
<circle cx="131.6" cy="400.3" r="2.5" fill="#00f" stroke="none" stroke-width="0"/>
<circle cx="137.7" cy="406.8" r="2.5" fill="#00f" stroke="none" stroke-width="0"/>
<circle cx="100.1" cy="443" r="2" fill="#300" stroke="#000" stroke-width="0.5"/>
<circle cx="100.1" cy="443" r="0.9" fill="#a00" stroke="none" stroke-width="0"/>
<circle cx="115.1" cy="413" r="2" fill="#300" stroke="#000" stroke-width="0.5"/>
<circle cx="115.1" cy="413" r="0.9" fill="#a00" stroke="none" stroke-width="0"/>
<text x="104" y="447.51" font-size="7" text-anchor="start" fill="#111">UCC</text>
<text x="119.3" y="415.58" font-size="7.2" text-anchor="start" fill="#111">Av. Sh.</text>
<text x="46.8" y="357.02" font-size="4.9" text-anchor="start" fill="#222">Strong</text>
<text x="46.8" y="363.22" font-size="4.9" text-anchor="start" fill="#222">weathering</text>
<text x="74.3" y="363.35" font-size="5.3" text-anchor="start" fill="#222">Kaolinite, Gibbsite,</text>
<text x="97.4" y="369.65" font-size="5.3" text-anchor="middle" fill="#222">Chlorite</text>
<text x="101" y="381.45" font-size="5.3" text-anchor="middle" fill="#222">Smectite</text>
<text x="47" y="396.22" font-size="4.9" text-anchor="start" fill="#222">Intermediate</text>
<text x="48" y="401.92" font-size="4.9" text-anchor="start" fill="#222">weathering</text>
<text x="46" y="422.82" font-size="4.9" text-anchor="start" fill="#222">Weak</text>
<text x="46" y="429.02" font-size="4.9" text-anchor="start" fill="#222">weathering</text>
<text x="69.9" y="439.55" font-size="5.3" text-anchor="middle" fill="#222">Plagioclase</text>
<text x="71.4" y="478.75" font-size="5.3" text-anchor="middle" fill="#222">Hornblende</text>
<text x="64.8" y="495.75" font-size="5.3" text-anchor="middle" fill="#222">Clinopyroxene</text>
<text x="140.7" y="375.25" font-size="5.3" text-anchor="middle" fill="#222">Illite</text>
<text x="163.4" y="407.55" font-size="5.3" text-anchor="middle" fill="#222">Muscovite</text>
<text x="167.8" y="423.25" font-size="5.3" text-anchor="middle" fill="#222">Biotite</text>
<text x="182.7" y="438.15" font-size="5.3" text-anchor="middle" fill="#222">K-Feldspar</text>
<text x="121" y="357.85" font-size="6.0" text-anchor="end" fill="#222">0.00</text>
<text x="124.5" y="353.58" font-size="6.0" text-anchor="start" fill="#222">Al<tspan font-size="70%" baseline-shift="-40%">2</tspan>O<tspan font-size="70%" baseline-shift="-40%">3</tspan></text>
<text x="129.3" y="361.65" font-size="6.0" text-anchor="start" fill="#222">1.00</text>
<text x="101.8" y="392.35" font-size="6.0" text-anchor="end" fill="#222">0.25</text>
<text x="82.5" y="426.75" font-size="6.0" text-anchor="end" fill="#222">0.50</text>
<text x="62.4" y="460.05" font-size="6.0" text-anchor="end" fill="#222">0.75</text>
<text x="42.8" y="494.95" font-size="6.0" text-anchor="end" fill="#222">1.00</text>
<text x="149" y="395.85" font-size="6.0" text-anchor="start" fill="#222">0.75</text>
<text x="168.5" y="430.35" font-size="6.0" text-anchor="start" fill="#222">0.50</text>
<text x="188.5" y="464.45" font-size="6.0" text-anchor="start" fill="#222">0.25</text>
<text x="208" y="498.55" font-size="6.0" text-anchor="start" fill="#222">0.00</text>
<text x="42" y="505.45" font-size="6.0" text-anchor="middle" fill="#222">0.00</text>
<text x="81.9" y="505.45" font-size="6.0" text-anchor="middle" fill="#222">0.25</text>
<text x="121.8" y="505.45" font-size="6.0" text-anchor="middle" fill="#222">0.50</text>
<text x="161.7" y="505.45" font-size="6.0" text-anchor="middle" fill="#222">0.75</text>
<text x="201.6" y="505.45" font-size="6.0" text-anchor="middle" fill="#222">1.00</text>
<text x="42" y="512.11" font-size="6.4" text-anchor="middle" fill="#222">CaO+Na<tspan font-size="70%" baseline-shift="-40%">2</tspan>O</text>
<text x="211" y="512.61" font-size="6.4" text-anchor="middle" fill="#222">K<tspan font-size="70%" baseline-shift="-40%">2</tspan>O</text>
<text x="125.3" y="343.08" font-size="6.9" text-anchor="middle" fill="#222">SiO<tspan font-size="70%" baseline-shift="-40%">2</tspan> (wt%)</text>
<text x="97.6" y="419.28" font-size="5.4" text-anchor="middle" fill="#222" transform="rotate(-58.3 97.6 417.5)">Weathering trend</text>
<text x="124.2" y="468.95" font-size="5.6" text-anchor="middle" fill="#222" transform="rotate(-59.4 124.2 467.1)">Limits of weathering</text>
<rect x="144.7" y="348.4" width="45" height="9.4" fill="#888" stroke="none" stroke-width="0"/>
<rect x="143.7" y="347.4" width="45" height="9.4" fill="#fff" stroke="#444" stroke-width="0.7"/>
<circle cx="153.8" cy="352.1" r="2.2" fill="#00f" stroke="none" stroke-width="0"/>
<text x="162.9" y="354.01" font-size="5.8" text-anchor="start" fill="#222">Samples</text>
<circle cx="36.1" cy="361.3" r="7.6" fill="#fff" stroke="#111" stroke-width="1.0"/>
<text x="36.1" y="363.3" font-size="12.5" text-anchor="middle" fill="#111">g</text>
<rect x="254.5" y="353.7" width="194.2" height="144.3" fill="none" stroke="#3a3a3a" stroke-width="1.0"/>
<line x1="254.5" y1="498" x2="254.5" y2="501" stroke="#333" stroke-width="0.75" stroke-linecap="butt"/>
<line x1="254.5" y1="353.7" x2="254.5" y2="356.7" stroke="#333" stroke-width="0.75" stroke-linecap="butt"/>
<line x1="273.92" y1="498" x2="273.92" y2="501" stroke="#333" stroke-width="0.75" stroke-linecap="butt"/>
<line x1="273.92" y1="353.7" x2="273.92" y2="356.7" stroke="#333" stroke-width="0.75" stroke-linecap="butt"/>
<line x1="293.34" y1="498" x2="293.34" y2="501" stroke="#333" stroke-width="0.75" stroke-linecap="butt"/>
<line x1="293.34" y1="353.7" x2="293.34" y2="356.7" stroke="#333" stroke-width="0.75" stroke-linecap="butt"/>
<line x1="312.76" y1="498" x2="312.76" y2="501" stroke="#333" stroke-width="0.75" stroke-linecap="butt"/>
<line x1="312.76" y1="353.7" x2="312.76" y2="356.7" stroke="#333" stroke-width="0.75" stroke-linecap="butt"/>
<line x1="332.18" y1="498" x2="332.18" y2="501" stroke="#333" stroke-width="0.75" stroke-linecap="butt"/>
<line x1="332.18" y1="353.7" x2="332.18" y2="356.7" stroke="#333" stroke-width="0.75" stroke-linecap="butt"/>
<line x1="351.6" y1="498" x2="351.6" y2="501" stroke="#333" stroke-width="0.75" stroke-linecap="butt"/>
<line x1="351.6" y1="353.7" x2="351.6" y2="356.7" stroke="#333" stroke-width="0.75" stroke-linecap="butt"/>
<line x1="371.02" y1="498" x2="371.02" y2="501" stroke="#333" stroke-width="0.75" stroke-linecap="butt"/>
<line x1="371.02" y1="353.7" x2="371.02" y2="356.7" stroke="#333" stroke-width="0.75" stroke-linecap="butt"/>
<line x1="390.44" y1="498" x2="390.44" y2="501" stroke="#333" stroke-width="0.75" stroke-linecap="butt"/>
<line x1="390.44" y1="353.7" x2="390.44" y2="356.7" stroke="#333" stroke-width="0.75" stroke-linecap="butt"/>
<line x1="409.86" y1="498" x2="409.86" y2="501" stroke="#333" stroke-width="0.75" stroke-linecap="butt"/>
<line x1="409.86" y1="353.7" x2="409.86" y2="356.7" stroke="#333" stroke-width="0.75" stroke-linecap="butt"/>
<line x1="429.28" y1="498" x2="429.28" y2="501" stroke="#333" stroke-width="0.75" stroke-linecap="butt"/>
<line x1="429.28" y1="353.7" x2="429.28" y2="356.7" stroke="#333" stroke-width="0.75" stroke-linecap="butt"/>
<line x1="448.7" y1="498" x2="448.7" y2="501" stroke="#333" stroke-width="0.75" stroke-linecap="butt"/>
<line x1="448.7" y1="353.7" x2="448.7" y2="356.7" stroke="#333" stroke-width="0.75" stroke-linecap="butt"/>
<line x1="264.21" y1="498" x2="264.21" y2="499.8" stroke="#333" stroke-width="0.75" stroke-linecap="butt"/>
<line x1="264.21" y1="353.7" x2="264.21" y2="355.5" stroke="#333" stroke-width="0.75" stroke-linecap="butt"/>
<line x1="283.63" y1="498" x2="283.63" y2="499.8" stroke="#333" stroke-width="0.75" stroke-linecap="butt"/>
<line x1="283.63" y1="353.7" x2="283.63" y2="355.5" stroke="#333" stroke-width="0.75" stroke-linecap="butt"/>
<line x1="303.05" y1="498" x2="303.05" y2="499.8" stroke="#333" stroke-width="0.75" stroke-linecap="butt"/>
<line x1="303.05" y1="353.7" x2="303.05" y2="355.5" stroke="#333" stroke-width="0.75" stroke-linecap="butt"/>
<line x1="322.47" y1="498" x2="322.47" y2="499.8" stroke="#333" stroke-width="0.75" stroke-linecap="butt"/>
<line x1="322.47" y1="353.7" x2="322.47" y2="355.5" stroke="#333" stroke-width="0.75" stroke-linecap="butt"/>
<line x1="341.89" y1="498" x2="341.89" y2="499.8" stroke="#333" stroke-width="0.75" stroke-linecap="butt"/>
<line x1="341.89" y1="353.7" x2="341.89" y2="355.5" stroke="#333" stroke-width="0.75" stroke-linecap="butt"/>
<line x1="361.31" y1="498" x2="361.31" y2="499.8" stroke="#333" stroke-width="0.75" stroke-linecap="butt"/>
<line x1="361.31" y1="353.7" x2="361.31" y2="355.5" stroke="#333" stroke-width="0.75" stroke-linecap="butt"/>
<line x1="380.73" y1="498" x2="380.73" y2="499.8" stroke="#333" stroke-width="0.75" stroke-linecap="butt"/>
<line x1="380.73" y1="353.7" x2="380.73" y2="355.5" stroke="#333" stroke-width="0.75" stroke-linecap="butt"/>
<line x1="400.15" y1="498" x2="400.15" y2="499.8" stroke="#333" stroke-width="0.75" stroke-linecap="butt"/>
<line x1="400.15" y1="353.7" x2="400.15" y2="355.5" stroke="#333" stroke-width="0.75" stroke-linecap="butt"/>
<line x1="419.57" y1="498" x2="419.57" y2="499.8" stroke="#333" stroke-width="0.75" stroke-linecap="butt"/>
<line x1="419.57" y1="353.7" x2="419.57" y2="355.5" stroke="#333" stroke-width="0.75" stroke-linecap="butt"/>
<line x1="438.99" y1="498" x2="438.99" y2="499.8" stroke="#333" stroke-width="0.75" stroke-linecap="butt"/>
<line x1="438.99" y1="353.7" x2="438.99" y2="355.5" stroke="#333" stroke-width="0.75" stroke-linecap="butt"/>
<line x1="251.5" y1="498" x2="254.5" y2="498" stroke="#333" stroke-width="0.75" stroke-linecap="butt"/>
<line x1="445.7" y1="498" x2="448.7" y2="498" stroke="#333" stroke-width="0.75" stroke-linecap="butt"/>
<line x1="251.5" y1="461.93" x2="254.5" y2="461.93" stroke="#333" stroke-width="0.75" stroke-linecap="butt"/>
<line x1="445.7" y1="461.93" x2="448.7" y2="461.93" stroke="#333" stroke-width="0.75" stroke-linecap="butt"/>
<line x1="251.5" y1="425.85" x2="254.5" y2="425.85" stroke="#333" stroke-width="0.75" stroke-linecap="butt"/>
<line x1="445.7" y1="425.85" x2="448.7" y2="425.85" stroke="#333" stroke-width="0.75" stroke-linecap="butt"/>
<line x1="251.5" y1="389.77" x2="254.5" y2="389.77" stroke="#333" stroke-width="0.75" stroke-linecap="butt"/>
<line x1="445.7" y1="389.77" x2="448.7" y2="389.77" stroke="#333" stroke-width="0.75" stroke-linecap="butt"/>
<line x1="251.5" y1="353.7" x2="254.5" y2="353.7" stroke="#333" stroke-width="0.75" stroke-linecap="butt"/>
<line x1="445.7" y1="353.7" x2="448.7" y2="353.7" stroke="#333" stroke-width="0.75" stroke-linecap="butt"/>
<line x1="252.7" y1="487.14" x2="254.5" y2="487.14" stroke="#333" stroke-width="0.75" stroke-linecap="butt"/>
<line x1="446.9" y1="487.14" x2="448.7" y2="487.14" stroke="#333" stroke-width="0.75" stroke-linecap="butt"/>
<line x1="252.7" y1="480.79" x2="254.5" y2="480.79" stroke="#333" stroke-width="0.75" stroke-linecap="butt"/>
<line x1="446.9" y1="480.79" x2="448.7" y2="480.79" stroke="#333" stroke-width="0.75" stroke-linecap="butt"/>
<line x1="252.7" y1="476.28" x2="254.5" y2="476.28" stroke="#333" stroke-width="0.75" stroke-linecap="butt"/>
<line x1="446.9" y1="476.28" x2="448.7" y2="476.28" stroke="#333" stroke-width="0.75" stroke-linecap="butt"/>
<line x1="252.7" y1="472.78" x2="254.5" y2="472.78" stroke="#333" stroke-width="0.75" stroke-linecap="butt"/>
<line x1="446.9" y1="472.78" x2="448.7" y2="472.78" stroke="#333" stroke-width="0.75" stroke-linecap="butt"/>
<line x1="252.7" y1="469.93" x2="254.5" y2="469.93" stroke="#333" stroke-width="0.75" stroke-linecap="butt"/>
<line x1="446.9" y1="469.93" x2="448.7" y2="469.93" stroke="#333" stroke-width="0.75" stroke-linecap="butt"/>
<line x1="252.7" y1="467.51" x2="254.5" y2="467.51" stroke="#333" stroke-width="0.75" stroke-linecap="butt"/>
<line x1="446.9" y1="467.51" x2="448.7" y2="467.51" stroke="#333" stroke-width="0.75" stroke-linecap="butt"/>
<line x1="252.7" y1="465.42" x2="254.5" y2="465.42" stroke="#333" stroke-width="0.75" stroke-linecap="butt"/>
<line x1="446.9" y1="465.42" x2="448.7" y2="465.42" stroke="#333" stroke-width="0.75" stroke-linecap="butt"/>
<line x1="252.7" y1="463.58" x2="254.5" y2="463.58" stroke="#333" stroke-width="0.75" stroke-linecap="butt"/>
<line x1="446.9" y1="463.58" x2="448.7" y2="463.58" stroke="#333" stroke-width="0.75" stroke-linecap="butt"/>
<line x1="252.7" y1="451.07" x2="254.5" y2="451.07" stroke="#333" stroke-width="0.75" stroke-linecap="butt"/>
<line x1="446.9" y1="451.07" x2="448.7" y2="451.07" stroke="#333" stroke-width="0.75" stroke-linecap="butt"/>
<line x1="252.7" y1="444.71" x2="254.5" y2="444.71" stroke="#333" stroke-width="0.75" stroke-linecap="butt"/>
<line x1="446.9" y1="444.71" x2="448.7" y2="444.71" stroke="#333" stroke-width="0.75" stroke-linecap="butt"/>
<line x1="252.7" y1="440.21" x2="254.5" y2="440.21" stroke="#333" stroke-width="0.75" stroke-linecap="butt"/>
<line x1="446.9" y1="440.21" x2="448.7" y2="440.21" stroke="#333" stroke-width="0.75" stroke-linecap="butt"/>
<line x1="252.7" y1="436.71" x2="254.5" y2="436.71" stroke="#333" stroke-width="0.75" stroke-linecap="butt"/>
<line x1="446.9" y1="436.71" x2="448.7" y2="436.71" stroke="#333" stroke-width="0.75" stroke-linecap="butt"/>
<line x1="252.7" y1="433.85" x2="254.5" y2="433.85" stroke="#333" stroke-width="0.75" stroke-linecap="butt"/>
<line x1="446.9" y1="433.85" x2="448.7" y2="433.85" stroke="#333" stroke-width="0.75" stroke-linecap="butt"/>
<line x1="252.7" y1="431.44" x2="254.5" y2="431.44" stroke="#333" stroke-width="0.75" stroke-linecap="butt"/>
<line x1="446.9" y1="431.44" x2="448.7" y2="431.44" stroke="#333" stroke-width="0.75" stroke-linecap="butt"/>
<line x1="252.7" y1="429.35" x2="254.5" y2="429.35" stroke="#333" stroke-width="0.75" stroke-linecap="butt"/>
<line x1="446.9" y1="429.35" x2="448.7" y2="429.35" stroke="#333" stroke-width="0.75" stroke-linecap="butt"/>
<line x1="252.7" y1="427.5" x2="254.5" y2="427.5" stroke="#333" stroke-width="0.75" stroke-linecap="butt"/>
<line x1="446.9" y1="427.5" x2="448.7" y2="427.5" stroke="#333" stroke-width="0.75" stroke-linecap="butt"/>
<line x1="252.7" y1="414.99" x2="254.5" y2="414.99" stroke="#333" stroke-width="0.75" stroke-linecap="butt"/>
<line x1="446.9" y1="414.99" x2="448.7" y2="414.99" stroke="#333" stroke-width="0.75" stroke-linecap="butt"/>
<line x1="252.7" y1="408.64" x2="254.5" y2="408.64" stroke="#333" stroke-width="0.75" stroke-linecap="butt"/>
<line x1="446.9" y1="408.64" x2="448.7" y2="408.64" stroke="#333" stroke-width="0.75" stroke-linecap="butt"/>
<line x1="252.7" y1="404.13" x2="254.5" y2="404.13" stroke="#333" stroke-width="0.75" stroke-linecap="butt"/>
<line x1="446.9" y1="404.13" x2="448.7" y2="404.13" stroke="#333" stroke-width="0.75" stroke-linecap="butt"/>
<line x1="252.7" y1="400.63" x2="254.5" y2="400.63" stroke="#333" stroke-width="0.75" stroke-linecap="butt"/>
<line x1="446.9" y1="400.63" x2="448.7" y2="400.63" stroke="#333" stroke-width="0.75" stroke-linecap="butt"/>
<line x1="252.7" y1="397.78" x2="254.5" y2="397.78" stroke="#333" stroke-width="0.75" stroke-linecap="butt"/>
<line x1="446.9" y1="397.78" x2="448.7" y2="397.78" stroke="#333" stroke-width="0.75" stroke-linecap="butt"/>
<line x1="252.7" y1="395.36" x2="254.5" y2="395.36" stroke="#333" stroke-width="0.75" stroke-linecap="butt"/>
<line x1="446.9" y1="395.36" x2="448.7" y2="395.36" stroke="#333" stroke-width="0.75" stroke-linecap="butt"/>
<line x1="252.7" y1="393.27" x2="254.5" y2="393.27" stroke="#333" stroke-width="0.75" stroke-linecap="butt"/>
<line x1="446.9" y1="393.27" x2="448.7" y2="393.27" stroke="#333" stroke-width="0.75" stroke-linecap="butt"/>
<line x1="252.7" y1="391.43" x2="254.5" y2="391.43" stroke="#333" stroke-width="0.75" stroke-linecap="butt"/>
<line x1="446.9" y1="391.43" x2="448.7" y2="391.43" stroke="#333" stroke-width="0.75" stroke-linecap="butt"/>
<line x1="252.7" y1="378.92" x2="254.5" y2="378.92" stroke="#333" stroke-width="0.75" stroke-linecap="butt"/>
<line x1="446.9" y1="378.92" x2="448.7" y2="378.92" stroke="#333" stroke-width="0.75" stroke-linecap="butt"/>
<line x1="252.7" y1="372.56" x2="254.5" y2="372.56" stroke="#333" stroke-width="0.75" stroke-linecap="butt"/>
<line x1="446.9" y1="372.56" x2="448.7" y2="372.56" stroke="#333" stroke-width="0.75" stroke-linecap="butt"/>
<line x1="252.7" y1="368.06" x2="254.5" y2="368.06" stroke="#333" stroke-width="0.75" stroke-linecap="butt"/>
<line x1="446.9" y1="368.06" x2="448.7" y2="368.06" stroke="#333" stroke-width="0.75" stroke-linecap="butt"/>
<line x1="252.7" y1="364.56" x2="254.5" y2="364.56" stroke="#333" stroke-width="0.75" stroke-linecap="butt"/>
<line x1="446.9" y1="364.56" x2="448.7" y2="364.56" stroke="#333" stroke-width="0.75" stroke-linecap="butt"/>
<line x1="252.7" y1="361.7" x2="254.5" y2="361.7" stroke="#333" stroke-width="0.75" stroke-linecap="butt"/>
<line x1="446.9" y1="361.7" x2="448.7" y2="361.7" stroke="#333" stroke-width="0.75" stroke-linecap="butt"/>
<line x1="252.7" y1="359.29" x2="254.5" y2="359.29" stroke="#333" stroke-width="0.75" stroke-linecap="butt"/>
<line x1="446.9" y1="359.29" x2="448.7" y2="359.29" stroke="#333" stroke-width="0.75" stroke-linecap="butt"/>
<line x1="252.7" y1="357.2" x2="254.5" y2="357.2" stroke="#333" stroke-width="0.75" stroke-linecap="butt"/>
<line x1="446.9" y1="357.2" x2="448.7" y2="357.2" stroke="#333" stroke-width="0.75" stroke-linecap="butt"/>
<line x1="252.7" y1="355.35" x2="254.5" y2="355.35" stroke="#333" stroke-width="0.75" stroke-linecap="butt"/>
<line x1="446.9" y1="355.35" x2="448.7" y2="355.35" stroke="#333" stroke-width="0.75" stroke-linecap="butt"/>
<text x="254.5" y="507.6" font-size="5.6" text-anchor="middle" fill="#222">50</text>
<text x="273.92" y="507.6" font-size="5.6" text-anchor="middle" fill="#222">55</text>
<text x="293.34" y="507.6" font-size="5.6" text-anchor="middle" fill="#222">60</text>
<text x="312.76" y="507.6" font-size="5.6" text-anchor="middle" fill="#222">65</text>
<text x="332.18" y="507.6" font-size="5.6" text-anchor="middle" fill="#222">70</text>
<text x="351.6" y="507.6" font-size="5.6" text-anchor="middle" fill="#222">75</text>
<text x="371.02" y="507.6" font-size="5.6" text-anchor="middle" fill="#222">80</text>
<text x="390.44" y="507.6" font-size="5.6" text-anchor="middle" fill="#222">85</text>
<text x="409.86" y="507.6" font-size="5.6" text-anchor="middle" fill="#222">90</text>
<text x="429.28" y="507.6" font-size="5.6" text-anchor="middle" fill="#222">95</text>
<text x="448.7" y="507.6" font-size="5.6" text-anchor="middle" fill="#222">100</text>
<text x="251.5" y="355.7" font-size="5.6" text-anchor="end" fill="#222">100</text>
<text x="251.5" y="391.78" font-size="5.6" text-anchor="end" fill="#222">10</text>
<text x="251.5" y="427.85" font-size="5.6" text-anchor="end" fill="#222">1</text>
<text x="251.5" y="463.93" font-size="5.6" text-anchor="end" fill="#222">0.1</text>
<text x="251.5" y="500" font-size="5.6" text-anchor="end" fill="#222">0.01</text>
<text x="241.9" y="438.88" font-size="7.2" text-anchor="middle" fill="#222" transform="rotate(-90 241.9 436.5)">K<tspan font-size="70%" baseline-shift="-40%">2</tspan>O/Na<tspan font-size="70%" baseline-shift="-40%">2</tspan>O</text>
<text x="350.6" y="518.94" font-size="6.5" text-anchor="middle" fill="#222">SiO<tspan font-size="70%" baseline-shift="-40%">2</tspan> (wt%)</text>
<line x1="281.7" y1="403.2" x2="392.5" y2="454.2" stroke="#444" stroke-width="0.8" stroke-linecap="butt"/>
<polyline points="270.6,418 322,455.2 342.2,497.5" fill="none" stroke="#444" stroke-width="0.8" stroke-linejoin="miter"/>
<circle cx="256.3" cy="407.4" r="2.5" fill="#00f" stroke="none" stroke-width="0"/>
<circle cx="258.6" cy="410.9" r="2.5" fill="#00f" stroke="none" stroke-width="0"/>
<circle cx="279.4" cy="431.4" r="2.5" fill="#00f" stroke="none" stroke-width="0"/>
<circle cx="294.5" cy="426" r="2.5" fill="#00f" stroke="none" stroke-width="0"/>
<circle cx="295.4" cy="423.8" r="2.5" fill="#00f" stroke="none" stroke-width="0"/>
<circle cx="317" cy="427" r="2.5" fill="#00f" stroke="none" stroke-width="0"/>
<circle cx="328.6" cy="401.8" r="2.5" fill="#00f" stroke="none" stroke-width="0"/>
<circle cx="336" cy="381.7" r="2.5" fill="#00f" stroke="none" stroke-width="0"/>
<text x="378.3" y="392.71" font-size="7.0" text-anchor="middle" fill="#222">passive margin</text>
<text x="273.2" y="457.58" font-size="7.2" text-anchor="start" fill="#222">Oceanic</text>
<text x="273.2" y="466.28" font-size="7.2" text-anchor="start" fill="#222">island-arc</text>
<text x="273.2" y="475.18" font-size="7.2" text-anchor="start" fill="#222">margin</text>
<text x="335.5" y="453.18" font-size="7.2" text-anchor="start" fill="#222">active</text>
<text x="335.5" y="462.28" font-size="7.2" text-anchor="start" fill="#222">continental</text>
<text x="335.5" y="470.98" font-size="7.2" text-anchor="start" fill="#222">margin</text>
<rect x="404.8" y="354.6" width="44.9" height="11.6" fill="#888" stroke="none" stroke-width="0"/>
<rect x="403.8" y="353.6" width="44.9" height="11.6" fill="#fff" stroke="#444" stroke-width="0.7"/>
<circle cx="411.2" cy="359.8" r="2.2" fill="#00f" stroke="none" stroke-width="0"/>
<text x="420.6" y="361.91" font-size="6.4" text-anchor="start" fill="#222">Samples</text>
<circle cx="262.8" cy="362.4" r="7.6" fill="#fff" stroke="#111" stroke-width="1.0"/>
<text x="262.8" y="366.9" font-size="12.5" text-anchor="middle" fill="#111">h</text>
<rect x="480.4" y="354.3" width="194.4" height="146.5" fill="none" stroke="#3a3a3a" stroke-width="1.0"/>
<line x1="480.4" y1="500.8" x2="480.4" y2="503.8" stroke="#333" stroke-width="0.75" stroke-linecap="butt"/>
<line x1="480.4" y1="354.3" x2="480.4" y2="357.3" stroke="#333" stroke-width="0.75" stroke-linecap="butt"/>
<line x1="497.45" y1="500.8" x2="497.45" y2="503.8" stroke="#333" stroke-width="0.75" stroke-linecap="butt"/>
<line x1="497.45" y1="354.3" x2="497.45" y2="357.3" stroke="#333" stroke-width="0.75" stroke-linecap="butt"/>
<line x1="514.51" y1="500.8" x2="514.51" y2="503.8" stroke="#333" stroke-width="0.75" stroke-linecap="butt"/>
<line x1="514.51" y1="354.3" x2="514.51" y2="357.3" stroke="#333" stroke-width="0.75" stroke-linecap="butt"/>
<line x1="531.56" y1="500.8" x2="531.56" y2="503.8" stroke="#333" stroke-width="0.75" stroke-linecap="butt"/>
<line x1="531.56" y1="354.3" x2="531.56" y2="357.3" stroke="#333" stroke-width="0.75" stroke-linecap="butt"/>
<line x1="548.61" y1="500.8" x2="548.61" y2="503.8" stroke="#333" stroke-width="0.75" stroke-linecap="butt"/>
<line x1="548.61" y1="354.3" x2="548.61" y2="357.3" stroke="#333" stroke-width="0.75" stroke-linecap="butt"/>
<line x1="565.66" y1="500.8" x2="565.66" y2="503.8" stroke="#333" stroke-width="0.75" stroke-linecap="butt"/>
<line x1="565.66" y1="354.3" x2="565.66" y2="357.3" stroke="#333" stroke-width="0.75" stroke-linecap="butt"/>
<line x1="582.72" y1="500.8" x2="582.72" y2="503.8" stroke="#333" stroke-width="0.75" stroke-linecap="butt"/>
<line x1="582.72" y1="354.3" x2="582.72" y2="357.3" stroke="#333" stroke-width="0.75" stroke-linecap="butt"/>
<line x1="599.77" y1="500.8" x2="599.77" y2="503.8" stroke="#333" stroke-width="0.75" stroke-linecap="butt"/>
<line x1="599.77" y1="354.3" x2="599.77" y2="357.3" stroke="#333" stroke-width="0.75" stroke-linecap="butt"/>
<line x1="616.82" y1="500.8" x2="616.82" y2="503.8" stroke="#333" stroke-width="0.75" stroke-linecap="butt"/>
<line x1="616.82" y1="354.3" x2="616.82" y2="357.3" stroke="#333" stroke-width="0.75" stroke-linecap="butt"/>
<line x1="633.87" y1="500.8" x2="633.87" y2="503.8" stroke="#333" stroke-width="0.75" stroke-linecap="butt"/>
<line x1="633.87" y1="354.3" x2="633.87" y2="357.3" stroke="#333" stroke-width="0.75" stroke-linecap="butt"/>
<line x1="650.93" y1="500.8" x2="650.93" y2="503.8" stroke="#333" stroke-width="0.75" stroke-linecap="butt"/>
<line x1="650.93" y1="354.3" x2="650.93" y2="357.3" stroke="#333" stroke-width="0.75" stroke-linecap="butt"/>
<line x1="667.98" y1="500.8" x2="667.98" y2="503.8" stroke="#333" stroke-width="0.75" stroke-linecap="butt"/>
<line x1="667.98" y1="354.3" x2="667.98" y2="357.3" stroke="#333" stroke-width="0.75" stroke-linecap="butt"/>
<line x1="488.93" y1="500.8" x2="488.93" y2="502.6" stroke="#333" stroke-width="0.75" stroke-linecap="butt"/>
<line x1="488.93" y1="354.3" x2="488.93" y2="356.1" stroke="#333" stroke-width="0.75" stroke-linecap="butt"/>
<line x1="505.98" y1="500.8" x2="505.98" y2="502.6" stroke="#333" stroke-width="0.75" stroke-linecap="butt"/>
<line x1="505.98" y1="354.3" x2="505.98" y2="356.1" stroke="#333" stroke-width="0.75" stroke-linecap="butt"/>
<line x1="523.03" y1="500.8" x2="523.03" y2="502.6" stroke="#333" stroke-width="0.75" stroke-linecap="butt"/>
<line x1="523.03" y1="354.3" x2="523.03" y2="356.1" stroke="#333" stroke-width="0.75" stroke-linecap="butt"/>
<line x1="540.08" y1="500.8" x2="540.08" y2="502.6" stroke="#333" stroke-width="0.75" stroke-linecap="butt"/>
<line x1="540.08" y1="354.3" x2="540.08" y2="356.1" stroke="#333" stroke-width="0.75" stroke-linecap="butt"/>
<line x1="557.14" y1="500.8" x2="557.14" y2="502.6" stroke="#333" stroke-width="0.75" stroke-linecap="butt"/>
<line x1="557.14" y1="354.3" x2="557.14" y2="356.1" stroke="#333" stroke-width="0.75" stroke-linecap="butt"/>
<line x1="574.19" y1="500.8" x2="574.19" y2="502.6" stroke="#333" stroke-width="0.75" stroke-linecap="butt"/>
<line x1="574.19" y1="354.3" x2="574.19" y2="356.1" stroke="#333" stroke-width="0.75" stroke-linecap="butt"/>
<line x1="591.24" y1="500.8" x2="591.24" y2="502.6" stroke="#333" stroke-width="0.75" stroke-linecap="butt"/>
<line x1="591.24" y1="354.3" x2="591.24" y2="356.1" stroke="#333" stroke-width="0.75" stroke-linecap="butt"/>
<line x1="608.29" y1="500.8" x2="608.29" y2="502.6" stroke="#333" stroke-width="0.75" stroke-linecap="butt"/>
<line x1="608.29" y1="354.3" x2="608.29" y2="356.1" stroke="#333" stroke-width="0.75" stroke-linecap="butt"/>
<line x1="625.35" y1="500.8" x2="625.35" y2="502.6" stroke="#333" stroke-width="0.75" stroke-linecap="butt"/>
<line x1="625.35" y1="354.3" x2="625.35" y2="356.1" stroke="#333" stroke-width="0.75" stroke-linecap="butt"/>
<line x1="642.4" y1="500.8" x2="642.4" y2="502.6" stroke="#333" stroke-width="0.75" stroke-linecap="butt"/>
<line x1="642.4" y1="354.3" x2="642.4" y2="356.1" stroke="#333" stroke-width="0.75" stroke-linecap="butt"/>
<line x1="659.45" y1="500.8" x2="659.45" y2="502.6" stroke="#333" stroke-width="0.75" stroke-linecap="butt"/>
<line x1="659.45" y1="354.3" x2="659.45" y2="356.1" stroke="#333" stroke-width="0.75" stroke-linecap="butt"/>
<line x1="477.4" y1="500.8" x2="480.4" y2="500.8" stroke="#333" stroke-width="0.75" stroke-linecap="butt"/>
<line x1="671.8" y1="500.8" x2="674.8" y2="500.8" stroke="#333" stroke-width="0.75" stroke-linecap="butt"/>
<line x1="477.4" y1="471.5" x2="480.4" y2="471.5" stroke="#333" stroke-width="0.75" stroke-linecap="butt"/>
<line x1="671.8" y1="471.5" x2="674.8" y2="471.5" stroke="#333" stroke-width="0.75" stroke-linecap="butt"/>
<line x1="477.4" y1="442.2" x2="480.4" y2="442.2" stroke="#333" stroke-width="0.75" stroke-linecap="butt"/>
<line x1="671.8" y1="442.2" x2="674.8" y2="442.2" stroke="#333" stroke-width="0.75" stroke-linecap="butt"/>
<line x1="477.4" y1="412.9" x2="480.4" y2="412.9" stroke="#333" stroke-width="0.75" stroke-linecap="butt"/>
<line x1="671.8" y1="412.9" x2="674.8" y2="412.9" stroke="#333" stroke-width="0.75" stroke-linecap="butt"/>
<line x1="477.4" y1="383.6" x2="480.4" y2="383.6" stroke="#333" stroke-width="0.75" stroke-linecap="butt"/>
<line x1="671.8" y1="383.6" x2="674.8" y2="383.6" stroke="#333" stroke-width="0.75" stroke-linecap="butt"/>
<line x1="477.4" y1="354.3" x2="480.4" y2="354.3" stroke="#333" stroke-width="0.75" stroke-linecap="butt"/>
<line x1="671.8" y1="354.3" x2="674.8" y2="354.3" stroke="#333" stroke-width="0.75" stroke-linecap="butt"/>
<line x1="478.6" y1="486.15" x2="480.4" y2="486.15" stroke="#333" stroke-width="0.75" stroke-linecap="butt"/>
<line x1="673" y1="486.15" x2="674.8" y2="486.15" stroke="#333" stroke-width="0.75" stroke-linecap="butt"/>
<line x1="478.6" y1="456.85" x2="480.4" y2="456.85" stroke="#333" stroke-width="0.75" stroke-linecap="butt"/>
<line x1="673" y1="456.85" x2="674.8" y2="456.85" stroke="#333" stroke-width="0.75" stroke-linecap="butt"/>
<line x1="478.6" y1="427.55" x2="480.4" y2="427.55" stroke="#333" stroke-width="0.75" stroke-linecap="butt"/>
<line x1="673" y1="427.55" x2="674.8" y2="427.55" stroke="#333" stroke-width="0.75" stroke-linecap="butt"/>
<line x1="478.6" y1="398.25" x2="480.4" y2="398.25" stroke="#333" stroke-width="0.75" stroke-linecap="butt"/>
<line x1="673" y1="398.25" x2="674.8" y2="398.25" stroke="#333" stroke-width="0.75" stroke-linecap="butt"/>
<line x1="478.6" y1="368.95" x2="480.4" y2="368.95" stroke="#333" stroke-width="0.75" stroke-linecap="butt"/>
<line x1="673" y1="368.95" x2="674.8" y2="368.95" stroke="#333" stroke-width="0.75" stroke-linecap="butt"/>
<text x="480.4" y="510.3" font-size="5.6" text-anchor="middle" fill="#222">0</text>
<text x="497.45" y="510.3" font-size="5.6" text-anchor="middle" fill="#222">2</text>
<text x="514.51" y="510.3" font-size="5.6" text-anchor="middle" fill="#222">4</text>
<text x="531.56" y="510.3" font-size="5.6" text-anchor="middle" fill="#222">6</text>
<text x="548.61" y="510.3" font-size="5.6" text-anchor="middle" fill="#222">8</text>
<text x="565.66" y="510.3" font-size="5.6" text-anchor="middle" fill="#222">10</text>
<text x="582.72" y="510.3" font-size="5.6" text-anchor="middle" fill="#222">12</text>
<text x="599.77" y="510.3" font-size="5.6" text-anchor="middle" fill="#222">14</text>
<text x="616.82" y="510.3" font-size="5.6" text-anchor="middle" fill="#222">16</text>
<text x="633.87" y="510.3" font-size="5.6" text-anchor="middle" fill="#222">18</text>
<text x="650.93" y="510.3" font-size="5.6" text-anchor="middle" fill="#222">20</text>
<text x="667.98" y="510.3" font-size="5.6" text-anchor="middle" fill="#222">22</text>
<text x="476.5" y="502.95" font-size="6.0" text-anchor="end" fill="#222">0.0</text>
<text x="476.5" y="473.65" font-size="6.0" text-anchor="end" fill="#222">0.1</text>
<text x="476.5" y="444.35" font-size="6.0" text-anchor="end" fill="#222">0.2</text>
<text x="476.5" y="415.05" font-size="6.0" text-anchor="end" fill="#222">0.3</text>
<text x="476.5" y="385.75" font-size="6.0" text-anchor="end" fill="#222">0.4</text>
<text x="476.5" y="356.45" font-size="6.0" text-anchor="end" fill="#222">0.5</text>
<text x="460.6" y="436.21" font-size="6.7" text-anchor="middle" fill="#222" transform="rotate(-90 460.6 434)">Al<tspan font-size="70%" baseline-shift="-40%">2</tspan>O<tspan font-size="70%" baseline-shift="-40%">3</tspan>/SiO<tspan font-size="70%" baseline-shift="-40%">2</tspan></text>
<text x="577.6" y="521.25" font-size="6.5" text-anchor="middle" fill="#222">Fe<tspan font-size="70%" baseline-shift="-40%">2</tspan>O<tspan font-size="70%" baseline-shift="-40%">3</tspan>+MgO (wt%)</text>
<path d="M489.7,461 C489.87,458.32 490.85,456.5 492.6,454.7 C494.35,452.9 497.35,451.27 500.2,450.2 C503.05,449.13 506.23,448.73 509.7,448.3 C513.17,447.87 517.22,447.73 521,447.6 C524.78,447.47 529.38,447.02 532.4,447.5 C535.42,447.98 538.15,448.67 539.1,450.5 C540.05,452.33 539.22,455.9 538.1,458.5 C536.98,461.1 534.92,463.88 532.4,466.1 C529.88,468.32 526.15,469.75 523,471.8 C519.85,473.85 516.67,476.98 513.5,478.4 C510.33,479.82 506.85,480.45 504,480.3 C501.15,480.15 498.47,479.08 496.4,477.5 C494.33,475.92 492.72,473.55 491.6,470.8 C490.48,468.05 489.53,463.68 489.7,461Z" fill="none" stroke="#444" stroke-width="0.6"/>
<path d="M529.6,409.2 C528.18,409.47 525.63,409.53 523.9,411.1 C522.17,412.67 520.62,415.13 519.2,418.6 C517.78,422.07 516.52,427.78 515.4,431.9 C514.28,436.02 513.1,440.2 512.5,443.3 C511.9,446.4 511.47,448.92 511.8,450.5 C512.13,452.08 512.63,452.45 514.5,452.8 C516.37,453.15 519.7,453.07 523,452.6 C526.3,452.13 531.15,451.07 534.3,450 C537.45,448.93 538.73,447.78 541.9,446.2 C545.07,444.62 550.13,442.25 553.3,440.5 C556.47,438.75 559.25,437.28 560.9,435.7 C562.55,434.12 563.2,432.42 563.2,431 C563.2,429.58 562.23,428.15 560.9,427.2 C559.57,426.25 557.73,425.78 555.2,425.3 C552.67,424.82 548.23,425.1 545.7,424.3 C543.17,423.5 541.58,422.38 540,420.5 C538.42,418.62 537.47,414.83 536.2,413 C534.93,411.17 533.5,410.13 532.4,409.5 C531.3,408.87 531.02,408.93 529.6,409.2Z" fill="none" stroke="#444" stroke-width="0.6"/>
<path d="M541.9,410.1 C542.05,407.88 542.53,405.98 543.8,404.4 C545.07,402.82 546.65,401.45 549.5,400.6 C552.35,399.75 556.78,399.3 560.9,399.3 C565.02,399.3 569.77,399.58 574.2,400.6 C578.63,401.62 583.38,403.82 587.5,405.4 C591.62,406.98 595.58,408.05 598.9,410.1 C602.22,412.15 605.67,415.17 607.4,417.7 C609.13,420.23 609.47,422.93 609.3,425.3 C609.13,427.67 608.13,429.85 606.4,431.9 C604.67,433.95 602.05,436.17 598.9,437.6 C595.75,439.03 591.3,440.5 587.5,440.5 C583.7,440.5 579.58,438.87 576.1,437.6 C572.62,436.33 569.13,434.48 566.6,432.9 C564.07,431.32 562.48,429.53 560.9,428.1 C559.32,426.67 559,425.4 557.1,424.3 C555.2,423.2 551.87,422.6 549.5,421.5 C547.13,420.4 544.17,419.6 542.9,417.7 C541.63,415.8 541.75,412.32 541.9,410.1Z" fill="none" stroke="#444" stroke-width="0.6"/>
<path d="M619.8,381.8 C623.82,381.22 633.82,380.23 639.6,380.3 C645.38,380.37 650.98,381.23 654.5,382.2 C658.02,383.17 659.57,384.52 660.7,386.1 C661.83,387.68 661.82,389.93 661.3,391.7 C660.78,393.47 659.77,395.05 657.6,396.7 C655.43,398.35 651.92,400.37 648.3,401.6 C644.68,402.83 640.45,403.37 635.9,404.1 C631.35,404.83 626.17,405.27 621,406 C615.83,406.73 608.83,408.4 604.9,408.5 C600.97,408.6 598.85,407.63 597.4,406.6 C595.95,405.57 595.57,404.17 596.2,402.3 C596.83,400.43 598.92,397.68 601.2,395.4 C603.48,393.12 607.52,390.53 609.9,388.6 C612.28,386.67 613.85,384.93 615.5,383.8 C617.15,382.67 615.78,382.38 619.8,381.8Z" fill="none" stroke="#444" stroke-width="0.6"/>
<circle cx="518.8" cy="444.8" r="2.5" fill="#00f" stroke="none" stroke-width="0"/>
<circle cx="523.8" cy="439.8" r="2.5" fill="#00f" stroke="none" stroke-width="0"/>
<circle cx="522.2" cy="433" r="2.5" fill="#00f" stroke="none" stroke-width="0"/>
<circle cx="560.8" cy="411.2" r="2.5" fill="#00f" stroke="none" stroke-width="0"/>
<circle cx="571.5" cy="415.6" r="2.5" fill="#00f" stroke="none" stroke-width="0"/>
<circle cx="581.9" cy="407.9" r="2.5" fill="#00f" stroke="none" stroke-width="0"/>
<circle cx="661.5" cy="400.5" r="2.5" fill="#00f" stroke="none" stroke-width="0"/>
<circle cx="661.5" cy="409.5" r="2.5" fill="#00f" stroke="none" stroke-width="0"/>
<text x="513.8" y="464.51" font-size="5.8" text-anchor="middle" fill="#222">passive margin</text>
<text x="528.2" y="428.61" font-size="5.8" text-anchor="start" fill="#222">active</text>
<text x="528.2" y="436.31" font-size="5.8" text-anchor="start" fill="#222">continental</text>
<text x="528.2" y="443.71" font-size="5.8" text-anchor="start" fill="#222">margin</text>
<text x="574.2" y="418.51" font-size="5.8" text-anchor="start" fill="#222">continental</text>
<text x="574.2" y="426.21" font-size="5.8" text-anchor="start" fill="#222">island-arc</text>
<text x="574.2" y="433.31" font-size="5.8" text-anchor="start" fill="#222">margin</text>
<text x="617.9" y="387.91" font-size="5.8" text-anchor="start" fill="#222">Oceanic</text>
<text x="617.9" y="395.01" font-size="5.8" text-anchor="start" fill="#222">island-arc</text>
<text x="617.9" y="401.71" font-size="5.8" text-anchor="start" fill="#222">margin</text>
<rect x="631.6" y="355" width="44.2" height="11.4" fill="#888" stroke="none" stroke-width="0"/>
<rect x="630.6" y="354" width="44.2" height="11.4" fill="#fff" stroke="#444" stroke-width="0.7"/>
<circle cx="638" cy="360" r="2.2" fill="#00f" stroke="none" stroke-width="0"/>
<text x="646.4" y="362.14" font-size="6.5" text-anchor="start" fill="#222">Samples</text>
<circle cx="488.6" cy="362.1" r="7.6" fill="#fff" stroke="#111" stroke-width="1.0"/>
<text x="488.6" y="366.6" font-size="12.5" text-anchor="middle" fill="#111">i</text>
<rect x="28" y="530.4" width="194.5" height="145.1" fill="none" stroke="#3a3a3a" stroke-width="1.0"/>
<line x1="28" y1="675.5" x2="28" y2="678.5" stroke="#333" stroke-width="0.75" stroke-linecap="butt"/>
<line x1="28" y1="530.4" x2="28" y2="533.4" stroke="#333" stroke-width="0.75" stroke-linecap="butt"/>
<line x1="50.67" y1="675.5" x2="50.67" y2="678.5" stroke="#333" stroke-width="0.75" stroke-linecap="butt"/>
<line x1="50.67" y1="530.4" x2="50.67" y2="533.4" stroke="#333" stroke-width="0.75" stroke-linecap="butt"/>
<line x1="73.34" y1="675.5" x2="73.34" y2="678.5" stroke="#333" stroke-width="0.75" stroke-linecap="butt"/>
<line x1="73.34" y1="530.4" x2="73.34" y2="533.4" stroke="#333" stroke-width="0.75" stroke-linecap="butt"/>
<line x1="96.01" y1="675.5" x2="96.01" y2="678.5" stroke="#333" stroke-width="0.75" stroke-linecap="butt"/>
<line x1="96.01" y1="530.4" x2="96.01" y2="533.4" stroke="#333" stroke-width="0.75" stroke-linecap="butt"/>
<line x1="118.68" y1="675.5" x2="118.68" y2="678.5" stroke="#333" stroke-width="0.75" stroke-linecap="butt"/>
<line x1="118.68" y1="530.4" x2="118.68" y2="533.4" stroke="#333" stroke-width="0.75" stroke-linecap="butt"/>
<line x1="141.34" y1="675.5" x2="141.34" y2="678.5" stroke="#333" stroke-width="0.75" stroke-linecap="butt"/>
<line x1="141.34" y1="530.4" x2="141.34" y2="533.4" stroke="#333" stroke-width="0.75" stroke-linecap="butt"/>
<line x1="164.01" y1="675.5" x2="164.01" y2="678.5" stroke="#333" stroke-width="0.75" stroke-linecap="butt"/>
<line x1="164.01" y1="530.4" x2="164.01" y2="533.4" stroke="#333" stroke-width="0.75" stroke-linecap="butt"/>
<line x1="186.68" y1="675.5" x2="186.68" y2="678.5" stroke="#333" stroke-width="0.75" stroke-linecap="butt"/>
<line x1="186.68" y1="530.4" x2="186.68" y2="533.4" stroke="#333" stroke-width="0.75" stroke-linecap="butt"/>
<line x1="209.35" y1="675.5" x2="209.35" y2="678.5" stroke="#333" stroke-width="0.75" stroke-linecap="butt"/>
<line x1="209.35" y1="530.4" x2="209.35" y2="533.4" stroke="#333" stroke-width="0.75" stroke-linecap="butt"/>
<line x1="39.33" y1="675.5" x2="39.33" y2="677.3" stroke="#333" stroke-width="0.75" stroke-linecap="butt"/>
<line x1="39.33" y1="530.4" x2="39.33" y2="532.2" stroke="#333" stroke-width="0.75" stroke-linecap="butt"/>
<line x1="62" y1="675.5" x2="62" y2="677.3" stroke="#333" stroke-width="0.75" stroke-linecap="butt"/>
<line x1="62" y1="530.4" x2="62" y2="532.2" stroke="#333" stroke-width="0.75" stroke-linecap="butt"/>
<line x1="84.67" y1="675.5" x2="84.67" y2="677.3" stroke="#333" stroke-width="0.75" stroke-linecap="butt"/>
<line x1="84.67" y1="530.4" x2="84.67" y2="532.2" stroke="#333" stroke-width="0.75" stroke-linecap="butt"/>
<line x1="107.34" y1="675.5" x2="107.34" y2="677.3" stroke="#333" stroke-width="0.75" stroke-linecap="butt"/>
<line x1="107.34" y1="530.4" x2="107.34" y2="532.2" stroke="#333" stroke-width="0.75" stroke-linecap="butt"/>
<line x1="130.01" y1="675.5" x2="130.01" y2="677.3" stroke="#333" stroke-width="0.75" stroke-linecap="butt"/>
<line x1="130.01" y1="530.4" x2="130.01" y2="532.2" stroke="#333" stroke-width="0.75" stroke-linecap="butt"/>
<line x1="152.68" y1="675.5" x2="152.68" y2="677.3" stroke="#333" stroke-width="0.75" stroke-linecap="butt"/>
<line x1="152.68" y1="530.4" x2="152.68" y2="532.2" stroke="#333" stroke-width="0.75" stroke-linecap="butt"/>
<line x1="175.35" y1="675.5" x2="175.35" y2="677.3" stroke="#333" stroke-width="0.75" stroke-linecap="butt"/>
<line x1="175.35" y1="530.4" x2="175.35" y2="532.2" stroke="#333" stroke-width="0.75" stroke-linecap="butt"/>
<line x1="198.02" y1="675.5" x2="198.02" y2="677.3" stroke="#333" stroke-width="0.75" stroke-linecap="butt"/>
<line x1="198.02" y1="530.4" x2="198.02" y2="532.2" stroke="#333" stroke-width="0.75" stroke-linecap="butt"/>
<line x1="220.69" y1="675.5" x2="220.69" y2="677.3" stroke="#333" stroke-width="0.75" stroke-linecap="butt"/>
<line x1="220.69" y1="530.4" x2="220.69" y2="532.2" stroke="#333" stroke-width="0.75" stroke-linecap="butt"/>
<line x1="25" y1="675.5" x2="28" y2="675.5" stroke="#333" stroke-width="0.75" stroke-linecap="butt"/>
<line x1="219.5" y1="675.5" x2="222.5" y2="675.5" stroke="#333" stroke-width="0.75" stroke-linecap="butt"/>
<line x1="25" y1="657.36" x2="28" y2="657.36" stroke="#333" stroke-width="0.75" stroke-linecap="butt"/>
<line x1="219.5" y1="657.36" x2="222.5" y2="657.36" stroke="#333" stroke-width="0.75" stroke-linecap="butt"/>
<line x1="25" y1="639.23" x2="28" y2="639.23" stroke="#333" stroke-width="0.75" stroke-linecap="butt"/>
<line x1="219.5" y1="639.23" x2="222.5" y2="639.23" stroke="#333" stroke-width="0.75" stroke-linecap="butt"/>
<line x1="25" y1="621.09" x2="28" y2="621.09" stroke="#333" stroke-width="0.75" stroke-linecap="butt"/>
<line x1="219.5" y1="621.09" x2="222.5" y2="621.09" stroke="#333" stroke-width="0.75" stroke-linecap="butt"/>
<line x1="25" y1="602.95" x2="28" y2="602.95" stroke="#333" stroke-width="0.75" stroke-linecap="butt"/>
<line x1="219.5" y1="602.95" x2="222.5" y2="602.95" stroke="#333" stroke-width="0.75" stroke-linecap="butt"/>
<line x1="25" y1="584.81" x2="28" y2="584.81" stroke="#333" stroke-width="0.75" stroke-linecap="butt"/>
<line x1="219.5" y1="584.81" x2="222.5" y2="584.81" stroke="#333" stroke-width="0.75" stroke-linecap="butt"/>
<line x1="25" y1="566.67" x2="28" y2="566.67" stroke="#333" stroke-width="0.75" stroke-linecap="butt"/>
<line x1="219.5" y1="566.67" x2="222.5" y2="566.67" stroke="#333" stroke-width="0.75" stroke-linecap="butt"/>
<line x1="25" y1="548.54" x2="28" y2="548.54" stroke="#333" stroke-width="0.75" stroke-linecap="butt"/>
<line x1="219.5" y1="548.54" x2="222.5" y2="548.54" stroke="#333" stroke-width="0.75" stroke-linecap="butt"/>
<line x1="25" y1="530.4" x2="28" y2="530.4" stroke="#333" stroke-width="0.75" stroke-linecap="butt"/>
<line x1="219.5" y1="530.4" x2="222.5" y2="530.4" stroke="#333" stroke-width="0.75" stroke-linecap="butt"/>
<line x1="26.2" y1="666.43" x2="28" y2="666.43" stroke="#333" stroke-width="0.75" stroke-linecap="butt"/>
<line x1="220.7" y1="666.43" x2="222.5" y2="666.43" stroke="#333" stroke-width="0.75" stroke-linecap="butt"/>
<line x1="26.2" y1="648.29" x2="28" y2="648.29" stroke="#333" stroke-width="0.75" stroke-linecap="butt"/>
<line x1="220.7" y1="648.29" x2="222.5" y2="648.29" stroke="#333" stroke-width="0.75" stroke-linecap="butt"/>
<line x1="26.2" y1="630.16" x2="28" y2="630.16" stroke="#333" stroke-width="0.75" stroke-linecap="butt"/>
<line x1="220.7" y1="630.16" x2="222.5" y2="630.16" stroke="#333" stroke-width="0.75" stroke-linecap="butt"/>
<line x1="26.2" y1="612.02" x2="28" y2="612.02" stroke="#333" stroke-width="0.75" stroke-linecap="butt"/>
<line x1="220.7" y1="612.02" x2="222.5" y2="612.02" stroke="#333" stroke-width="0.75" stroke-linecap="butt"/>
<line x1="26.2" y1="593.88" x2="28" y2="593.88" stroke="#333" stroke-width="0.75" stroke-linecap="butt"/>
<line x1="220.7" y1="593.88" x2="222.5" y2="593.88" stroke="#333" stroke-width="0.75" stroke-linecap="butt"/>
<line x1="26.2" y1="575.74" x2="28" y2="575.74" stroke="#333" stroke-width="0.75" stroke-linecap="butt"/>
<line x1="220.7" y1="575.74" x2="222.5" y2="575.74" stroke="#333" stroke-width="0.75" stroke-linecap="butt"/>
<line x1="26.2" y1="557.61" x2="28" y2="557.61" stroke="#333" stroke-width="0.75" stroke-linecap="butt"/>
<line x1="220.7" y1="557.61" x2="222.5" y2="557.61" stroke="#333" stroke-width="0.75" stroke-linecap="butt"/>
<line x1="26.2" y1="539.47" x2="28" y2="539.47" stroke="#333" stroke-width="0.75" stroke-linecap="butt"/>
<line x1="220.7" y1="539.47" x2="222.5" y2="539.47" stroke="#333" stroke-width="0.75" stroke-linecap="butt"/>
<text x="28" y="684.68" font-size="5.8" text-anchor="middle" fill="#222">35</text>
<text x="50.67" y="684.68" font-size="5.8" text-anchor="middle" fill="#222">40</text>
<text x="73.34" y="684.68" font-size="5.8" text-anchor="middle" fill="#222">45</text>
<text x="96.01" y="684.68" font-size="5.8" text-anchor="middle" fill="#222">50</text>
<text x="118.68" y="684.68" font-size="5.8" text-anchor="middle" fill="#222">55</text>
<text x="141.34" y="684.68" font-size="5.8" text-anchor="middle" fill="#222">60</text>
<text x="164.01" y="684.68" font-size="5.8" text-anchor="middle" fill="#222">65</text>
<text x="186.68" y="684.68" font-size="5.8" text-anchor="middle" fill="#222">70</text>
<text x="209.35" y="684.68" font-size="5.8" text-anchor="middle" fill="#222">75</text>
<text x="24" y="677.58" font-size="5.8" text-anchor="end" fill="#222">0</text>
<text x="24" y="659.44" font-size="5.8" text-anchor="end" fill="#222">2</text>
<text x="24" y="641.3" font-size="5.8" text-anchor="end" fill="#222">4</text>
<text x="24" y="623.16" font-size="5.8" text-anchor="end" fill="#222">6</text>
<text x="24" y="605.03" font-size="5.8" text-anchor="end" fill="#222">8</text>
<text x="24" y="586.89" font-size="5.8" text-anchor="end" fill="#222">10</text>
<text x="24" y="568.75" font-size="5.8" text-anchor="end" fill="#222">12</text>
<text x="24" y="550.61" font-size="5.8" text-anchor="end" fill="#222">14</text>
<text x="24" y="532.48" font-size="5.8" text-anchor="end" fill="#222">16</text>
<text x="12.3" y="604.21" font-size="6.7" text-anchor="middle" fill="#222" transform="rotate(-90 12.3 602)">Na<tspan font-size="70%" baseline-shift="-40%">2</tspan>O+ K<tspan font-size="70%" baseline-shift="-40%">2</tspan>O (wt %)</text>
<text x="115" y="691.91" font-size="6.7" text-anchor="middle" fill="#222">SiO<tspan font-size="70%" baseline-shift="-40%">2</tspan> (wt%)</text>
<polyline points="94.1,537.4 109,550.1 132.6,570.6 156.8,612.3" fill="none" stroke="#333" stroke-width="0.65" stroke-linejoin="miter"/>
<polyline points="132.6,570.6 148.4,554.8" fill="none" stroke="#333" stroke-width="0.65" stroke-linejoin="miter"/>
<polyline points="109,550.1 90.9,572 75.7,590.4 56.8,612.4 56.8,675.5" fill="none" stroke="#333" stroke-width="0.65" stroke-linejoin="miter"/>
<polyline points="90.9,572 111.6,592.2 129.1,621.3 129.1,662.4" fill="none" stroke="#333" stroke-width="0.65" stroke-linejoin="miter"/>
<polyline points="132.6,570.6 111.6,592.2 95.8,609.8 74.8,631.8 74.8,673.5" fill="none" stroke="#333" stroke-width="0.65" stroke-linejoin="miter"/>
<polyline points="75.7,590.4 95.8,609.8 106.3,630 106.3,675.5" fill="none" stroke="#333" stroke-width="0.65" stroke-linejoin="miter"/>
<polyline points="74.8,631.8 106.3,631.8" fill="none" stroke="#333" stroke-width="0.65" stroke-linejoin="miter"/>
<polyline points="56.8,648.1 74.8,648.1" fill="none" stroke="#333" stroke-width="0.65" stroke-linejoin="miter"/>
<polyline points="106.3,630 156.8,612.3 184.1,603.4" fill="none" stroke="#333" stroke-width="0.65" stroke-linejoin="miter"/>
<polyline points="156.1,612.3 156.1,662.4" fill="none" stroke="#333" stroke-width="0.65" stroke-linejoin="miter"/>
<polyline points="184.1,603.4 185.1,557.7" fill="none" stroke="#333" stroke-width="0.65" stroke-linejoin="miter"/>
<polyline points="184.1,603.4 207.5,650" fill="none" stroke="#333" stroke-width="0.65" stroke-linejoin="miter"/>
<text x="95.8" y="569.04" font-size="6.8" text-anchor="start" fill="#222">Nepheline</text>
<text x="95.8" y="577.44" font-size="6.8" text-anchor="start" fill="#222">syenite</text>
<text x="74.8" y="612.94" font-size="6.8" text-anchor="middle" fill="#222">Ijolite</text>
<text x="110.7" y="611.04" font-size="6.8" text-anchor="middle" fill="#222">Monzo-</text>
<text x="109.8" y="619.34" font-size="6.8" text-anchor="middle" fill="#222">diorite</text>
<text x="92.3" y="627.94" font-size="6.8" text-anchor="middle" fill="#222">Gabbro</text>
<text x="87.9" y="653.34" font-size="6.8" text-anchor="middle" fill="#222" transform="rotate(-90 87.9 651.1)">Gabbro</text>
<text x="119.5" y="650.64" font-size="6.8" text-anchor="middle" fill="#222" transform="rotate(-90 119.5 648.4)">Gabbrodiorite</text>
<text x="145.2" y="648.94" font-size="6.8" text-anchor="middle" fill="#222" transform="rotate(-90 145.2 646.7)">Diorite</text>
<text x="130.8" y="598.51" font-size="7.0" text-anchor="middle" fill="#222" transform="rotate(-74.4 130.8 596.2)">Syenodiorite</text>
<text x="156.4" y="589.94" font-size="6.8" text-anchor="middle" fill="#222" transform="rotate(-90 156.4 587.7)">Syenite</text>
<text x="167" y="580.44" font-size="6.8" text-anchor="middle" fill="#222" transform="rotate(-90 167 578.2)">Quartz-syenite</text>
<text x="201.6" y="581.84" font-size="6.8" text-anchor="middle" fill="#222">Granite</text>
<text x="180.3" y="637.94" font-size="6.8" text-anchor="middle" fill="#222">Granodiorite</text>
<text x="182.8" y="649.94" font-size="6.8" text-anchor="middle" fill="#222">Quartz- diorite</text>
<rect x="158.8" y="610.6" width="4" height="4" fill="#000"/>
<rect x="166.8" y="610.3" width="4" height="4" fill="#000"/>
<rect x="170.3" y="606.6" width="4" height="4" fill="#000"/>
<rect x="170.9" y="608.5" width="4" height="4" fill="#000"/>
<rect x="172.1" y="611" width="4" height="4" fill="#000"/>
<rect x="174" y="613.4" width="4" height="4" fill="#000"/>
<rect x="166.8" y="613.4" width="4" height="4" fill="#000"/>
<rect x="164.7" y="619" width="4" height="4" fill="#000"/>
<rect x="174" y="619" width="4" height="4" fill="#000"/>
<rect x="167.2" y="612.2" width="4" height="4" fill="#000"/>
<circle cx="206.4" cy="592.2" r="2.5" fill="#f00" stroke="none" stroke-width="0"/>
<circle cx="210.1" cy="592.7" r="2.5" fill="#f00" stroke="none" stroke-width="0"/>
<circle cx="210.7" cy="594.7" r="2.5" fill="#f00" stroke="none" stroke-width="0"/>
<circle cx="215.1" cy="598.7" r="2.5" fill="#f00" stroke="none" stroke-width="0"/>
<circle cx="200.8" cy="600.8" r="2.5" fill="#f00" stroke="none" stroke-width="0"/>
<circle cx="205.1" cy="603" r="2.5" fill="#f00" stroke="none" stroke-width="0"/>
<circle cx="208" cy="606.8" r="2.5" fill="#f00" stroke="none" stroke-width="0"/>
<circle cx="211" cy="608" r="2.5" fill="#f00" stroke="none" stroke-width="0"/>
<rect x="150.1" y="532.6" width="71.3" height="20" fill="#fff" stroke="#333" stroke-width="0.8"/>
<rect x="156.7" y="536.9" width="3.8" height="3.8" fill="#000"/>
<circle cx="158.6" cy="547.2" r="2.09" fill="#f00" stroke="none" stroke-width="0"/>
<text x="168.1" y="541.06" font-size="6.85" text-anchor="start" fill="#222">Older granite</text>
<text x="168.1" y="549.46" font-size="6.85" text-anchor="start" fill="#222">Younger granite</text>
<circle cx="35.9" cy="538.3" r="7.6" fill="#fff" stroke="#111" stroke-width="1.0"/>
<text x="35.9" y="541.55" font-size="12.5" text-anchor="middle" fill="#111">j</text>
<rect x="255" y="530.4" width="193" height="145.3" fill="none" stroke="#3a3a3a" stroke-width="1.0"/>
<line x1="255" y1="675.7" x2="255" y2="678.7" stroke="#333" stroke-width="0.75" stroke-linecap="butt"/>
<line x1="255" y1="530.4" x2="255" y2="533.4" stroke="#333" stroke-width="0.75" stroke-linecap="butt"/>
<line x1="282.57" y1="675.7" x2="282.57" y2="678.7" stroke="#333" stroke-width="0.75" stroke-linecap="butt"/>
<line x1="282.57" y1="530.4" x2="282.57" y2="533.4" stroke="#333" stroke-width="0.75" stroke-linecap="butt"/>
<line x1="310.14" y1="675.7" x2="310.14" y2="678.7" stroke="#333" stroke-width="0.75" stroke-linecap="butt"/>
<line x1="310.14" y1="530.4" x2="310.14" y2="533.4" stroke="#333" stroke-width="0.75" stroke-linecap="butt"/>
<line x1="337.71" y1="675.7" x2="337.71" y2="678.7" stroke="#333" stroke-width="0.75" stroke-linecap="butt"/>
<line x1="337.71" y1="530.4" x2="337.71" y2="533.4" stroke="#333" stroke-width="0.75" stroke-linecap="butt"/>
<line x1="365.29" y1="675.7" x2="365.29" y2="678.7" stroke="#333" stroke-width="0.75" stroke-linecap="butt"/>
<line x1="365.29" y1="530.4" x2="365.29" y2="533.4" stroke="#333" stroke-width="0.75" stroke-linecap="butt"/>
<line x1="392.86" y1="675.7" x2="392.86" y2="678.7" stroke="#333" stroke-width="0.75" stroke-linecap="butt"/>
<line x1="392.86" y1="530.4" x2="392.86" y2="533.4" stroke="#333" stroke-width="0.75" stroke-linecap="butt"/>
<line x1="420.43" y1="675.7" x2="420.43" y2="678.7" stroke="#333" stroke-width="0.75" stroke-linecap="butt"/>
<line x1="420.43" y1="530.4" x2="420.43" y2="533.4" stroke="#333" stroke-width="0.75" stroke-linecap="butt"/>
<line x1="448" y1="675.7" x2="448" y2="678.7" stroke="#333" stroke-width="0.75" stroke-linecap="butt"/>
<line x1="448" y1="530.4" x2="448" y2="533.4" stroke="#333" stroke-width="0.75" stroke-linecap="butt"/>
<line x1="268.79" y1="675.7" x2="268.79" y2="677.5" stroke="#333" stroke-width="0.75" stroke-linecap="butt"/>
<line x1="268.79" y1="530.4" x2="268.79" y2="532.2" stroke="#333" stroke-width="0.75" stroke-linecap="butt"/>
<line x1="296.36" y1="675.7" x2="296.36" y2="677.5" stroke="#333" stroke-width="0.75" stroke-linecap="butt"/>
<line x1="296.36" y1="530.4" x2="296.36" y2="532.2" stroke="#333" stroke-width="0.75" stroke-linecap="butt"/>
<line x1="323.93" y1="675.7" x2="323.93" y2="677.5" stroke="#333" stroke-width="0.75" stroke-linecap="butt"/>
<line x1="323.93" y1="530.4" x2="323.93" y2="532.2" stroke="#333" stroke-width="0.75" stroke-linecap="butt"/>
<line x1="351.5" y1="675.7" x2="351.5" y2="677.5" stroke="#333" stroke-width="0.75" stroke-linecap="butt"/>
<line x1="351.5" y1="530.4" x2="351.5" y2="532.2" stroke="#333" stroke-width="0.75" stroke-linecap="butt"/>
<line x1="379.07" y1="675.7" x2="379.07" y2="677.5" stroke="#333" stroke-width="0.75" stroke-linecap="butt"/>
<line x1="379.07" y1="530.4" x2="379.07" y2="532.2" stroke="#333" stroke-width="0.75" stroke-linecap="butt"/>
<line x1="406.64" y1="675.7" x2="406.64" y2="677.5" stroke="#333" stroke-width="0.75" stroke-linecap="butt"/>
<line x1="406.64" y1="530.4" x2="406.64" y2="532.2" stroke="#333" stroke-width="0.75" stroke-linecap="butt"/>
<line x1="434.21" y1="675.7" x2="434.21" y2="677.5" stroke="#333" stroke-width="0.75" stroke-linecap="butt"/>
<line x1="434.21" y1="530.4" x2="434.21" y2="532.2" stroke="#333" stroke-width="0.75" stroke-linecap="butt"/>
<line x1="252" y1="675.7" x2="255" y2="675.7" stroke="#333" stroke-width="0.75" stroke-linecap="butt"/>
<line x1="445" y1="675.7" x2="448" y2="675.7" stroke="#333" stroke-width="0.75" stroke-linecap="butt"/>
<line x1="252" y1="642.03" x2="255" y2="642.03" stroke="#333" stroke-width="0.75" stroke-linecap="butt"/>
<line x1="445" y1="642.03" x2="448" y2="642.03" stroke="#333" stroke-width="0.75" stroke-linecap="butt"/>
<line x1="252" y1="608.35" x2="255" y2="608.35" stroke="#333" stroke-width="0.75" stroke-linecap="butt"/>
<line x1="445" y1="608.35" x2="448" y2="608.35" stroke="#333" stroke-width="0.75" stroke-linecap="butt"/>
<line x1="252" y1="574.68" x2="255" y2="574.68" stroke="#333" stroke-width="0.75" stroke-linecap="butt"/>
<line x1="445" y1="574.68" x2="448" y2="574.68" stroke="#333" stroke-width="0.75" stroke-linecap="butt"/>
<line x1="252" y1="541.01" x2="255" y2="541.01" stroke="#333" stroke-width="0.75" stroke-linecap="butt"/>
<line x1="445" y1="541.01" x2="448" y2="541.01" stroke="#333" stroke-width="0.75" stroke-linecap="butt"/>
<line x1="253.2" y1="658.86" x2="255" y2="658.86" stroke="#333" stroke-width="0.75" stroke-linecap="butt"/>
<line x1="446.2" y1="658.86" x2="448" y2="658.86" stroke="#333" stroke-width="0.75" stroke-linecap="butt"/>
<line x1="253.2" y1="625.19" x2="255" y2="625.19" stroke="#333" stroke-width="0.75" stroke-linecap="butt"/>
<line x1="446.2" y1="625.19" x2="448" y2="625.19" stroke="#333" stroke-width="0.75" stroke-linecap="butt"/>
<line x1="253.2" y1="591.52" x2="255" y2="591.52" stroke="#333" stroke-width="0.75" stroke-linecap="butt"/>
<line x1="446.2" y1="591.52" x2="448" y2="591.52" stroke="#333" stroke-width="0.75" stroke-linecap="butt"/>
<line x1="253.2" y1="557.84" x2="255" y2="557.84" stroke="#333" stroke-width="0.75" stroke-linecap="butt"/>
<line x1="446.2" y1="557.84" x2="448" y2="557.84" stroke="#333" stroke-width="0.75" stroke-linecap="butt"/>
<text x="255" y="684.58" font-size="5.8" text-anchor="middle" fill="#222">45</text>
<text x="282.57" y="684.58" font-size="5.8" text-anchor="middle" fill="#222">50</text>
<text x="310.14" y="684.58" font-size="5.8" text-anchor="middle" fill="#222">55</text>
<text x="337.71" y="684.58" font-size="5.8" text-anchor="middle" fill="#222">60</text>
<text x="365.29" y="684.58" font-size="5.8" text-anchor="middle" fill="#222">65</text>
<text x="392.86" y="684.58" font-size="5.8" text-anchor="middle" fill="#222">70</text>
<text x="420.43" y="684.58" font-size="5.8" text-anchor="middle" fill="#222">75</text>
<text x="448" y="684.58" font-size="5.8" text-anchor="middle" fill="#222">80</text>
<text x="251.5" y="677.78" font-size="5.8" text-anchor="end" fill="#222">0</text>
<text x="251.5" y="644.1" font-size="5.8" text-anchor="end" fill="#222">2</text>
<text x="251.5" y="610.43" font-size="5.8" text-anchor="end" fill="#222">4</text>
<text x="251.5" y="576.76" font-size="5.8" text-anchor="end" fill="#222">6</text>
<text x="251.5" y="543.08" font-size="5.8" text-anchor="end" fill="#222">8</text>
<text x="241.4" y="599.58" font-size="6.6" text-anchor="middle" fill="#222" transform="rotate(-90 241.4 597.4)">K<tspan font-size="70%" baseline-shift="-40%">2</tspan>O (wt %)</text>
<text x="334.8" y="696.28" font-size="6.6" text-anchor="middle" fill="#222">SiO<tspan font-size="70%" baseline-shift="-40%">2</tspan> (wt%)</text>
<polyline points="255.4,652.4 270.6,648.9 317.6,621.8 394.2,597.4" fill="none" stroke="#333" stroke-width="0.7" stroke-linejoin="miter"/>
<polyline points="255.4,659.8 417.7,619.9" fill="none" stroke="#333" stroke-width="0.7" stroke-linejoin="miter"/>
<polyline points="255.4,671.7 438.9,647.7" fill="none" stroke="#333" stroke-width="0.7" stroke-linejoin="miter"/>
<rect x="359.55" y="607.75" width="4.1" height="4.1" fill="#000"/>
<rect x="365.35" y="609.75" width="4.1" height="4.1" fill="#000"/>
<rect x="366.95" y="608.05" width="4.1" height="4.1" fill="#000"/>
<rect x="370.35" y="595.95" width="4.1" height="4.1" fill="#000"/>
<rect x="372.65" y="599.35" width="4.1" height="4.1" fill="#000"/>
<rect x="377.75" y="597.05" width="4.1" height="4.1" fill="#000"/>
<rect x="382.75" y="593.95" width="4.1" height="4.1" fill="#000"/>
<rect x="373.75" y="608.75" width="4.1" height="4.1" fill="#000"/>
<circle cx="410.3" cy="608.5" r="2.5" fill="#f00" stroke="none" stroke-width="0"/>
<circle cx="415.4" cy="610.1" r="2.5" fill="#f00" stroke="none" stroke-width="0"/>
<circle cx="417.1" cy="600.7" r="2.5" fill="#f00" stroke="none" stroke-width="0"/>
<circle cx="422.1" cy="603.1" r="2.5" fill="#f00" stroke="none" stroke-width="0"/>
<circle cx="427.8" cy="604.8" r="2.5" fill="#f00" stroke="none" stroke-width="0"/>
<circle cx="418.7" cy="619.9" r="2.5" fill="#f00" stroke="none" stroke-width="0"/>
<circle cx="422.8" cy="621.9" r="2.5" fill="#f00" stroke="none" stroke-width="0"/>
<text x="333.3" y="604.81" font-size="6.7" text-anchor="middle" fill="#222" transform="rotate(-20.5 333.3 602.6)">Shoshonite series</text>
<text x="359.6" y="626.34" font-size="6.8" text-anchor="middle" fill="#222" transform="rotate(-20.5 359.6 624.1)">High K calc alkaline series</text>
<text x="375.8" y="648.85" font-size="6.5" text-anchor="middle" fill="#222" transform="rotate(-2 375.8 646.7)">calc alkaline series</text>
<text x="397.5" y="667.79" font-size="6.95" text-anchor="middle" fill="#222">Low K- Tholeiitic series</text>
<rect x="375.2" y="532.7" width="71.1" height="19.6" fill="#fff" stroke="#333" stroke-width="0.8"/>
<rect x="382.2" y="536.8" width="3.8" height="3.8" fill="#000"/>
<circle cx="384.1" cy="547.3" r="2.09" fill="#f00" stroke="none" stroke-width="0"/>
<text x="393.6" y="540.96" font-size="6.85" text-anchor="start" fill="#222">Older granite</text>
<text x="393.6" y="549.56" font-size="6.85" text-anchor="start" fill="#222">Younger granite</text>
<circle cx="262.1" cy="538.3" r="7.6" fill="#fff" stroke="#111" stroke-width="1.0"/>
<text x="262.1" y="542.8" font-size="12.5" text-anchor="middle" fill="#111">k</text>
<polygon points="577.3,545.1 502,675.5 652.6,675.5" fill="none" stroke="#222" stroke-width="0.9" stroke-linejoin="miter"/>
<line x1="539.65" y1="610.3" x2="614.95" y2="610.3" stroke="#444" stroke-width="0.7" stroke-dasharray="1,1.3" stroke-linecap="butt"/>
<line x1="539.65" y1="610.3" x2="652.6" y2="675.5" stroke="#333" stroke-width="0.9" stroke-dasharray="0.9,1.4" stroke-linecap="butt"/>
<line x1="558.47" y1="577.7" x2="556.97" y2="575.5" stroke="#222" stroke-width="0.6" stroke-linecap="butt"/>
<line x1="596.12" y1="577.7" x2="598.73" y2="577.7" stroke="#222" stroke-width="0.6" stroke-linecap="butt"/>
<line x1="539.65" y1="675.5" x2="538.15" y2="677.8" stroke="#222" stroke-width="0.6" stroke-linecap="butt"/>
<line x1="539.65" y1="610.3" x2="538.15" y2="608.1" stroke="#222" stroke-width="0.6" stroke-linecap="butt"/>
<line x1="614.95" y1="610.3" x2="617.55" y2="610.3" stroke="#222" stroke-width="0.6" stroke-linecap="butt"/>
<line x1="577.3" y1="675.5" x2="575.8" y2="677.8" stroke="#222" stroke-width="0.6" stroke-linecap="butt"/>
<line x1="520.82" y1="642.9" x2="519.32" y2="640.7" stroke="#222" stroke-width="0.6" stroke-linecap="butt"/>
<line x1="633.77" y1="642.9" x2="636.38" y2="642.9" stroke="#222" stroke-width="0.6" stroke-linecap="butt"/>
<line x1="614.95" y1="675.5" x2="613.45" y2="677.8" stroke="#222" stroke-width="0.6" stroke-linecap="butt"/>
<line x1="567.89" y1="561.4" x2="569.29" y2="561.4" stroke="#222" stroke-width="0.5" stroke-linecap="butt"/>
<line x1="586.71" y1="561.4" x2="585.31" y2="561.4" stroke="#222" stroke-width="0.5" stroke-linecap="butt"/>
<line x1="549.06" y1="594" x2="550.46" y2="594" stroke="#222" stroke-width="0.5" stroke-linecap="butt"/>
<line x1="605.54" y1="594" x2="604.14" y2="594" stroke="#222" stroke-width="0.5" stroke-linecap="butt"/>
<line x1="530.24" y1="626.6" x2="531.64" y2="626.6" stroke="#222" stroke-width="0.5" stroke-linecap="butt"/>
<line x1="624.36" y1="626.6" x2="622.96" y2="626.6" stroke="#222" stroke-width="0.5" stroke-linecap="butt"/>
<line x1="511.41" y1="659.2" x2="512.81" y2="659.2" stroke="#222" stroke-width="0.5" stroke-linecap="butt"/>
<line x1="643.19" y1="659.2" x2="641.79" y2="659.2" stroke="#222" stroke-width="0.5" stroke-linecap="butt"/>
<text x="577" y="586.08" font-size="6.3" text-anchor="middle" fill="#222">Peraluminous</text>
<text x="595.2" y="626.58" font-size="6.3" text-anchor="middle" fill="#222">Metaluminous</text>
<text x="544" y="659.88" font-size="6.3" text-anchor="middle" fill="#222">Peralkaline</text>
<text x="573" y="543.1" font-size="5.6" text-anchor="end" fill="#222">0.00</text>
<text x="578.3" y="538.78" font-size="6.6" text-anchor="start" fill="#222">Al<tspan font-size="70%" baseline-shift="-40%">2</tspan>O<tspan font-size="70%" baseline-shift="-40%">3</tspan></text>
<text x="581.3" y="547.1" font-size="5.6" text-anchor="start" fill="#222">1.00</text>
<text x="555" y="575.2" font-size="5.6" text-anchor="end" fill="#222">0.25</text>
<text x="600.5" y="579" font-size="5.6" text-anchor="start" fill="#222">0.75</text>
<text x="536.9" y="607.6" font-size="5.6" text-anchor="end" fill="#222">0.50</text>
<text x="619.5" y="612.3" font-size="5.6" text-anchor="start" fill="#222">0.50</text>
<text x="519" y="640" font-size="5.6" text-anchor="end" fill="#222">0.75</text>
<text x="638" y="643.9" font-size="5.6" text-anchor="start" fill="#222">0.25</text>
<text x="500.4" y="673" font-size="5.6" text-anchor="end" fill="#222">1.00</text>
<text x="656.6" y="675.9" font-size="5.6" text-anchor="start" fill="#222">0.00</text>
<text x="502" y="682.8" font-size="5.3" text-anchor="middle" fill="#222">0.00</text>
<text x="538.95" y="682.8" font-size="5.3" text-anchor="middle" fill="#222">0.25</text>
<text x="575.9" y="682.8" font-size="5.3" text-anchor="middle" fill="#222">0.50</text>
<text x="612.85" y="682.8" font-size="5.3" text-anchor="middle" fill="#222">0.75</text>
<text x="649.8" y="682.8" font-size="5.3" text-anchor="middle" fill="#222">1.00</text>
<text x="500.3" y="688.68" font-size="6.3" text-anchor="middle" fill="#222">Na<tspan font-size="70%" baseline-shift="-40%">2</tspan>O+K<tspan font-size="70%" baseline-shift="-40%">2</tspan>O</text>
<text x="662.6" y="688.94" font-size="6.5" text-anchor="middle" fill="#222">CaO</text>
<rect x="554.5" y="588.9" width="3.6" height="3.6" fill="#000"/>
<rect x="556.6" y="590.6" width="3.6" height="3.6" fill="#000"/>
<rect x="558" y="591.9" width="3.6" height="3.6" fill="#000"/>
<rect x="555.9" y="593.3" width="3.6" height="3.6" fill="#000"/>
<rect x="557.2" y="589.7" width="3.6" height="3.6" fill="#000"/>
<rect x="555.2" y="591.2" width="3.6" height="3.6" fill="#000"/>
<circle cx="556.3" cy="600.3" r="2.5" fill="#f00" stroke="none" stroke-width="0"/>
<circle cx="555.4" cy="602.1" r="2.5" fill="#f00" stroke="none" stroke-width="0"/>
<circle cx="550.1" cy="604.7" r="2.5" fill="#f00" stroke="none" stroke-width="0"/>
<circle cx="551" cy="606.5" r="2.5" fill="#f00" stroke="none" stroke-width="0"/>
<circle cx="552.8" cy="608.7" r="2.5" fill="#f00" stroke="none" stroke-width="0"/>
<circle cx="551.9" cy="607.3" r="2.5" fill="#f00" stroke="none" stroke-width="0"/>
<rect x="602.5" y="529.2" width="67.7" height="19.1" fill="#fff" stroke="#333" stroke-width="0.8"/>
<rect x="608.1" y="533" width="3.6" height="3.6" fill="#000"/>
<text x="619.4" y="536.98" font-size="6.6" text-anchor="start" fill="#222">Older granite</text>
<text x="619.4" y="545.78" font-size="6.6" text-anchor="start" fill="#222">Younger granite</text>
<circle cx="488.1" cy="538.4" r="7.6" fill="#fff" stroke="#111" stroke-width="1.0"/>
<text x="488.1" y="542.9" font-size="12.5" text-anchor="middle" fill="#111">l</text>
<rect x="28" y="706.8" width="194.6" height="144.2" fill="none" stroke="#3a3a3a" stroke-width="1.0"/>
<line x1="28" y1="851" x2="28" y2="854" stroke="#333" stroke-width="0.75" stroke-linecap="butt"/>
<line x1="28" y1="706.8" x2="28" y2="709.8" stroke="#333" stroke-width="0.75" stroke-linecap="butt"/>
<line x1="52.33" y1="851" x2="52.33" y2="854" stroke="#333" stroke-width="0.75" stroke-linecap="butt"/>
<line x1="52.33" y1="706.8" x2="52.33" y2="709.8" stroke="#333" stroke-width="0.75" stroke-linecap="butt"/>
<line x1="76.65" y1="851" x2="76.65" y2="854" stroke="#333" stroke-width="0.75" stroke-linecap="butt"/>
<line x1="76.65" y1="706.8" x2="76.65" y2="709.8" stroke="#333" stroke-width="0.75" stroke-linecap="butt"/>
<line x1="100.97" y1="851" x2="100.97" y2="854" stroke="#333" stroke-width="0.75" stroke-linecap="butt"/>
<line x1="100.97" y1="706.8" x2="100.97" y2="709.8" stroke="#333" stroke-width="0.75" stroke-linecap="butt"/>
<line x1="125.3" y1="851" x2="125.3" y2="854" stroke="#333" stroke-width="0.75" stroke-linecap="butt"/>
<line x1="125.3" y1="706.8" x2="125.3" y2="709.8" stroke="#333" stroke-width="0.75" stroke-linecap="butt"/>
<line x1="149.62" y1="851" x2="149.62" y2="854" stroke="#333" stroke-width="0.75" stroke-linecap="butt"/>
<line x1="149.62" y1="706.8" x2="149.62" y2="709.8" stroke="#333" stroke-width="0.75" stroke-linecap="butt"/>
<line x1="173.95" y1="851" x2="173.95" y2="854" stroke="#333" stroke-width="0.75" stroke-linecap="butt"/>
<line x1="173.95" y1="706.8" x2="173.95" y2="709.8" stroke="#333" stroke-width="0.75" stroke-linecap="butt"/>
<line x1="198.28" y1="851" x2="198.28" y2="854" stroke="#333" stroke-width="0.75" stroke-linecap="butt"/>
<line x1="198.28" y1="706.8" x2="198.28" y2="709.8" stroke="#333" stroke-width="0.75" stroke-linecap="butt"/>
<line x1="222.6" y1="851" x2="222.6" y2="854" stroke="#333" stroke-width="0.75" stroke-linecap="butt"/>
<line x1="222.6" y1="706.8" x2="222.6" y2="709.8" stroke="#333" stroke-width="0.75" stroke-linecap="butt"/>
<line x1="40.16" y1="851" x2="40.16" y2="852.8" stroke="#333" stroke-width="0.75" stroke-linecap="butt"/>
<line x1="40.16" y1="706.8" x2="40.16" y2="708.6" stroke="#333" stroke-width="0.75" stroke-linecap="butt"/>
<line x1="64.49" y1="851" x2="64.49" y2="852.8" stroke="#333" stroke-width="0.75" stroke-linecap="butt"/>
<line x1="64.49" y1="706.8" x2="64.49" y2="708.6" stroke="#333" stroke-width="0.75" stroke-linecap="butt"/>
<line x1="88.81" y1="851" x2="88.81" y2="852.8" stroke="#333" stroke-width="0.75" stroke-linecap="butt"/>
<line x1="88.81" y1="706.8" x2="88.81" y2="708.6" stroke="#333" stroke-width="0.75" stroke-linecap="butt"/>
<line x1="113.14" y1="851" x2="113.14" y2="852.8" stroke="#333" stroke-width="0.75" stroke-linecap="butt"/>
<line x1="113.14" y1="706.8" x2="113.14" y2="708.6" stroke="#333" stroke-width="0.75" stroke-linecap="butt"/>
<line x1="137.46" y1="851" x2="137.46" y2="852.8" stroke="#333" stroke-width="0.75" stroke-linecap="butt"/>
<line x1="137.46" y1="706.8" x2="137.46" y2="708.6" stroke="#333" stroke-width="0.75" stroke-linecap="butt"/>
<line x1="161.79" y1="851" x2="161.79" y2="852.8" stroke="#333" stroke-width="0.75" stroke-linecap="butt"/>
<line x1="161.79" y1="706.8" x2="161.79" y2="708.6" stroke="#333" stroke-width="0.75" stroke-linecap="butt"/>
<line x1="186.11" y1="851" x2="186.11" y2="852.8" stroke="#333" stroke-width="0.75" stroke-linecap="butt"/>
<line x1="186.11" y1="706.8" x2="186.11" y2="708.6" stroke="#333" stroke-width="0.75" stroke-linecap="butt"/>
<line x1="210.44" y1="851" x2="210.44" y2="852.8" stroke="#333" stroke-width="0.75" stroke-linecap="butt"/>
<line x1="210.44" y1="706.8" x2="210.44" y2="708.6" stroke="#333" stroke-width="0.75" stroke-linecap="butt"/>
<line x1="25" y1="851" x2="28" y2="851" stroke="#333" stroke-width="0.75" stroke-linecap="butt"/>
<line x1="219.6" y1="851" x2="222.6" y2="851" stroke="#333" stroke-width="0.75" stroke-linecap="butt"/>
<line x1="25" y1="832.98" x2="28" y2="832.98" stroke="#333" stroke-width="0.75" stroke-linecap="butt"/>
<line x1="219.6" y1="832.98" x2="222.6" y2="832.98" stroke="#333" stroke-width="0.75" stroke-linecap="butt"/>
<line x1="25" y1="814.95" x2="28" y2="814.95" stroke="#333" stroke-width="0.75" stroke-linecap="butt"/>
<line x1="219.6" y1="814.95" x2="222.6" y2="814.95" stroke="#333" stroke-width="0.75" stroke-linecap="butt"/>
<line x1="25" y1="796.92" x2="28" y2="796.92" stroke="#333" stroke-width="0.75" stroke-linecap="butt"/>
<line x1="219.6" y1="796.92" x2="222.6" y2="796.92" stroke="#333" stroke-width="0.75" stroke-linecap="butt"/>
<line x1="25" y1="778.9" x2="28" y2="778.9" stroke="#333" stroke-width="0.75" stroke-linecap="butt"/>
<line x1="219.6" y1="778.9" x2="222.6" y2="778.9" stroke="#333" stroke-width="0.75" stroke-linecap="butt"/>
<line x1="25" y1="760.88" x2="28" y2="760.88" stroke="#333" stroke-width="0.75" stroke-linecap="butt"/>
<line x1="219.6" y1="760.88" x2="222.6" y2="760.88" stroke="#333" stroke-width="0.75" stroke-linecap="butt"/>
<line x1="25" y1="742.85" x2="28" y2="742.85" stroke="#333" stroke-width="0.75" stroke-linecap="butt"/>
<line x1="219.6" y1="742.85" x2="222.6" y2="742.85" stroke="#333" stroke-width="0.75" stroke-linecap="butt"/>
<line x1="25" y1="724.82" x2="28" y2="724.82" stroke="#333" stroke-width="0.75" stroke-linecap="butt"/>
<line x1="219.6" y1="724.82" x2="222.6" y2="724.82" stroke="#333" stroke-width="0.75" stroke-linecap="butt"/>
<line x1="25" y1="706.8" x2="28" y2="706.8" stroke="#333" stroke-width="0.75" stroke-linecap="butt"/>
<line x1="219.6" y1="706.8" x2="222.6" y2="706.8" stroke="#333" stroke-width="0.75" stroke-linecap="butt"/>
<line x1="26.2" y1="841.99" x2="28" y2="841.99" stroke="#333" stroke-width="0.75" stroke-linecap="butt"/>
<line x1="220.8" y1="841.99" x2="222.6" y2="841.99" stroke="#333" stroke-width="0.75" stroke-linecap="butt"/>
<line x1="26.2" y1="823.96" x2="28" y2="823.96" stroke="#333" stroke-width="0.75" stroke-linecap="butt"/>
<line x1="220.8" y1="823.96" x2="222.6" y2="823.96" stroke="#333" stroke-width="0.75" stroke-linecap="butt"/>
<line x1="26.2" y1="805.94" x2="28" y2="805.94" stroke="#333" stroke-width="0.75" stroke-linecap="butt"/>
<line x1="220.8" y1="805.94" x2="222.6" y2="805.94" stroke="#333" stroke-width="0.75" stroke-linecap="butt"/>
<line x1="26.2" y1="787.91" x2="28" y2="787.91" stroke="#333" stroke-width="0.75" stroke-linecap="butt"/>
<line x1="220.8" y1="787.91" x2="222.6" y2="787.91" stroke="#333" stroke-width="0.75" stroke-linecap="butt"/>
<line x1="26.2" y1="769.89" x2="28" y2="769.89" stroke="#333" stroke-width="0.75" stroke-linecap="butt"/>
<line x1="220.8" y1="769.89" x2="222.6" y2="769.89" stroke="#333" stroke-width="0.75" stroke-linecap="butt"/>
<line x1="26.2" y1="751.86" x2="28" y2="751.86" stroke="#333" stroke-width="0.75" stroke-linecap="butt"/>
<line x1="220.8" y1="751.86" x2="222.6" y2="751.86" stroke="#333" stroke-width="0.75" stroke-linecap="butt"/>
<line x1="26.2" y1="733.84" x2="28" y2="733.84" stroke="#333" stroke-width="0.75" stroke-linecap="butt"/>
<line x1="220.8" y1="733.84" x2="222.6" y2="733.84" stroke="#333" stroke-width="0.75" stroke-linecap="butt"/>
<line x1="26.2" y1="715.81" x2="28" y2="715.81" stroke="#333" stroke-width="0.75" stroke-linecap="butt"/>
<line x1="220.8" y1="715.81" x2="222.6" y2="715.81" stroke="#333" stroke-width="0.75" stroke-linecap="butt"/>
<text x="28" y="859.58" font-size="5.8" text-anchor="middle" fill="#222">0</text>
<text x="52.33" y="859.58" font-size="5.8" text-anchor="middle" fill="#222">1</text>
<text x="76.65" y="859.58" font-size="5.8" text-anchor="middle" fill="#222">2</text>
<text x="100.97" y="859.58" font-size="5.8" text-anchor="middle" fill="#222">3</text>
<text x="125.3" y="859.58" font-size="5.8" text-anchor="middle" fill="#222">4</text>
<text x="149.62" y="859.58" font-size="5.8" text-anchor="middle" fill="#222">5</text>
<text x="173.95" y="859.58" font-size="5.8" text-anchor="middle" fill="#222">6</text>
<text x="198.28" y="859.58" font-size="5.8" text-anchor="middle" fill="#222">7</text>
<text x="222.6" y="859.58" font-size="5.8" text-anchor="middle" fill="#222">8</text>
<text x="24" y="853.08" font-size="5.8" text-anchor="end" fill="#222">0</text>
<text x="24" y="835.05" font-size="5.8" text-anchor="end" fill="#222">1</text>
<text x="24" y="817.03" font-size="5.8" text-anchor="end" fill="#222">2</text>
<text x="24" y="799" font-size="5.8" text-anchor="end" fill="#222">3</text>
<text x="24" y="780.98" font-size="5.8" text-anchor="end" fill="#222">4</text>
<text x="24" y="762.95" font-size="5.8" text-anchor="end" fill="#222">5</text>
<text x="24" y="744.93" font-size="5.8" text-anchor="end" fill="#222">6</text>
<text x="24" y="726.9" font-size="5.8" text-anchor="end" fill="#222">7</text>
<text x="24" y="708.88" font-size="5.8" text-anchor="end" fill="#222">8</text>
<text x="13.1" y="786.51" font-size="7.0" text-anchor="middle" fill="#222" transform="rotate(-90 13.1 784.2)">Na<tspan font-size="70%" baseline-shift="-40%">2</tspan>O (wt%)</text>
<text x="120.6" y="868.68" font-size="7.2" text-anchor="middle" fill="#222">K<tspan font-size="70%" baseline-shift="-40%">2</tspan>O (wt%)</text>
<line x1="28" y1="851" x2="222.6" y2="760.6" stroke="#333" stroke-width="0.7" stroke-linecap="butt"/>
<rect x="98.5" y="764.8" width="2.8" height="2.8" fill="#000"/>
<rect x="101.1" y="763.1" width="2.8" height="2.8" fill="#000"/>
<rect x="103.4" y="761.3" width="2.8" height="2.8" fill="#000"/>
<rect x="104.9" y="760.6" width="2.8" height="2.8" fill="#000"/>
<rect x="116.1" y="760.8" width="2.8" height="2.8" fill="#000"/>
<rect x="117.8" y="761.6" width="2.8" height="2.8" fill="#000"/>
<rect x="119" y="762.4" width="2.8" height="2.8" fill="#000"/>
<circle cx="104.1" cy="773.2" r="1.6" fill="#f00" stroke="none" stroke-width="0"/>
<circle cx="106.8" cy="773.2" r="1.6" fill="#f00" stroke="none" stroke-width="0"/>
<circle cx="120.2" cy="776.3" r="1.6" fill="#f00" stroke="none" stroke-width="0"/>
<circle cx="123.6" cy="773.2" r="1.6" fill="#f00" stroke="none" stroke-width="0"/>
<circle cx="128.3" cy="772.9" r="1.6" fill="#f00" stroke="none" stroke-width="0"/>
<circle cx="129.6" cy="765.5" r="1.6" fill="#f00" stroke="none" stroke-width="0"/>
<circle cx="131" cy="763.4" r="1.6" fill="#f00" stroke="none" stroke-width="0"/>
<circle cx="134.3" cy="764.5" r="1.6" fill="#f00" stroke="none" stroke-width="0"/>
<text x="110.8" y="749.88" font-size="6.6" text-anchor="middle" fill="#222">I-type</text>
<text x="174.6" y="811.98" font-size="6.6" text-anchor="middle" fill="#222">S-type</text>
<rect x="146.7" y="707.4" width="73.9" height="21.2" fill="#fff" stroke="#333" stroke-width="0.8"/>
<rect x="153.3" y="712.3" width="3.6" height="3.6" fill="#000"/>
<circle cx="155.1" cy="722.5" r="1.98" fill="#f00" stroke="none" stroke-width="0"/>
<text x="164.5" y="716.34" font-size="6.8" text-anchor="start" fill="#222">Older granite</text>
<text x="164.5" y="724.74" font-size="6.8" text-anchor="start" fill="#222">Younger granite</text>
<circle cx="35.9" cy="714.5" r="7.6" fill="#fff" stroke="#111" stroke-width="1.0"/>
<text x="35.9" y="717.75" font-size="12.5" text-anchor="middle" fill="#111">m</text>
<rect x="254.2" y="706.7" width="194.5" height="144.6" fill="none" stroke="#3a3a3a" stroke-width="1.0"/>
<line x1="254.2" y1="851.3" x2="254.2" y2="854.3" stroke="#333" stroke-width="0.75" stroke-linecap="butt"/>
<line x1="254.2" y1="706.7" x2="254.2" y2="709.7" stroke="#333" stroke-width="0.75" stroke-linecap="butt"/>
<line x1="319.03" y1="851.3" x2="319.03" y2="854.3" stroke="#333" stroke-width="0.75" stroke-linecap="butt"/>
<line x1="319.03" y1="706.7" x2="319.03" y2="709.7" stroke="#333" stroke-width="0.75" stroke-linecap="butt"/>
<line x1="383.87" y1="851.3" x2="383.87" y2="854.3" stroke="#333" stroke-width="0.75" stroke-linecap="butt"/>
<line x1="383.87" y1="706.7" x2="383.87" y2="709.7" stroke="#333" stroke-width="0.75" stroke-linecap="butt"/>
<line x1="448.7" y1="851.3" x2="448.7" y2="854.3" stroke="#333" stroke-width="0.75" stroke-linecap="butt"/>
<line x1="448.7" y1="706.7" x2="448.7" y2="709.7" stroke="#333" stroke-width="0.75" stroke-linecap="butt"/>
<line x1="273.72" y1="851.3" x2="273.72" y2="853.1" stroke="#333" stroke-width="0.75" stroke-linecap="butt"/>
<line x1="273.72" y1="706.7" x2="273.72" y2="708.5" stroke="#333" stroke-width="0.75" stroke-linecap="butt"/>
<line x1="285.13" y1="851.3" x2="285.13" y2="853.1" stroke="#333" stroke-width="0.75" stroke-linecap="butt"/>
<line x1="285.13" y1="706.7" x2="285.13" y2="708.5" stroke="#333" stroke-width="0.75" stroke-linecap="butt"/>
<line x1="293.23" y1="851.3" x2="293.23" y2="853.1" stroke="#333" stroke-width="0.75" stroke-linecap="butt"/>
<line x1="293.23" y1="706.7" x2="293.23" y2="708.5" stroke="#333" stroke-width="0.75" stroke-linecap="butt"/>
<line x1="299.52" y1="851.3" x2="299.52" y2="853.1" stroke="#333" stroke-width="0.75" stroke-linecap="butt"/>
<line x1="299.52" y1="706.7" x2="299.52" y2="708.5" stroke="#333" stroke-width="0.75" stroke-linecap="butt"/>
<line x1="304.65" y1="851.3" x2="304.65" y2="853.1" stroke="#333" stroke-width="0.75" stroke-linecap="butt"/>
<line x1="304.65" y1="706.7" x2="304.65" y2="708.5" stroke="#333" stroke-width="0.75" stroke-linecap="butt"/>
<line x1="308.99" y1="851.3" x2="308.99" y2="853.1" stroke="#333" stroke-width="0.75" stroke-linecap="butt"/>
<line x1="308.99" y1="706.7" x2="308.99" y2="708.5" stroke="#333" stroke-width="0.75" stroke-linecap="butt"/>
<line x1="312.75" y1="851.3" x2="312.75" y2="853.1" stroke="#333" stroke-width="0.75" stroke-linecap="butt"/>
<line x1="312.75" y1="706.7" x2="312.75" y2="708.5" stroke="#333" stroke-width="0.75" stroke-linecap="butt"/>
<line x1="316.07" y1="851.3" x2="316.07" y2="853.1" stroke="#333" stroke-width="0.75" stroke-linecap="butt"/>
<line x1="316.07" y1="706.7" x2="316.07" y2="708.5" stroke="#333" stroke-width="0.75" stroke-linecap="butt"/>
<line x1="338.55" y1="851.3" x2="338.55" y2="853.1" stroke="#333" stroke-width="0.75" stroke-linecap="butt"/>
<line x1="338.55" y1="706.7" x2="338.55" y2="708.5" stroke="#333" stroke-width="0.75" stroke-linecap="butt"/>
<line x1="349.97" y1="851.3" x2="349.97" y2="853.1" stroke="#333" stroke-width="0.75" stroke-linecap="butt"/>
<line x1="349.97" y1="706.7" x2="349.97" y2="708.5" stroke="#333" stroke-width="0.75" stroke-linecap="butt"/>
<line x1="358.07" y1="851.3" x2="358.07" y2="853.1" stroke="#333" stroke-width="0.75" stroke-linecap="butt"/>
<line x1="358.07" y1="706.7" x2="358.07" y2="708.5" stroke="#333" stroke-width="0.75" stroke-linecap="butt"/>
<line x1="364.35" y1="851.3" x2="364.35" y2="853.1" stroke="#333" stroke-width="0.75" stroke-linecap="butt"/>
<line x1="364.35" y1="706.7" x2="364.35" y2="708.5" stroke="#333" stroke-width="0.75" stroke-linecap="butt"/>
<line x1="369.48" y1="851.3" x2="369.48" y2="853.1" stroke="#333" stroke-width="0.75" stroke-linecap="butt"/>
<line x1="369.48" y1="706.7" x2="369.48" y2="708.5" stroke="#333" stroke-width="0.75" stroke-linecap="butt"/>
<line x1="373.82" y1="851.3" x2="373.82" y2="853.1" stroke="#333" stroke-width="0.75" stroke-linecap="butt"/>
<line x1="373.82" y1="706.7" x2="373.82" y2="708.5" stroke="#333" stroke-width="0.75" stroke-linecap="butt"/>
<line x1="377.58" y1="851.3" x2="377.58" y2="853.1" stroke="#333" stroke-width="0.75" stroke-linecap="butt"/>
<line x1="377.58" y1="706.7" x2="377.58" y2="708.5" stroke="#333" stroke-width="0.75" stroke-linecap="butt"/>
<line x1="380.9" y1="851.3" x2="380.9" y2="853.1" stroke="#333" stroke-width="0.75" stroke-linecap="butt"/>
<line x1="380.9" y1="706.7" x2="380.9" y2="708.5" stroke="#333" stroke-width="0.75" stroke-linecap="butt"/>
<line x1="403.38" y1="851.3" x2="403.38" y2="853.1" stroke="#333" stroke-width="0.75" stroke-linecap="butt"/>
<line x1="403.38" y1="706.7" x2="403.38" y2="708.5" stroke="#333" stroke-width="0.75" stroke-linecap="butt"/>
<line x1="414.8" y1="851.3" x2="414.8" y2="853.1" stroke="#333" stroke-width="0.75" stroke-linecap="butt"/>
<line x1="414.8" y1="706.7" x2="414.8" y2="708.5" stroke="#333" stroke-width="0.75" stroke-linecap="butt"/>
<line x1="422.9" y1="851.3" x2="422.9" y2="853.1" stroke="#333" stroke-width="0.75" stroke-linecap="butt"/>
<line x1="422.9" y1="706.7" x2="422.9" y2="708.5" stroke="#333" stroke-width="0.75" stroke-linecap="butt"/>
<line x1="429.18" y1="851.3" x2="429.18" y2="853.1" stroke="#333" stroke-width="0.75" stroke-linecap="butt"/>
<line x1="429.18" y1="706.7" x2="429.18" y2="708.5" stroke="#333" stroke-width="0.75" stroke-linecap="butt"/>
<line x1="434.32" y1="851.3" x2="434.32" y2="853.1" stroke="#333" stroke-width="0.75" stroke-linecap="butt"/>
<line x1="434.32" y1="706.7" x2="434.32" y2="708.5" stroke="#333" stroke-width="0.75" stroke-linecap="butt"/>
<line x1="438.66" y1="851.3" x2="438.66" y2="853.1" stroke="#333" stroke-width="0.75" stroke-linecap="butt"/>
<line x1="438.66" y1="706.7" x2="438.66" y2="708.5" stroke="#333" stroke-width="0.75" stroke-linecap="butt"/>
<line x1="442.42" y1="851.3" x2="442.42" y2="853.1" stroke="#333" stroke-width="0.75" stroke-linecap="butt"/>
<line x1="442.42" y1="706.7" x2="442.42" y2="708.5" stroke="#333" stroke-width="0.75" stroke-linecap="butt"/>
<line x1="445.73" y1="851.3" x2="445.73" y2="853.1" stroke="#333" stroke-width="0.75" stroke-linecap="butt"/>
<line x1="445.73" y1="706.7" x2="445.73" y2="708.5" stroke="#333" stroke-width="0.75" stroke-linecap="butt"/>
<line x1="251.2" y1="851.3" x2="254.2" y2="851.3" stroke="#333" stroke-width="0.75" stroke-linecap="butt"/>
<line x1="445.7" y1="851.3" x2="448.7" y2="851.3" stroke="#333" stroke-width="0.75" stroke-linecap="butt"/>
<line x1="251.2" y1="803.1" x2="254.2" y2="803.1" stroke="#333" stroke-width="0.75" stroke-linecap="butt"/>
<line x1="445.7" y1="803.1" x2="448.7" y2="803.1" stroke="#333" stroke-width="0.75" stroke-linecap="butt"/>
<line x1="251.2" y1="754.9" x2="254.2" y2="754.9" stroke="#333" stroke-width="0.75" stroke-linecap="butt"/>
<line x1="445.7" y1="754.9" x2="448.7" y2="754.9" stroke="#333" stroke-width="0.75" stroke-linecap="butt"/>
<line x1="251.2" y1="706.7" x2="254.2" y2="706.7" stroke="#333" stroke-width="0.75" stroke-linecap="butt"/>
<line x1="445.7" y1="706.7" x2="448.7" y2="706.7" stroke="#333" stroke-width="0.75" stroke-linecap="butt"/>
<line x1="252.4" y1="836.79" x2="254.2" y2="836.79" stroke="#333" stroke-width="0.75" stroke-linecap="butt"/>
<line x1="446.9" y1="836.79" x2="448.7" y2="836.79" stroke="#333" stroke-width="0.75" stroke-linecap="butt"/>
<line x1="252.4" y1="828.3" x2="254.2" y2="828.3" stroke="#333" stroke-width="0.75" stroke-linecap="butt"/>
<line x1="446.9" y1="828.3" x2="448.7" y2="828.3" stroke="#333" stroke-width="0.75" stroke-linecap="butt"/>
<line x1="252.4" y1="822.28" x2="254.2" y2="822.28" stroke="#333" stroke-width="0.75" stroke-linecap="butt"/>
<line x1="446.9" y1="822.28" x2="448.7" y2="822.28" stroke="#333" stroke-width="0.75" stroke-linecap="butt"/>
<line x1="252.4" y1="817.61" x2="254.2" y2="817.61" stroke="#333" stroke-width="0.75" stroke-linecap="butt"/>
<line x1="446.9" y1="817.61" x2="448.7" y2="817.61" stroke="#333" stroke-width="0.75" stroke-linecap="butt"/>
<line x1="252.4" y1="813.79" x2="254.2" y2="813.79" stroke="#333" stroke-width="0.75" stroke-linecap="butt"/>
<line x1="446.9" y1="813.79" x2="448.7" y2="813.79" stroke="#333" stroke-width="0.75" stroke-linecap="butt"/>
<line x1="252.4" y1="810.57" x2="254.2" y2="810.57" stroke="#333" stroke-width="0.75" stroke-linecap="butt"/>
<line x1="446.9" y1="810.57" x2="448.7" y2="810.57" stroke="#333" stroke-width="0.75" stroke-linecap="butt"/>
<line x1="252.4" y1="807.77" x2="254.2" y2="807.77" stroke="#333" stroke-width="0.75" stroke-linecap="butt"/>
<line x1="446.9" y1="807.77" x2="448.7" y2="807.77" stroke="#333" stroke-width="0.75" stroke-linecap="butt"/>
<line x1="252.4" y1="805.31" x2="254.2" y2="805.31" stroke="#333" stroke-width="0.75" stroke-linecap="butt"/>
<line x1="446.9" y1="805.31" x2="448.7" y2="805.31" stroke="#333" stroke-width="0.75" stroke-linecap="butt"/>
<line x1="252.4" y1="788.59" x2="254.2" y2="788.59" stroke="#333" stroke-width="0.75" stroke-linecap="butt"/>
<line x1="446.9" y1="788.59" x2="448.7" y2="788.59" stroke="#333" stroke-width="0.75" stroke-linecap="butt"/>
<line x1="252.4" y1="780.1" x2="254.2" y2="780.1" stroke="#333" stroke-width="0.75" stroke-linecap="butt"/>
<line x1="446.9" y1="780.1" x2="448.7" y2="780.1" stroke="#333" stroke-width="0.75" stroke-linecap="butt"/>
<line x1="252.4" y1="774.08" x2="254.2" y2="774.08" stroke="#333" stroke-width="0.75" stroke-linecap="butt"/>
<line x1="446.9" y1="774.08" x2="448.7" y2="774.08" stroke="#333" stroke-width="0.75" stroke-linecap="butt"/>
<line x1="252.4" y1="769.41" x2="254.2" y2="769.41" stroke="#333" stroke-width="0.75" stroke-linecap="butt"/>
<line x1="446.9" y1="769.41" x2="448.7" y2="769.41" stroke="#333" stroke-width="0.75" stroke-linecap="butt"/>
<line x1="252.4" y1="765.59" x2="254.2" y2="765.59" stroke="#333" stroke-width="0.75" stroke-linecap="butt"/>
<line x1="446.9" y1="765.59" x2="448.7" y2="765.59" stroke="#333" stroke-width="0.75" stroke-linecap="butt"/>
<line x1="252.4" y1="762.37" x2="254.2" y2="762.37" stroke="#333" stroke-width="0.75" stroke-linecap="butt"/>
<line x1="446.9" y1="762.37" x2="448.7" y2="762.37" stroke="#333" stroke-width="0.75" stroke-linecap="butt"/>
<line x1="252.4" y1="759.57" x2="254.2" y2="759.57" stroke="#333" stroke-width="0.75" stroke-linecap="butt"/>
<line x1="446.9" y1="759.57" x2="448.7" y2="759.57" stroke="#333" stroke-width="0.75" stroke-linecap="butt"/>
<line x1="252.4" y1="757.11" x2="254.2" y2="757.11" stroke="#333" stroke-width="0.75" stroke-linecap="butt"/>
<line x1="446.9" y1="757.11" x2="448.7" y2="757.11" stroke="#333" stroke-width="0.75" stroke-linecap="butt"/>
<line x1="252.4" y1="740.39" x2="254.2" y2="740.39" stroke="#333" stroke-width="0.75" stroke-linecap="butt"/>
<line x1="446.9" y1="740.39" x2="448.7" y2="740.39" stroke="#333" stroke-width="0.75" stroke-linecap="butt"/>
<line x1="252.4" y1="731.9" x2="254.2" y2="731.9" stroke="#333" stroke-width="0.75" stroke-linecap="butt"/>
<line x1="446.9" y1="731.9" x2="448.7" y2="731.9" stroke="#333" stroke-width="0.75" stroke-linecap="butt"/>
<line x1="252.4" y1="725.88" x2="254.2" y2="725.88" stroke="#333" stroke-width="0.75" stroke-linecap="butt"/>
<line x1="446.9" y1="725.88" x2="448.7" y2="725.88" stroke="#333" stroke-width="0.75" stroke-linecap="butt"/>
<line x1="252.4" y1="721.21" x2="254.2" y2="721.21" stroke="#333" stroke-width="0.75" stroke-linecap="butt"/>
<line x1="446.9" y1="721.21" x2="448.7" y2="721.21" stroke="#333" stroke-width="0.75" stroke-linecap="butt"/>
<line x1="252.4" y1="717.39" x2="254.2" y2="717.39" stroke="#333" stroke-width="0.75" stroke-linecap="butt"/>
<line x1="446.9" y1="717.39" x2="448.7" y2="717.39" stroke="#333" stroke-width="0.75" stroke-linecap="butt"/>
<line x1="252.4" y1="714.17" x2="254.2" y2="714.17" stroke="#333" stroke-width="0.75" stroke-linecap="butt"/>
<line x1="446.9" y1="714.17" x2="448.7" y2="714.17" stroke="#333" stroke-width="0.75" stroke-linecap="butt"/>
<line x1="252.4" y1="711.37" x2="254.2" y2="711.37" stroke="#333" stroke-width="0.75" stroke-linecap="butt"/>
<line x1="446.9" y1="711.37" x2="448.7" y2="711.37" stroke="#333" stroke-width="0.75" stroke-linecap="butt"/>
<line x1="252.4" y1="708.91" x2="254.2" y2="708.91" stroke="#333" stroke-width="0.75" stroke-linecap="butt"/>
<line x1="446.9" y1="708.91" x2="448.7" y2="708.91" stroke="#333" stroke-width="0.75" stroke-linecap="butt"/>
<text x="254.2" y="860.5" font-size="5.6" text-anchor="middle" fill="#222">1</text>
<text x="251.2" y="853.3" font-size="5.6" text-anchor="end" fill="#222">1</text>
<text x="319.03" y="860.5" font-size="5.6" text-anchor="middle" fill="#222">10</text>
<text x="251.2" y="805.1" font-size="5.6" text-anchor="end" fill="#222">10</text>
<text x="383.87" y="860.5" font-size="5.6" text-anchor="middle" fill="#222">100</text>
<text x="251.2" y="756.9" font-size="5.6" text-anchor="end" fill="#222">100</text>
<text x="448.7" y="860.5" font-size="5.6" text-anchor="middle" fill="#222">1000</text>
<text x="251.2" y="708.7" font-size="5.6" text-anchor="end" fill="#222">1000</text>
<text x="230.1" y="785.61" font-size="7.3" text-anchor="middle" fill="#222" transform="rotate(-90 230.1 783.2)">Log Nb (ppm)</text>
<text x="352.1" y="872.24" font-size="7.4" text-anchor="middle" fill="#222">Log Y (ppm)</text>
<polyline points="278.4,743 364,800.1 448.7,754.2" fill="none" stroke="#333" stroke-width="0.7" stroke-linejoin="miter"/>
<line x1="364" y1="800.1" x2="357.3" y2="851.3" stroke="#333" stroke-width="0.7" stroke-linecap="butt"/>
<circle cx="349.2" cy="773" r="2.4" fill="#f00" stroke="none" stroke-width="0"/>
<circle cx="352.5" cy="773.8" r="2.3" fill="#f00" stroke="none" stroke-width="0"/>
<circle cx="355.5" cy="774.2" r="2.3" fill="#f00" stroke="none" stroke-width="0"/>
<circle cx="358.3" cy="773.6" r="2.4" fill="#f00" stroke="none" stroke-width="0"/>
<circle cx="359.6" cy="771.9" r="2.4" fill="#f00" stroke="none" stroke-width="0"/>
<circle cx="361.6" cy="774.3" r="2.5" fill="#f00" stroke="none" stroke-width="0"/>
<circle cx="362.4" cy="775.2" r="2.2" fill="#f00" stroke="none" stroke-width="0"/>
<polygon points="333,784.1 337.5,784.1 338.1,786 338.1,793.5 337.3,795.4 333.5,795.4 332.3,793.5 332.3,786" fill="#000" stroke="#000" stroke-width="0.3" stroke-linejoin="miter"/>
<text x="370.7" y="749.38" font-size="7.2" text-anchor="middle" fill="#222">WPG</text>
<text x="300.2" y="796.44" font-size="7.1" text-anchor="middle" fill="#222">VAG+Syn-COLG</text>
<text x="415.4" y="799.74" font-size="7.1" text-anchor="middle" fill="#222">ORG</text>
<text x="256.3" y="826.5" font-size="5.75" text-anchor="start" fill="#222">WPG, within plate granites:</text>
<text x="256.3" y="833.9" font-size="5.75" text-anchor="start" fill="#222">VAG, volcanic arc granites;</text>
<text x="256.3" y="840.9" font-size="5.75" text-anchor="start" fill="#222">COL, collision granites;</text>
<text x="256.3" y="848" font-size="5.75" text-anchor="start" fill="#222">ORG, ocean ridge granites.</text>
<rect x="374.1" y="707.4" width="74.6" height="22.2" fill="#fff" stroke="#333" stroke-width="0.8"/>
<rect x="380.6" y="713.2" width="3.8" height="3.8" fill="#000"/>
<circle cx="382.5" cy="723.2" r="2.09" fill="#f00" stroke="none" stroke-width="0"/>
<text x="392.5" y="717.34" font-size="6.8" text-anchor="start" fill="#222">Older granite</text>
<text x="392.5" y="725.44" font-size="6.8" text-anchor="start" fill="#222">Younger granite</text>
<circle cx="262.6" cy="715.1" r="7.6" fill="#fff" stroke="#111" stroke-width="1.0"/>
<text x="262.6" y="718.35" font-size="12.5" text-anchor="middle" fill="#111">n</text>
<rect x="480.8" y="706.8" width="194" height="144" fill="none" stroke="#3a3a3a" stroke-width="1.0"/>
<line x1="480.8" y1="850.8" x2="480.8" y2="853.8" stroke="#333" stroke-width="0.75" stroke-linecap="butt"/>
<line x1="480.8" y1="706.8" x2="480.8" y2="709.8" stroke="#333" stroke-width="0.75" stroke-linecap="butt"/>
<line x1="545.47" y1="850.8" x2="545.47" y2="853.8" stroke="#333" stroke-width="0.75" stroke-linecap="butt"/>
<line x1="545.47" y1="706.8" x2="545.47" y2="709.8" stroke="#333" stroke-width="0.75" stroke-linecap="butt"/>
<line x1="610.13" y1="850.8" x2="610.13" y2="853.8" stroke="#333" stroke-width="0.75" stroke-linecap="butt"/>
<line x1="610.13" y1="706.8" x2="610.13" y2="709.8" stroke="#333" stroke-width="0.75" stroke-linecap="butt"/>
<line x1="674.8" y1="850.8" x2="674.8" y2="853.8" stroke="#333" stroke-width="0.75" stroke-linecap="butt"/>
<line x1="674.8" y1="706.8" x2="674.8" y2="709.8" stroke="#333" stroke-width="0.75" stroke-linecap="butt"/>
<line x1="500.27" y1="850.8" x2="500.27" y2="852.6" stroke="#333" stroke-width="0.75" stroke-linecap="butt"/>
<line x1="500.27" y1="706.8" x2="500.27" y2="708.6" stroke="#333" stroke-width="0.75" stroke-linecap="butt"/>
<line x1="511.65" y1="850.8" x2="511.65" y2="852.6" stroke="#333" stroke-width="0.75" stroke-linecap="butt"/>
<line x1="511.65" y1="706.8" x2="511.65" y2="708.6" stroke="#333" stroke-width="0.75" stroke-linecap="butt"/>
<line x1="519.73" y1="850.8" x2="519.73" y2="852.6" stroke="#333" stroke-width="0.75" stroke-linecap="butt"/>
<line x1="519.73" y1="706.8" x2="519.73" y2="708.6" stroke="#333" stroke-width="0.75" stroke-linecap="butt"/>
<line x1="526" y1="850.8" x2="526" y2="852.6" stroke="#333" stroke-width="0.75" stroke-linecap="butt"/>
<line x1="526" y1="706.8" x2="526" y2="708.6" stroke="#333" stroke-width="0.75" stroke-linecap="butt"/>
<line x1="531.12" y1="850.8" x2="531.12" y2="852.6" stroke="#333" stroke-width="0.75" stroke-linecap="butt"/>
<line x1="531.12" y1="706.8" x2="531.12" y2="708.6" stroke="#333" stroke-width="0.75" stroke-linecap="butt"/>
<line x1="535.45" y1="850.8" x2="535.45" y2="852.6" stroke="#333" stroke-width="0.75" stroke-linecap="butt"/>
<line x1="535.45" y1="706.8" x2="535.45" y2="708.6" stroke="#333" stroke-width="0.75" stroke-linecap="butt"/>
<line x1="539.2" y1="850.8" x2="539.2" y2="852.6" stroke="#333" stroke-width="0.75" stroke-linecap="butt"/>
<line x1="539.2" y1="706.8" x2="539.2" y2="708.6" stroke="#333" stroke-width="0.75" stroke-linecap="butt"/>
<line x1="542.51" y1="850.8" x2="542.51" y2="852.6" stroke="#333" stroke-width="0.75" stroke-linecap="butt"/>
<line x1="542.51" y1="706.8" x2="542.51" y2="708.6" stroke="#333" stroke-width="0.75" stroke-linecap="butt"/>
<line x1="564.93" y1="850.8" x2="564.93" y2="852.6" stroke="#333" stroke-width="0.75" stroke-linecap="butt"/>
<line x1="564.93" y1="706.8" x2="564.93" y2="708.6" stroke="#333" stroke-width="0.75" stroke-linecap="butt"/>
<line x1="576.32" y1="850.8" x2="576.32" y2="852.6" stroke="#333" stroke-width="0.75" stroke-linecap="butt"/>
<line x1="576.32" y1="706.8" x2="576.32" y2="708.6" stroke="#333" stroke-width="0.75" stroke-linecap="butt"/>
<line x1="584.4" y1="850.8" x2="584.4" y2="852.6" stroke="#333" stroke-width="0.75" stroke-linecap="butt"/>
<line x1="584.4" y1="706.8" x2="584.4" y2="708.6" stroke="#333" stroke-width="0.75" stroke-linecap="butt"/>
<line x1="590.67" y1="850.8" x2="590.67" y2="852.6" stroke="#333" stroke-width="0.75" stroke-linecap="butt"/>
<line x1="590.67" y1="706.8" x2="590.67" y2="708.6" stroke="#333" stroke-width="0.75" stroke-linecap="butt"/>
<line x1="595.79" y1="850.8" x2="595.79" y2="852.6" stroke="#333" stroke-width="0.75" stroke-linecap="butt"/>
<line x1="595.79" y1="706.8" x2="595.79" y2="708.6" stroke="#333" stroke-width="0.75" stroke-linecap="butt"/>
<line x1="600.12" y1="850.8" x2="600.12" y2="852.6" stroke="#333" stroke-width="0.75" stroke-linecap="butt"/>
<line x1="600.12" y1="706.8" x2="600.12" y2="708.6" stroke="#333" stroke-width="0.75" stroke-linecap="butt"/>
<line x1="603.87" y1="850.8" x2="603.87" y2="852.6" stroke="#333" stroke-width="0.75" stroke-linecap="butt"/>
<line x1="603.87" y1="706.8" x2="603.87" y2="708.6" stroke="#333" stroke-width="0.75" stroke-linecap="butt"/>
<line x1="607.17" y1="850.8" x2="607.17" y2="852.6" stroke="#333" stroke-width="0.75" stroke-linecap="butt"/>
<line x1="607.17" y1="706.8" x2="607.17" y2="708.6" stroke="#333" stroke-width="0.75" stroke-linecap="butt"/>
<line x1="629.6" y1="850.8" x2="629.6" y2="852.6" stroke="#333" stroke-width="0.75" stroke-linecap="butt"/>
<line x1="629.6" y1="706.8" x2="629.6" y2="708.6" stroke="#333" stroke-width="0.75" stroke-linecap="butt"/>
<line x1="640.99" y1="850.8" x2="640.99" y2="852.6" stroke="#333" stroke-width="0.75" stroke-linecap="butt"/>
<line x1="640.99" y1="706.8" x2="640.99" y2="708.6" stroke="#333" stroke-width="0.75" stroke-linecap="butt"/>
<line x1="649.07" y1="850.8" x2="649.07" y2="852.6" stroke="#333" stroke-width="0.75" stroke-linecap="butt"/>
<line x1="649.07" y1="706.8" x2="649.07" y2="708.6" stroke="#333" stroke-width="0.75" stroke-linecap="butt"/>
<line x1="655.33" y1="850.8" x2="655.33" y2="852.6" stroke="#333" stroke-width="0.75" stroke-linecap="butt"/>
<line x1="655.33" y1="706.8" x2="655.33" y2="708.6" stroke="#333" stroke-width="0.75" stroke-linecap="butt"/>
<line x1="660.45" y1="850.8" x2="660.45" y2="852.6" stroke="#333" stroke-width="0.75" stroke-linecap="butt"/>
<line x1="660.45" y1="706.8" x2="660.45" y2="708.6" stroke="#333" stroke-width="0.75" stroke-linecap="butt"/>
<line x1="664.78" y1="850.8" x2="664.78" y2="852.6" stroke="#333" stroke-width="0.75" stroke-linecap="butt"/>
<line x1="664.78" y1="706.8" x2="664.78" y2="708.6" stroke="#333" stroke-width="0.75" stroke-linecap="butt"/>
<line x1="668.53" y1="850.8" x2="668.53" y2="852.6" stroke="#333" stroke-width="0.75" stroke-linecap="butt"/>
<line x1="668.53" y1="706.8" x2="668.53" y2="708.6" stroke="#333" stroke-width="0.75" stroke-linecap="butt"/>
<line x1="671.84" y1="850.8" x2="671.84" y2="852.6" stroke="#333" stroke-width="0.75" stroke-linecap="butt"/>
<line x1="671.84" y1="706.8" x2="671.84" y2="708.6" stroke="#333" stroke-width="0.75" stroke-linecap="butt"/>
<line x1="477.8" y1="850.8" x2="480.8" y2="850.8" stroke="#333" stroke-width="0.75" stroke-linecap="butt"/>
<line x1="671.8" y1="850.8" x2="674.8" y2="850.8" stroke="#333" stroke-width="0.75" stroke-linecap="butt"/>
<line x1="477.8" y1="802.8" x2="480.8" y2="802.8" stroke="#333" stroke-width="0.75" stroke-linecap="butt"/>
<line x1="671.8" y1="802.8" x2="674.8" y2="802.8" stroke="#333" stroke-width="0.75" stroke-linecap="butt"/>
<line x1="477.8" y1="754.8" x2="480.8" y2="754.8" stroke="#333" stroke-width="0.75" stroke-linecap="butt"/>
<line x1="671.8" y1="754.8" x2="674.8" y2="754.8" stroke="#333" stroke-width="0.75" stroke-linecap="butt"/>
<line x1="477.8" y1="706.8" x2="480.8" y2="706.8" stroke="#333" stroke-width="0.75" stroke-linecap="butt"/>
<line x1="671.8" y1="706.8" x2="674.8" y2="706.8" stroke="#333" stroke-width="0.75" stroke-linecap="butt"/>
<line x1="479" y1="836.35" x2="480.8" y2="836.35" stroke="#333" stroke-width="0.75" stroke-linecap="butt"/>
<line x1="673" y1="836.35" x2="674.8" y2="836.35" stroke="#333" stroke-width="0.75" stroke-linecap="butt"/>
<line x1="479" y1="827.9" x2="480.8" y2="827.9" stroke="#333" stroke-width="0.75" stroke-linecap="butt"/>
<line x1="673" y1="827.9" x2="674.8" y2="827.9" stroke="#333" stroke-width="0.75" stroke-linecap="butt"/>
<line x1="479" y1="821.9" x2="480.8" y2="821.9" stroke="#333" stroke-width="0.75" stroke-linecap="butt"/>
<line x1="673" y1="821.9" x2="674.8" y2="821.9" stroke="#333" stroke-width="0.75" stroke-linecap="butt"/>
<line x1="479" y1="817.25" x2="480.8" y2="817.25" stroke="#333" stroke-width="0.75" stroke-linecap="butt"/>
<line x1="673" y1="817.25" x2="674.8" y2="817.25" stroke="#333" stroke-width="0.75" stroke-linecap="butt"/>
<line x1="479" y1="813.45" x2="480.8" y2="813.45" stroke="#333" stroke-width="0.75" stroke-linecap="butt"/>
<line x1="673" y1="813.45" x2="674.8" y2="813.45" stroke="#333" stroke-width="0.75" stroke-linecap="butt"/>
<line x1="479" y1="810.24" x2="480.8" y2="810.24" stroke="#333" stroke-width="0.75" stroke-linecap="butt"/>
<line x1="673" y1="810.24" x2="674.8" y2="810.24" stroke="#333" stroke-width="0.75" stroke-linecap="butt"/>
<line x1="479" y1="807.45" x2="480.8" y2="807.45" stroke="#333" stroke-width="0.75" stroke-linecap="butt"/>
<line x1="673" y1="807.45" x2="674.8" y2="807.45" stroke="#333" stroke-width="0.75" stroke-linecap="butt"/>
<line x1="479" y1="805" x2="480.8" y2="805" stroke="#333" stroke-width="0.75" stroke-linecap="butt"/>
<line x1="673" y1="805" x2="674.8" y2="805" stroke="#333" stroke-width="0.75" stroke-linecap="butt"/>
<line x1="479" y1="788.35" x2="480.8" y2="788.35" stroke="#333" stroke-width="0.75" stroke-linecap="butt"/>
<line x1="673" y1="788.35" x2="674.8" y2="788.35" stroke="#333" stroke-width="0.75" stroke-linecap="butt"/>
<line x1="479" y1="779.9" x2="480.8" y2="779.9" stroke="#333" stroke-width="0.75" stroke-linecap="butt"/>
<line x1="673" y1="779.9" x2="674.8" y2="779.9" stroke="#333" stroke-width="0.75" stroke-linecap="butt"/>
<line x1="479" y1="773.9" x2="480.8" y2="773.9" stroke="#333" stroke-width="0.75" stroke-linecap="butt"/>
<line x1="673" y1="773.9" x2="674.8" y2="773.9" stroke="#333" stroke-width="0.75" stroke-linecap="butt"/>
<line x1="479" y1="769.25" x2="480.8" y2="769.25" stroke="#333" stroke-width="0.75" stroke-linecap="butt"/>
<line x1="673" y1="769.25" x2="674.8" y2="769.25" stroke="#333" stroke-width="0.75" stroke-linecap="butt"/>
<line x1="479" y1="765.45" x2="480.8" y2="765.45" stroke="#333" stroke-width="0.75" stroke-linecap="butt"/>
<line x1="673" y1="765.45" x2="674.8" y2="765.45" stroke="#333" stroke-width="0.75" stroke-linecap="butt"/>
<line x1="479" y1="762.24" x2="480.8" y2="762.24" stroke="#333" stroke-width="0.75" stroke-linecap="butt"/>
<line x1="673" y1="762.24" x2="674.8" y2="762.24" stroke="#333" stroke-width="0.75" stroke-linecap="butt"/>
<line x1="479" y1="759.45" x2="480.8" y2="759.45" stroke="#333" stroke-width="0.75" stroke-linecap="butt"/>
<line x1="673" y1="759.45" x2="674.8" y2="759.45" stroke="#333" stroke-width="0.75" stroke-linecap="butt"/>
<line x1="479" y1="757" x2="480.8" y2="757" stroke="#333" stroke-width="0.75" stroke-linecap="butt"/>
<line x1="673" y1="757" x2="674.8" y2="757" stroke="#333" stroke-width="0.75" stroke-linecap="butt"/>
<line x1="479" y1="740.35" x2="480.8" y2="740.35" stroke="#333" stroke-width="0.75" stroke-linecap="butt"/>
<line x1="673" y1="740.35" x2="674.8" y2="740.35" stroke="#333" stroke-width="0.75" stroke-linecap="butt"/>
<line x1="479" y1="731.9" x2="480.8" y2="731.9" stroke="#333" stroke-width="0.75" stroke-linecap="butt"/>
<line x1="673" y1="731.9" x2="674.8" y2="731.9" stroke="#333" stroke-width="0.75" stroke-linecap="butt"/>
<line x1="479" y1="725.9" x2="480.8" y2="725.9" stroke="#333" stroke-width="0.75" stroke-linecap="butt"/>
<line x1="673" y1="725.9" x2="674.8" y2="725.9" stroke="#333" stroke-width="0.75" stroke-linecap="butt"/>
<line x1="479" y1="721.25" x2="480.8" y2="721.25" stroke="#333" stroke-width="0.75" stroke-linecap="butt"/>
<line x1="673" y1="721.25" x2="674.8" y2="721.25" stroke="#333" stroke-width="0.75" stroke-linecap="butt"/>
<line x1="479" y1="717.45" x2="480.8" y2="717.45" stroke="#333" stroke-width="0.75" stroke-linecap="butt"/>
<line x1="673" y1="717.45" x2="674.8" y2="717.45" stroke="#333" stroke-width="0.75" stroke-linecap="butt"/>
<line x1="479" y1="714.24" x2="480.8" y2="714.24" stroke="#333" stroke-width="0.75" stroke-linecap="butt"/>
<line x1="673" y1="714.24" x2="674.8" y2="714.24" stroke="#333" stroke-width="0.75" stroke-linecap="butt"/>
<line x1="479" y1="711.45" x2="480.8" y2="711.45" stroke="#333" stroke-width="0.75" stroke-linecap="butt"/>
<line x1="673" y1="711.45" x2="674.8" y2="711.45" stroke="#333" stroke-width="0.75" stroke-linecap="butt"/>
<line x1="479" y1="709" x2="480.8" y2="709" stroke="#333" stroke-width="0.75" stroke-linecap="butt"/>
<line x1="673" y1="709" x2="674.8" y2="709" stroke="#333" stroke-width="0.75" stroke-linecap="butt"/>
<text x="480.8" y="860.5" font-size="5.6" text-anchor="middle" fill="#222">1</text>
<text x="477.8" y="852.8" font-size="5.6" text-anchor="end" fill="#222">1</text>
<text x="545.47" y="860.5" font-size="5.6" text-anchor="middle" fill="#222">10</text>
<text x="477.8" y="804.8" font-size="5.6" text-anchor="end" fill="#222">10</text>
<text x="610.13" y="860.5" font-size="5.6" text-anchor="middle" fill="#222">100</text>
<text x="477.8" y="756.8" font-size="5.6" text-anchor="end" fill="#222">100</text>
<text x="674.8" y="860.5" font-size="5.6" text-anchor="middle" fill="#222">1000</text>
<text x="477.8" y="708.8" font-size="5.6" text-anchor="end" fill="#222">1000</text>
<text transform="translate(458.2 783.2) rotate(-90) scale(1 0.45)" font-size="7" text-anchor="middle" dominant-baseline="central" fill="#777">Log Nb (ppm)</text>
<text x="578.5" y="872.18" font-size="7.2" text-anchor="middle" fill="#222">Log Y+ Nb (ppm)</text>
<polyline points="480.8,772.9 582.6,744.7 629.6,709.1" fill="none" stroke="#333" stroke-width="0.7" stroke-linejoin="miter"/>
<line x1="582.6" y1="744.7" x2="582.6" y2="850.8" stroke="#333" stroke-width="0.8" stroke-linecap="butt"/>
<line x1="582.6" y1="805.8" x2="673.3" y2="736.3" stroke="#333" stroke-width="0.7" stroke-linecap="butt"/>
<polygon points="573.2,759.4 578.3,759.4 578.3,761.8 581,761.8 581,768.5 577.6,768.5 577.6,770.7 573.4,770.7 573.4,768.5 570.2,768.5 570.2,762.2 573.2,762.2" fill="#000" stroke="#000" stroke-width="0.3" stroke-linejoin="miter"/>
<circle cx="601" cy="750.6" r="2.7" fill="#f00" stroke="none" stroke-width="0"/>
<circle cx="605.4" cy="750.4" r="2.7" fill="#f00" stroke="none" stroke-width="0"/>
<circle cx="601.3" cy="754" r="2.7" fill="#f00" stroke="none" stroke-width="0"/>
<circle cx="605.6" cy="754" r="2.7" fill="#f00" stroke="none" stroke-width="0"/>
<circle cx="603.3" cy="752.2" r="2.7" fill="#f00" stroke="none" stroke-width="0"/>
<text x="534.9" y="736.78" font-size="6.6" text-anchor="middle" fill="#222">Syn-COLG</text>
<text x="626.9" y="753.58" font-size="6.6" text-anchor="middle" fill="#222">WPG</text>
<text x="525.5" y="788.88" font-size="6.6" text-anchor="middle" fill="#222">VAG</text>
<text x="630.3" y="820.38" font-size="6.6" text-anchor="middle" fill="#222">ORG</text>
<text x="482.5" y="826.45" font-size="5.6" text-anchor="start" fill="#222">WPG, within plate granites;</text>
<text x="482.5" y="833.85" font-size="5.6" text-anchor="start" fill="#222">VAG, volcanic arc granites;</text>
<text x="482.5" y="840.85" font-size="5.6" text-anchor="start" fill="#222">COL, collision granites;</text>
<text x="482.5" y="847.95" font-size="5.6" text-anchor="start" fill="#222">ORG, ocean ridge granites.</text>
<rect x="599.8" y="707.4" width="75" height="22.2" fill="#fff" fill-opacity="0.75" stroke="#999" stroke-width="0.8"/>
<line x1="582.6" y1="744.7" x2="629.6" y2="709.1" stroke="#333" stroke-width="0.7" stroke-linecap="butt"/>
<rect x="604.9" y="712.6" width="3.8" height="3.8" fill="#000"/>
<circle cx="607.8" cy="723.2" r="2.1" fill="#f00" stroke="none" stroke-width="0"/>
<text x="618.4" y="716.93" font-size="7.05" text-anchor="start" fill="#222">Older granite</text>
<text x="618.4" y="725.73" font-size="7.05" text-anchor="start" fill="#222">Younger granite</text>
<circle cx="488.6" cy="714.9" r="7.6" fill="#fff" stroke="#111" stroke-width="1.0"/>
<text x="488.6" y="718.15" font-size="12.5" text-anchor="middle" fill="#111">o</text>
</svg></body></html>
